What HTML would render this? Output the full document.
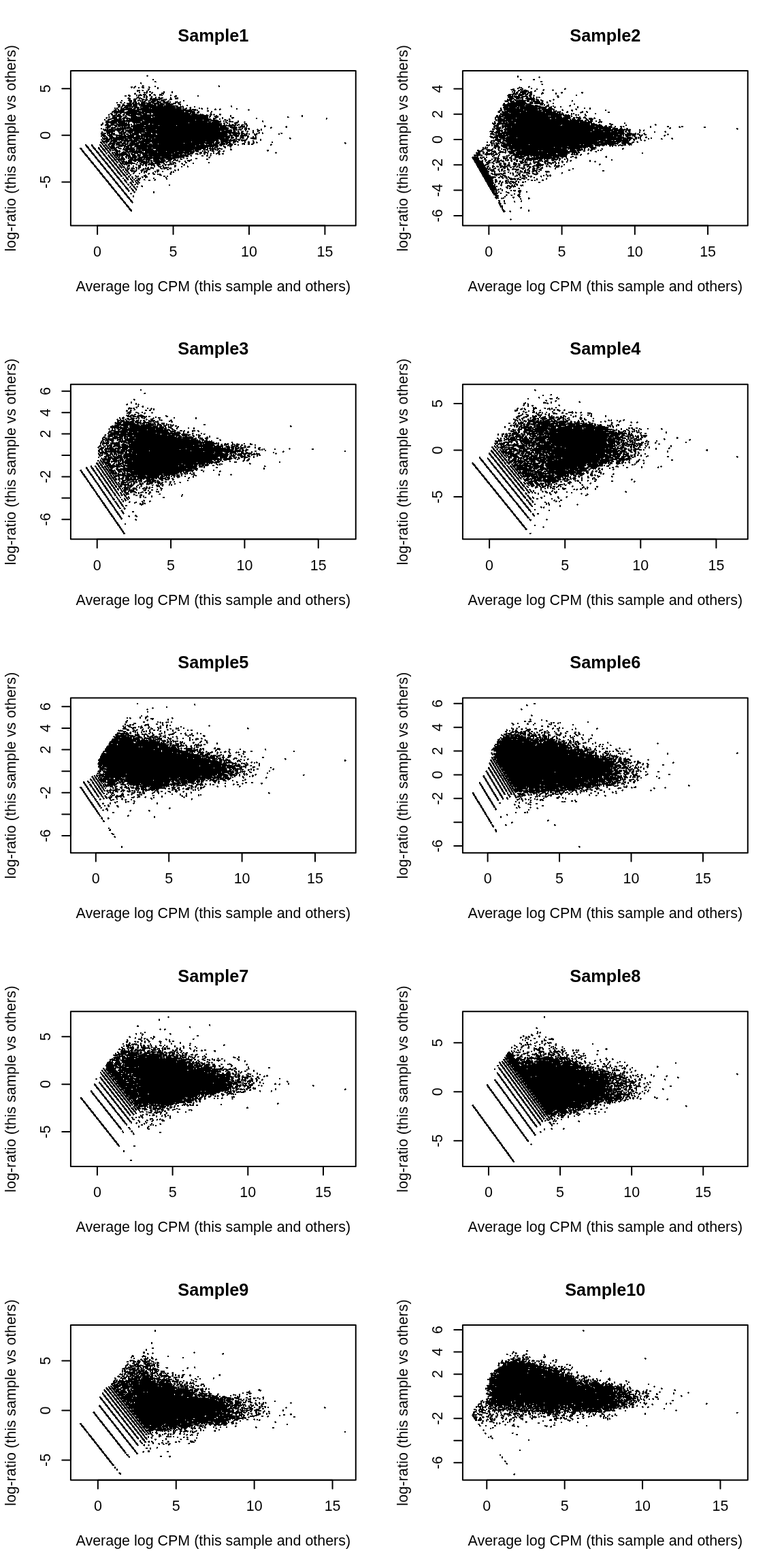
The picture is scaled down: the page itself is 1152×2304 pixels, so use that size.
<!DOCTYPE html>
<html lang="en"><head><meta charset="utf-8"><title>MD plots</title>
<style>
html,body{margin:0;padding:0;background:#fff}
svg{display:block}
text{font-family:"Liberation Sans",Arial,Helvetica,sans-serif;font-size:21.45px;fill:#000}
.t{font-weight:bold;font-size:25.34px}
.m{text-anchor:middle}
.y{letter-spacing:.14px}
.l{stroke:#000;stroke-width:2;fill:none;stroke-linecap:round;stroke-linejoin:round}
</style></head>
<body>
<svg width="1152" height="2304" viewBox="0 0 1152 2304">
<rect width="1152" height="2304" fill="#fff"/>
<g>
<path transform="translate(0 .5)" shape-rendering="crispEdges" stroke="#000" stroke-width="1" fill="none" d="M216 110h1M215 111h3M216 112h1M224 116h2M224 117h2M227 119h2M227 120h3M206 121h2M206 122h2M207 123h1M209 125h2m110 0h1M198 126h2m9 0h3m15 0h2m92 0h2M192 127h3m2 0h3m8 0h3m7 0h2m7 0h2m92 0h2M192 128h3m1 0h3m4 0h2m3 0h4m6 0h3m10 0h2M193 129h1m2 0h2m5 0h2m4 0h3m7 0h1m11 0h2M217 130h3m11 0h2M217 131h3M201 132h5m2 0h3m6 0h2M201 133h5m3 0h2m4 0h3M201 134h2m1 0h1m10 0h2m2 0h3m18 0h2m10 0h2M204 135h2m5 0h2m1 0h3m2 0h3m1 0h2m15 0h2m10 0h2M198 136h1m5 0h2m5 0h6m5 0h3m12 0h5m10 0h2M197 137h3m12 0h1m2 0h1m6 0h2m13 0h4M197 138h3m5 0h2m3 0h5m4 0h3m4 0h2m6 0h4m1 0h2M188 139h3m9 0h2m1 0h6m1 0h5m4 0h3m3 0h4m5 0h5m11 0h2M183 140h3m2 0h4m8 0h2m1 0h6m2 0h2m1 0h2m3 0h3m5 0h2m5 0h2m1 0h2m11 0h2m5 0h3m30 0h2M183 141h3m3 0h3m11 0h2m6 0h2m1 0h3m3 0h1m1 0h2m32 0h4m30 0h2M190 142h1m9 0h4m6 0h3m1 0h3m5 0h2m4 0h2m3 0h2m15 0h1m5 0h3M188 143h2m11 0h6m4 0h2m1 0h3m4 0h3m4 0h2m2 0h3m1 0h4m10 0h2m5 0h1m1 0h3M187 144h5m6 0h1m1 0h2m1 0h6m5 0h2m4 0h4m1 0h5m3 0h7m10 0h2m5 0h5M188 145h4m4 0h6m2 0h2m1 0h5m2 0h3m3 0h18m3 0h1m1 0h2m4 0h4m4 0h5M189 146h3m4 0h4m3 0h1m1 0h1m2 0h9m3 0h16m1 0h8m4 0h4M178 147h2m8 0h6m2 0h4m2 0h5m1 0h3m2 0h4m1 0h4m1 0h9m2 0h1m1 0h6m1 0h1m3 0h1m1 0h1m19 0h2M178 148h2m9 0h5m2 0h4m2 0h2m1 0h5m1 0h4m3 0h2m1 0h8m1 0h4m2 0h7m3 0h3m11 0h1m8 0h2M177 149h1m12 0h4m2 0h5m5 0h1m1 0h6m4 0h2m1 0h8m1 0h7m2 0h4m1 0h4m1 0h2m6 0h4m3 0h2M171 150h2m3 0h3m3 0h2m6 0h4m1 0h6m2 0h2m2 0h7m1 0h1m2 0h9m3 0h7m2 0h9m1 0h2m6 0h9M171 151h2m4 0h2m3 0h2m2 0h7m1 0h3m1 0h4m1 0h2m2 0h15m1 0h16m1 0h10m4 0h5m2 0h3M180 152h2m4 0h20m1 0h7m1 0h7m1 0h1m1 0h9m1 0h7m1 0h16m2 0h5M172 153h5m3 0h3m4 0h7m1 0h7m1 0h11m1 0h10m1 0h4m1 0h11m1 0h12m7 0h4M172 154h5m2 0h5m1 0h9m1 0h7m2 0h26m1 0h11m1 0h11m1 0h1m2 0h1m5 0h2m8 0h2M174 155h3m2 0h15m1 0h7m2 0h1m1 0h24m1 0h9m1 0h21m3 0h1m2 0h1m5 0h2m63 0h2M173 156h4m1 0h3m2 0h19m4 0h51m1 0h4m2 0h6m15 0h2m52 0h2M173 157h3m1 0h3m2 0h7m1 0h2m1 0h3m1 0h8m1 0h2m1 0h58m1 0h2m9 0h2m4 0h2m53 0h1M168 158h2m1 0h2m1 0h1m2 0h3m1 0h14m1 0h9m1 0h13m1 0h38m1 0h8m1 0h2m3 0h2m3 0h3m11 0h2m2 0h1m7 0h2M168 159h2m1 0h2m4 0h6m1 0h10m2 0h4m1 0h4m1 0h16m1 0h44m1 0h2m1 0h4m4 0h2m11 0h2m1 0h3m6 0h2m10 0h1m6 0h1m23 0h2M169 160h6m2 0h22m2 0h66m1 0h6m4 0h3m1 0h6m8 0h2m6 0h2m9 0h3m4 0h3m22 0h2m16 0h1M167 161h4m2 0h2m1 0h115m24 0h3m4 0h2m40 0h3M167 162h5m1 0h10m5 0h17m1 0h1m1 0h75m1 0h4m1 0h2m13 0h3m58 0h1M165 163h18m3 0h21m1 0h63m1 0h14m5 0h2m11 0h3m3 0h2M164 164h19m1 0h87m1 0h15m2 0h4m17 0h2M164 165h2m1 0h35m1 0h9m1 0h64m2 0h8m2 0h4m16 0h2M162 166h3m2 0h6m3 0h3m3 0h35m1 0h4m2 0h57m1 0h5m2 0h3m17 0h2M160 167h1m1 0h4m4 0h2m1 0h5m3 0h2m2 0h23m1 0h7m4 0h3m2 0h65m4 0h2m1 0h1m11 0h2m3 0h1m7 0h3M159 168h2m2 0h3m2 0h4m1 0h4m3 0h4m1 0h6m1 0h17m1 0h12m1 0h57m1 0h19m3 0h2m3 0h4m1 0h3m6 0h3M159 169h2m3 0h14m2 0h3m1 0h2m1 0h13m2 0h105m1 0h3m3 0h1m2 0h2m4 0h1m14 0h2m103 0h2M165 170h5m1 0h8m1 0h3m1 0h2m3 0h12m5 0h100m2 0h2m5 0h6m17 0h2m103 0h2M159 171h3m3 0h15m3 0h4m5 0h30m1 0h3m1 0h79m1 0h3m4 0h7m17 0h2m82 0h2m19 0h2M156 172h2m1 0h3m3 0h7m3 0h4m2 0h5m1 0h1m4 0h30m2 0h82m1 0h2m7 0h5m5 0h2m12 0h4m78 0h3M155 173h3m6 0h8m2 0h4m2 0h11m1 0h114m7 0h6m7 0h2m12 0h4m32 0h2m101 0h2M156 174h1m2 0h14m1 0h10m1 0h125m3 0h4m5 0h2m2 0h2m8 0h2m3 0h1m34 0h2m101 0h2M153 175h2m3 0h6m3 0h12m1 0h3m3 0h2m1 0h122m2 0h3m1 0h1m4 0h2m5 0h3m4 0h3m140 0h1M153 176h2m3 0h4m2 0h15m1 0h4m1 0h25m1 0h76m1 0h10m1 0h21m10 0h5m1 0h2M155 177h5m3 0h48m1 0h96m1 0h13m1 0h2m3 0h2m1 0h1m1 0h2m2 0h2m10 0h2m34 0h2M155 178h52m1 0h103m1 0h13m3 0h2m1 0h2m3 0h7m6 0h2m8 0h1m25 0h2M155 179h17m1 0h11m2 0h1m1 0h3m3 0h13m1 0h97m1 0h4m1 0h14m6 0h3m2 0h3m1 0h3m3 0h5m7 0h3m25 0h1M150 180h2m3 0h17m1 0h14m1 0h2m5 0h82m1 0h45m1 0h1m3 0h3m1 0h3m9 0h6m9 0h1M150 181h2m4 0h3m3 0h11m1 0h13m1 0h2m6 0h3m1 0h2m1 0h1m1 0h14m1 0h106m2 0h3m2 0h2m1 0h2m6 0h5m10 0h4M148 182h4m3 0h5m3 0h5m3 0h20m1 0h2m2 0h3m1 0h18m2 0h4m1 0h101m3 0h2m5 0h2m3 0h2m2 0h2m3 0h2m4 0h1m1 0h5M148 183h3m3 0h6m1 0h30m1 0h2m2 0h130m2 0h3m1 0h2m2 0h16m2 0h4m3 0h3M148 184h2m4 0h12m1 0h5m1 0h18m2 0h19m2 0h19m1 0h25m1 0h87m1 0h2m1 0h1m2 0h3m1 0h2m2 0h2m24 0h2M157 185h6m6 0h18m1 0h3m1 0h141m1 0h8m1 0h3m7 0h7m1 0h3m24 0h3m29 0h2M155 186h8m1 0h2m2 0h4m2 0h2m1 0h1m1 0h2m1 0h3m1 0h5m1 0h130m1 0h10m4 0h11m2 0h10m2 0h1m25 0h2m8 0h1m20 0h3M155 187h7m1 0h7m2 0h2m2 0h17m2 0h16m1 0h124m2 0h11m1 0h5m1 0h2m1 0h4m34 0h3m20 0h2M148 188h2m6 0h4m3 0h7m1 0h23m1 0h141m3 0h9m4 0h1m2 0h2m2 0h4m1 0h3m30 0h2M148 189h2m1 0h2m1 0h2m1 0h2m1 0h7m1 0h18m1 0h2m1 0h146m6 0h7m1 0h7m2 0h4m1 0h3m11 0h1m4 0h2M151 190h32m1 0h2m1 0h1m1 0h24m1 0h15m1 0h106m1 0h4m1 0h7m1 0h5m4 0h4m2 0h2m10 0h3m3 0h2M152 191h26m1 0h4m1 0h146m1 0h10m1 0h4m1 0h2m1 0h1m2 0h2m5 0h2m9 0h2m5 0h4m1 0h2M153 192h16m3 0h5m1 0h4m2 0h29m1 0h110m1 0h16m2 0h4m2 0h3m3 0h3m2 0h2m1 0h2m6 0h2m5 0h4M149 193h2m5 0h13m4 0h3m1 0h6m1 0h2m1 0h9m1 0h17m1 0h109m1 0h16m1 0h4m3 0h2m3 0h4m4 0h3m6 0h2m5 0h2M149 194h3m4 0h10m8 0h12m1 0h8m2 0h151m1 0h3m2 0h3m6 0h1m7 0h2m7 0h2m3 0h1M148 195h3m1 0h4m1 0h5m1 0h6m5 0h6m1 0h4m4 0h19m2 0h1m1 0h10m1 0h130m1 0h5m2 0h3m7 0h2m4 0h1m1 0h3m3 0h2m25 0h3M148 196h8m1 0h5m1 0h6m6 0h9m1 0h4m1 0h3m1 0h10m2 0h16m2 0h5m1 0h104m2 0h4m1 0h12m1 0h6m1 0h3m1 0h2m6 0h2m1 0h3m1 0h1m4 0h2m22 0h2m2 0h2M148 197h6m3 0h2m1 0h10m1 0h1m3 0h1m1 0h7m1 0h4m2 0h13m3 0h22m2 0h104m2 0h3m2 0h7m1 0h2m2 0h3m1 0h6m1 0h2m6 0h5m31 0h2M149 198h6m3 0h7m1 0h14m2 0h3m2 0h18m2 0h127m3 0h15m1 0h10m11 0h4M148 199h8m2 0h8m4 0h16m1 0h10m3 0h142m1 0h8m2 0h13m8 0h2M148 200h2m1 0h6m3 0h6m4 0h3m1 0h23m2 0h139m1 0h3m3 0h6m2 0h6m1 0h1m2 0h3m5 0h2m2 0h2M150 201h1m1 0h2m1 0h3m2 0h8m2 0h36m1 0h3m1 0h127m1 0h5m2 0h3m3 0h6m5 0h3m5 0h2m2 0h2M150 202h2m1 0h6m2 0h25m1 0h26m1 0h4m1 0h8m1 0h102m1 0h7m1 0h5m2 0h2m5 0h6m4 0h2m3 0h9m48 0h2M150 203h9m1 0h34m1 0h18m1 0h123m2 0h4m3 0h2m4 0h2m1 0h4m3 0h2m4 0h9m48 0h3M149 204h1m1 0h14m1 0h16m1 0h5m1 0h6m1 0h26m1 0h113m2 0h2m3 0h11m1 0h1m5 0h3m7 0h6m5 0h2m42 0h1M148 205h3m1 0h2m1 0h7m1 0h26m1 0h5m1 0h8m1 0h2m2 0h112m2 0h23m1 0h1m1 0h4m1 0h9m19 0h2M149 206h3m2 0h7m1 0h11m1 0h2m2 0h28m1 0h115m2 0h24m2 0h3m1 0h8m9 0h2m9 0h2M150 207h11m1 0h10m4 0h5m1 0h20m1 0h113m1 0h4m3 0h11m1 0h5m1 0h8m5 0h2m1 0h3m4 0h1m5 0h2M147 208h13m1 0h4m1 0h13m2 0h4m1 0h4m2 0h10m1 0h78m1 0h20m1 0h12m2 0h6m1 0h15m3 0h5m1 0h3m8 0h2m3 0h3m5 0h2m2 0h2m21 0h2M147 209h3m1 0h3m1 0h3m3 0h3m1 0h5m1 0h9m1 0h4m1 0h3m1 0h9m1 0h12m1 0h8m2 0h92m1 0h7m1 0h5m1 0h9m3 0h4m3 0h1m9 0h2m3 0h3m4 0h3m2 0h3m20 0h2m105 0h2M148 210h3m1 0h3m1 0h2m2 0h25m1 0h3m1 0h30m1 0h1m1 0h47m1 0h44m1 0h7m1 0h7m1 0h3m1 0h4m2 0h2m12 0h4m4 0h3m4 0h3m3 0h1m128 0h3M149 211h3m1 0h1m1 0h1m3 0h10m1 0h6m3 0h10m1 0h14m2 0h17m1 0h8m1 0h67m2 0h10m1 0h9m1 0h12m1 0h6m2 0h3m8 0h5m4 0h3m2 0h4m25 0h1m108 0h1M125 212h2m7 0h2m10 0h2m2 0h2m2 0h3m1 0h5m1 0h5m1 0h12m1 0h5m1 0h15m1 0h12m1 0h75m1 0h7m2 0h2m1 0h14m2 0h9m1 0h2m1 0h7m2 0h3m2 0h2m5 0h1m1 0h2m4 0h3m2 0h3m25 0h3M125 213h3m6 0h3m9 0h3m2 0h6m1 0h3m2 0h6m1 0h15m2 0h134m1 0h5m1 0h1m5 0h8m7 0h2m46 0h2M126 214h3m5 0h3m10 0h3m1 0h3m1 0h3m1 0h3m1 0h5m6 0h21m3 0h89m1 0h33m2 0h3m2 0h2m4 0h2m1 0h4M126 215h4m5 0h3m9 0h3m2 0h3m1 0h3m1 0h9m2 0h9m2 0h8m1 0h3m3 0h118m1 0h5m7 0h4m5 0h3M127 216h4m5 0h3m5 0h2m2 0h3m2 0h3m1 0h3m1 0h8m1 0h5m7 0h2m1 0h5m1 0h4m1 0h3m1 0h106m2 0h2m1 0h2m1 0h6m9 0h3m6 0h2M117 217h3m8 0h3m5 0h4m4 0h3m2 0h3m2 0h3m1 0h14m1 0h5m3 0h16m3 0h16m1 0h6m1 0h79m1 0h2m1 0h3m1 0h3m1 0h2m1 0h2m1 0h3m6 0h2M117 218h4m8 0h3m5 0h4m3 0h3m3 0h3m1 0h7m1 0h9m3 0h5m2 0h2m1 0h15m1 0h102m2 0h2m1 0h10m1 0h9m11 0h2M118 219h3m9 0h3m5 0h3m4 0h3m2 0h4m1 0h3m2 0h4m1 0h1m1 0h5m5 0h1m2 0h19m1 0h25m4 0h67m2 0h8m2 0h10m1 0h3m2 0h3m11 0h3M119 220h3m8 0h4m5 0h3m4 0h3m2 0h4m1 0h3m1 0h3m1 0h9m2 0h1m4 0h18m2 0h2m1 0h4m1 0h19m1 0h57m1 0h9m4 0h2m1 0h4m2 0h2m1 0h3m2 0h5m1 0h1m15 0h3m51 0h3M120 221h3m8 0h4m5 0h3m4 0h3m2 0h3m2 0h3m1 0h3m1 0h2m1 0h9m6 0h5m2 0h92m1 0h9m5 0h2m1 0h2m3 0h2m1 0h7m4 0h1m1 0h3m4 0h2m62 0h3M120 222h4m8 0h3m6 0h3m3 0h4m2 0h3m2 0h3m1 0h1m6 0h8m4 0h2m1 0h25m1 0h1m2 0h31m1 0h16m1 0h8m1 0h15m1 0h5m5 0h2m1 0h2m3 0h2m4 0h4m5 0h4m3 0h3m63 0h1M121 223h3m9 0h3m5 0h4m3 0h3m3 0h2m2 0h4m2 0h2m1 0h2m1 0h4m1 0h2m2 0h32m2 0h18m1 0h54m2 0h1m1 0h2m1 0h4m2 0h5m1 0h2m6 0h1m6 0h3m5 0h1m76 0h1M122 224h3m9 0h3m5 0h4m3 0h3m3 0h3m1 0h3m2 0h10m1 0h1m2 0h8m1 0h3m1 0h1m1 0h63m1 0h21m1 0h6m8 0h4m2 0h7m7 0h2m4 0h4m81 0h3M123 225h3m8 0h4m5 0h3m4 0h3m2 0h3m2 0h3m1 0h3m1 0h6m1 0h12m1 0h3m1 0h3m2 0h6m2 0h64m1 0h14m3 0h4m2 0h4m2 0h3m2 0h2m3 0h2m2 0h2m2 0h6m3 0h3m76 0h1M124 226h3m8 0h4m5 0h3m4 0h3m2 0h1m4 0h3m1 0h3m1 0h19m1 0h2m1 0h7m2 0h4m1 0h1m2 0h8m1 0h34m1 0h15m1 0h1m1 0h3m1 0h8m4 0h5m1 0h2m4 0h3m2 0h2m3 0h2m6 0h2m2 0h3m2 0h3M124 227h4m8 0h3m6 0h3m3 0h4m3 0h2m2 0h3m1 0h25m2 0h6m3 0h5m2 0h54m1 0h15m1 0h1m9 0h1m9 0h1m3 0h1m4 0h1m11 0h2M125 228h4m8 0h3m5 0h4m3 0h3m3 0h3m1 0h4m1 0h16m2 0h7m2 0h6m1 0h6m3 0h67m2 0h3m14 0h3m4 0h3m2 0h3M126 229h3m9 0h3m5 0h3m4 0h3m3 0h3m1 0h3m1 0h3m1 0h3m1 0h2m1 0h3m3 0h8m2 0h7m1 0h4m3 0h9m1 0h58m3 0h2m14 0h3m4 0h3m3 0h1M127 230h3m9 0h3m5 0h3m4 0h3m2 0h3m2 0h3m1 0h9m1 0h3m3 0h3m1 0h5m1 0h8m1 0h21m1 0h11m1 0h15m1 0h18m2 0h4m30 0h2M128 231h3m8 0h4m5 0h3m4 0h3m2 0h3m2 0h3m1 0h3m1 0h3m2 0h4m2 0h3m1 0h14m1 0h68m35 0h3M129 232h3m8 0h3m6 0h3m3 0h4m2 0h3m2 0h3m1 0h3m1 0h2m1 0h6m2 0h2m1 0h2m1 0h9m2 0h8m1 0h52m2 0h1m3 0h2m3 0h2m11 0h3m17 0h1M129 233h4m8 0h3m5 0h4m3 0h3m3 0h3m2 0h3m1 0h13m4 0h8m1 0h12m1 0h3m1 0h9m2 0h16m1 0h1m1 0h14m6 0h4m6 0h2m11 0h3m13 0h3M130 234h3m9 0h3m5 0h4m3 0h3m3 0h3m1 0h17m6 0h31m4 0h9m1 0h8m1 0h9m2 0h4m1 0h2m3 0h3m12 0h2m21 0h3M131 235h3m9 0h3m5 0h3m4 0h3m2 0h4m1 0h3m2 0h6m1 0h3m5 0h23m3 0h10m1 0h10m1 0h7m4 0h5m2 0h8m13 0h7M132 236h3m8 0h4m5 0h3m4 0h3m2 0h4m1 0h3m1 0h3m1 0h6m2 0h1m2 0h6m1 0h6m1 0h11m1 0h2m1 0h3m1 0h3m1 0h19m2 0h5m3 0h2m2 0h4m1 0h2m6 0h2m2 0h5M133 237h3m8 0h4m5 0h3m4 0h3m2 0h3m2 0h3m1 0h3m1 0h9m1 0h6m3 0h3m3 0h17m1 0h3m1 0h18m1 0h4m1 0h2m1 0h2m8 0h3m6 0h2m4 0h2M133 238h4m8 0h3m6 0h3m3 0h4m2 0h3m2 0h3m1 0h3m1 0h16m6 0h2m2 0h1m1 0h13m1 0h4m2 0h14m2 0h3m3 0h2m1 0h6m5 0h1m8 0h3m31 0h2M134 239h4m8 0h3m5 0h4m3 0h3m3 0h3m1 0h3m2 0h6m1 0h15m3 0h2m2 0h12m1 0h2m1 0h5m1 0h15m2 0h1m4 0h3m2 0h5m8 0h1m4 0h3m8 0h2m21 0h2M135 240h3m9 0h3m5 0h4m3 0h3m2 0h4m5 0h23m1 0h1m4 0h3m2 0h7m1 0h17m5 0h2m7 0h7m1 0h2m7 0h3m14 0h2M136 241h3m8 0h4m5 0h3m4 0h3m2 0h4m2 0h2m1 0h3m1 0h7m1 0h1m2 0h2m5 0h3m4 0h6m1 0h3m1 0h10m3 0h6m4 0h5m1 0h10m11 0h2m1 0h2M137 242h3m8 0h4m5 0h3m4 0h3m2 0h3m2 0h3m1 0h3m1 0h2m1 0h2m1 0h3m9 0h2m1 0h5m1 0h2m2 0h3m1 0h3m1 0h7m2 0h6m2 0h2m2 0h3m1 0h4m1 0h1m4 0h3m10 0h3M138 243h3m8 0h3m6 0h3m3 0h4m2 0h3m2 0h3m1 0h2m6 0h4m4 0h2m6 0h4m2 0h2m2 0h3m6 0h2m1 0h3m3 0h3m4 0h3m1 0h2m3 0h1m8 0h3m11 0h1m4 0h1M138 244h4m8 0h3m5 0h4m3 0h3m3 0h3m1 0h4m1 0h3m4 0h4m4 0h2m6 0h4m7 0h2m10 0h2m4 0h6m1 0h2m15 0h3m7 0h2m7 0h2M139 245h3m9 0h3m5 0h4m3 0h3m3 0h3m1 0h8m3 0h2m6 0h1m3 0h2m2 0h4m10 0h2m2 0h3m2 0h2m5 0h4m2 0h3m1 0h2m1 0h2m8 0h2m8 0h2m7 0h2M140 246h3m9 0h3m5 0h3m4 0h3m2 0h4m1 0h3m1 0h3m2 0h2m1 0h2m2 0h4m2 0h3m1 0h4m6 0h2m1 0h3m2 0h5m9 0h2m2 0h9m1 0h3M141 247h3m8 0h4m5 0h3m4 0h3m2 0h3m2 0h1m4 0h2m1 0h5m1 0h6m2 0h2m1 0h2m5 0h2m1 0h6m1 0h6m9 0h4m1 0h6m2 0h4M142 248h3m8 0h3m6 0h3m3 0h4m2 0h3m3 0h2m1 0h3m1 0h3m3 0h5m2 0h1m2 0h2m4 0h6m1 0h5m4 0h1m11 0h2m1 0h3m2 0h3m1 0h3m9 0h2M142 249h4m8 0h3m6 0h3m4 0h3m2 0h3m2 0h2m2 0h6m1 0h4m4 0h3m5 0h5m2 0h7m9 0h4m11 0h3m8 0h2m3 0h2M143 250h4m8 0h3m5 0h4m3 0h3m3 0h3m1 0h2m2 0h4m3 0h7m1 0h2m5 0h5m1 0h1m1 0h3m13 0h4m22 0h3m2 0h2M144 251h3m9 0h3m5 0h3m4 0h3m2 0h4m2 0h2m1 0h4m3 0h9m6 0h3m1 0h6m10 0h2m1 0h4m4 0h2m11 0h1m2 0h1m2 0h1M145 252h3m8 0h4m5 0h3m4 0h3m2 0h3m2 0h2m2 0h3m4 0h2m1 0h4m7 0h2m2 0h5m11 0h2m1 0h3m5 0h2m11 0h2m1 0h2M146 253h3m8 0h4m5 0h3m3 0h4m2 0h3m2 0h3m1 0h3m6 0h2m9 0h2m2 0h2m1 0h2m8 0h2m2 0h1m2 0h1m18 0h3m1 0h2M146 254h4m8 0h3m6 0h3m3 0h4m2 0h3m2 0h2m2 0h3m4 0h3m6 0h2m5 0h2m5 0h2m4 0h2m24 0h2M147 255h4m8 0h3m5 0h4m3 0h3m3 0h3m3 0h2m1 0h2m4 0h2m7 0h2m11 0h3m4 0h4m3 0h2m1 0h2m13 0h3M148 256h3m9 0h3m5 0h3m4 0h3m2 0h4m1 0h3m3 0h2m20 0h1m4 0h1m6 0h3m3 0h6m13 0h2M149 257h3m9 0h3m5 0h3m4 0h3m2 0h4m1 0h1m3 0h3m6 0h1m11 0h4m19 0h4M150 258h3m8 0h4m5 0h3m4 0h3m2 0h3m3 0h2m1 0h1m6 0h3m1 0h2m7 0h5m20 0h1m3 0h3m2 0h2M150 259h4m8 0h3m6 0h3m3 0h3m4 0h2m2 0h3m2 0h2m4 0h5m4 0h2m1 0h6m23 0h3m2 0h2M151 260h4m8 0h3m5 0h4m9 0h3m1 0h3m2 0h3m4 0h2m6 0h3m2 0h4m26 0h2M152 261h3m9 0h3m5 0h4m4 0h2m3 0h3m3 0h1m2 0h2m2 0h2m2 0h2m1 0h2m2 0h1m3 0h2m10 0h2m16 0h2M153 262h3m9 0h3m5 0h3m4 0h2m3 0h4m2 0h2m1 0h2m2 0h3m1 0h5m18 0h2m17 0h2M154 263h3m8 0h4m5 0h3m5 0h2m2 0h3m2 0h3m2 0h2m4 0h4m5 0h2m14 0h2m15 0h2M155 264h3m8 0h3m6 0h3m4 0h3m2 0h2m3 0h3m1 0h2m2 0h6m5 0h3m4 0h3m5 0h3M155 265h4m8 0h3m6 0h3m3 0h4m7 0h3m2 0h5m1 0h1m13 0h3m6 0h1M156 266h4m8 0h3m5 0h4m3 0h3m7 0h3m2 0h2m2 0h2M157 267h3m9 0h3m5 0h3m4 0h3m4 0h2m1 0h3m2 0h6M158 268h3m8 0h4m5 0h3m4 0h2m3 0h4m1 0h2m2 0h3m1 0h3M159 269h3m8 0h4m5 0h3m4 0h1m4 0h3m6 0h3m1 0h1M159 270h4m8 0h3m6 0h3m4 0h3m2 0h3m3 0h2m1 0h3M160 271h4m8 0h3m5 0h3m4 0h3m3 0h3m1 0h3m2 0h1m45 0h2M161 272h3m9 0h3m6 0h2m4 0h2m3 0h3m12 0h1m39 0h2M162 273h3m8 0h4m5 0h3m6 0h1m3 0h3m3 0h1m5 0h3M163 274h3m8 0h4m5 0h3m4 0h3m2 0h3m2 0h3m5 0h2M163 275h4m8 0h3m6 0h3m3 0h2m4 0h3m2 0h1M164 276h4m8 0h3m5 0h4m4 0h2m3 0h3M165 277h3m9 0h3m5 0h4m3 0h3m3 0h3M166 278h3m9 0h3m5 0h3m4 0h3m3 0h2M167 279h3m8 0h4m5 0h3m4 0h3m2 0h2M168 280h3m8 0h3m6 0h3m3 0h3M168 281h4m8 0h3m5 0h2m6 0h3m26 0h2M169 282h3m9 0h3m12 0h3m26 0h2M170 283h3m9 0h3m7 0h1m4 0h1m27 0h2M171 284h3m8 0h4m5 0h3M172 285h3m8 0h4m5 0h1M172 286h4m8 0h3M173 287h4m8 0h3m7 0h2M174 288h3m9 0h3m6 0h2M175 289h3m8 0h4m5 0h2M176 290h3m8 0h4M176 291h4m8 0h3M177 292h4m8 0h3M178 293h3m9 0h3M179 294h3m9 0h3M180 295h3m8 0h4M181 296h3m8 0h3M181 297h4m8 0h3M182 298h3m9 0h1M183 299h3M184 300h3M185 301h3M185 302h4M186 303h4M187 304h3M188 305h3M189 306h3M189 307h4M190 308h4M191 309h3M192 310h2"/>
<path class="l" d="M103.91 103.91H522.78V331.55H103.91Z"/>
<path class="l" d="M143.09 331.55H477.44M143.09 331.55V344.22M254.54 331.55V344.22M365.99 331.55V344.22M477.44 331.55V344.22M103.91 130.25V267.45M103.91 130.25H91.24M103.91 198.85H91.24M103.91 267.45H91.24"/>
<text class="m" x="143.09" y="376.86">0</text>
<text class="m" x="254.54" y="376.86">5</text>
<text class="m" x="365.99" y="376.86">10</text>
<text class="m" x="477.44" y="376.86">15</text>
<text class="m" transform="translate(73.5 130.25) rotate(-90)">5</text>
<text class="m" transform="translate(73.5 198.85) rotate(-90)">0</text>
<text class="m" transform="translate(73.5 267.45) rotate(-90)">-5</text>
<text class="m t" x="313.34" y="60.51">Sample1</text>
<text class="m" x="313.34" y="427.85">Average log CPM (this sample and others)</text>
<text class="m y" transform="translate(22.81 217.73) rotate(-90)">log-ratio (this sample vs others)</text>
</g>
<g>
<path transform="translate(0 .5)" shape-rendering="crispEdges" stroke="#000" stroke-width="1" fill="none" d="M760 111h2M760 112h2m30 0h1M760 113h2m29 0h3M792 114h1M764 116h2m17 0h3M764 117h3m16 0h3M794 119h3M794 120h3M795 123h3M796 124h2M777 126h1M763 127h1m12 0h3M762 128h5m9 0h2M760 129h4m1 0h3m12 0h2m48 0h1M753 130h3m4 0h2m3 0h1m1 0h2m11 0h2m6 0h2m39 0h3M750 131h6m8 0h5m2 0h1m16 0h2m8 0h2m12 0h1m16 0h2M751 132h6m4 0h7m1 0h6m11 0h1m10 0h3m11 0h3M754 133h4m3 0h3m2 0h11m8 0h3m10 0h1m13 0h1M752 134h2m1 0h2m3 0h2m2 0h13m2 0h3m3 0h2M752 135h2m1 0h2m1 0h4m2 0h10m2 0h6m14 0h2m26 0h3m27 0h3M754 136h3m1 0h3m3 0h9m1 0h8m14 0h3m17 0h2m6 0h3m27 0h3M753 137h8m1 0h3m2 0h6m1 0h3m1 0h4m13 0h4m17 0h2m7 0h1m29 0h1M747 138h14m1 0h14m2 0h4m13 0h2m19 0h2M746 139h5m1 0h3m1 0h3m2 0h9m2 0h4m1 0h5m2 0h1m61 0h2M745 140h6m1 0h2m1 0h2m1 0h1m2 0h7m3 0h3m3 0h4m2 0h3m32 0h3m25 0h2M746 141h19m1 0h10m1 0h4m3 0h1m33 0h3M746 142h8m1 0h9m2 0h5m1 0h4m2 0h3m2 0h2m3 0h2m1 0h2m26 0h3M746 143h9m1 0h13m4 0h4m1 0h4m1 0h2m3 0h2m1 0h3m25 0h2M748 144h7m3 0h11m3 0h14m2 0h1M745 145h2m1 0h9m1 0h5m4 0h2m3 0h14m1 0h3m23 0h1M745 146h8m2 0h4m1 0h1m1 0h7m5 0h12m1 0h5m2 0h2m16 0h3M742 147h1m1 0h8m2 0h1m1 0h22m2 0h6m2 0h4m2 0h4m9 0h2m4 0h1m26 0h2M741 148h7m1 0h7m1 0h16m1 0h4m3 0h1m1 0h10m2 0h4m8 0h3m30 0h2M742 149h5m2 0h7m2 0h14m2 0h4m1 0h15m2 0h2m5 0h2m3 0h1m31 0h1M746 150h2m2 0h23m5 0h5m2 0h9m1 0h3m5 0h2M740 151h2m4 0h28m4 0h6m1 0h14m4 0h3m6 0h2M739 152h3m3 0h38m2 0h14m13 0h2m29 0h2M739 153h33m1 0h8m12 0h5m1 0h2m4 0h2m36 0h2M738 154h46m2 0h4m4 0h4m1 0h2m2 0h4m30 0h2M739 155h32m1 0h22m5 0h1m3 0h4m5 0h2m22 0h3M740 156h20m1 0h35m1 0h1m3 0h6m2 0h2m1 0h2m1 0h1m7 0h2m12 0h1m10 0h2M739 157h8m1 0h15m1 0h40m2 0h5m3 0h3m6 0h2m23 0h2M735 158h2m2 0h19m1 0h31m1 0h12m3 0h5m3 0h2m32 0h2m8 0h2m6 0h2M735 159h2m3 0h23m1 0h39m2 0h8m33 0h1m11 0h2m6 0h2M735 160h3m2 0h54m2 0h19m11 0h1m18 0h3m18 0h2M735 161h3m2 0h29m1 0h20m2 0h19m1 0h3m10 0h3m11 0h3m4 0h2m41 0h2M733 162h5m3 0h2m1 0h52m1 0h14m2 0h2m1 0h2m8 0h2m11 0h3m47 0h2M732 163h4m1 0h3m1 0h32m1 0h22m1 0h14m2 0h6m1 0h1m1 0h2m9 0h2m5 0h2m13 0h2m4 0h2M731 164h4m2 0h80m1 0h6m8 0h3m18 0h4m4 0h3m29 0h3M732 165h3m2 0h10m1 0h16m1 0h36m1 0h15m1 0h6m1 0h2m5 0h3m17 0h5m5 0h2m29 0h3M735 166h2m1 0h11m1 0h70m1 0h3m1 0h3m11 0h2m1 0h2m9 0h1m20 0h2M735 167h94m10 0h2m1 0h2m15 0h2m13 0h2M734 168h95m1 0h3m1 0h2m3 0h2m4 0h3m1 0h2m8 0h2M729 169h3m1 0h3m1 0h89m1 0h11m1 0h1m5 0h3m1 0h2m8 0h3M729 170h3m1 0h73m1 0h1m1 0h16m2 0h11m1 0h2m19 0h2M728 171h12m1 0h85m3 0h9m1 0h2m5 0h2m3 0h2m5 0h2M727 172h10m1 0h88m1 0h12m3 0h3m1 0h7m4 0h4m12 0h1M727 173h2m2 0h6m3 0h18m1 0h57m1 0h21m4 0h3m1 0h8m3 0h5m3 0h5m2 0h3M727 174h2m2 0h77m2 0h29m1 0h5m4 0h5m6 0h3m2 0h7m1 0h2M727 175h3m1 0h11m1 0h92m2 0h2m1 0h6m2 0h5m8 0h3m1 0h7m8 0h2M728 176h24m1 0h83m1 0h20m2 0h6m2 0h4m9 0h3M728 177h2m1 0h126m2 0h3m1 0h3m1 0h4m4 0h2m4 0h1M726 178h2m3 0h14m1 0h116m2 0h7m4 0h2m3 0h5M726 179h2m4 0h5m2 0h3m1 0h108m1 0h18m9 0h6M723 180h2m1 0h3m2 0h15m1 0h9m2 0h112m2 0h1m6 0h2m2 0h1m33 0h2M723 181h6m1 0h137m1 0h6m21 0h3m19 0h2M724 182h4m2 0h137m1 0h9m3 0h2m13 0h6m61 0h2M725 183h2m1 0h6m4 0h2m1 0h84m1 0h41m1 0h16m13 0h4m18 0h2m41 0h3M726 184h7m4 0h87m1 0h60m4 0h3m5 0h2m20 0h2m42 0h1M725 185h8m4 0h137m1 0h11m2 0h4m2 0h5m4 0h2m6 0h3m1 0h2m38 0h2m23 0h3m15 0h1m2 0h3M725 186h3m1 0h4m1 0h2m1 0h14m1 0h141m1 0h6m3 0h2m6 0h3m1 0h3m37 0h2m23 0h3m14 0h3m1 0h3m30 0h3M725 187h3m1 0h7m1 0h4m1 0h2m1 0h155m1 0h3m8 0h2m41 0h2m27 0h2m12 0h2m34 0h3M724 188h1m1 0h10m1 0h2m3 0h137m1 0h18m2 0h8m3 0h3m6 0h3m60 0h3m96 0h2M723 189h4m1 0h8m1 0h1m2 0h158m1 0h9m2 0h6m1 0h2m1 0h3m2 0h1m58 0h1m97 0h3M723 190h4m2 0h6m2 0h1m2 0h132m1 0h11m1 0h42m12 0h2m5 0h1m136 0h1M724 191h1m5 0h9m2 0h131m1 0h28m1 0h16m1 0h8m12 0h3m3 0h2M720 192h6m3 0h10m2 0h3m1 0h172m1 0h3m2 0h3m14 0h1m4 0h2m30 0h1M719 193h7m2 0h7m1 0h3m1 0h128m1 0h18m1 0h9m1 0h9m1 0h9m1 0h3m2 0h4m12 0h2m20 0h2m13 0h3M722 194h3m1 0h9m2 0h180m2 0h2m1 0h1m1 0h2m13 0h2m20 0h2m14 0h2M721 195h4m1 0h192m3 0h7m5 0h2m4 0h1m6 0h2M720 196h6m2 0h2m1 0h187m1 0h1m1 0h14m1 0h3m6 0h3m33 0h1M720 197h7m1 0h2m1 0h7m1 0h3m1 0h166m1 0h7m1 0h17m1 0h5m2 0h1m2 0h4m30 0h3M724 198h190m1 0h2m1 0h10m1 0h5m5 0h2m1 0h3m2 0h3m26 0h2m3 0h1M720 199h2m6 0h19m1 0h153m1 0h12m1 0h2m2 0h8m1 0h6m5 0h5m31 0h3M719 200h5m2 0h18m1 0h169m1 0h1m3 0h5m1 0h1m3 0h1m1 0h3m6 0h3m6 0h1m26 0h1M720 201h12m1 0h9m2 0h162m1 0h10m3 0h8m4 0h4m1 0h2m1 0h2m6 0h3M721 202h11m1 0h26m1 0h160m1 0h9m3 0h3m1 0h5m6 0h3m5 0h2m29 0h1M724 203h2m2 0h4m3 0h195m1 0h1m1 0h3m1 0h2m1 0h2m10 0h2m2 0h2m13 0h2m13 0h3M727 204h10m1 0h4m1 0h147m2 0h22m1 0h13m2 0h6m4 0h2m10 0h2m17 0h3m13 0h2M725 205h1m1 0h10m1 0h185m1 0h3m3 0h3m8 0h2m4 0h1M721 206h15m3 0h141m2 0h17m1 0h3m2 0h21m5 0h2m8 0h2m3 0h3M721 207h3m1 0h2m3 0h6m2 0h140m1 0h46m6 0h1m4 0h1m10 0h1M715 208h2m3 0h3m1 0h3m4 0h6m1 0h2m3 0h144m1 0h25m1 0h10m5 0h3m3 0h3M715 209h2m3 0h4m1 0h1m2 0h2m1 0h2m1 0h9m1 0h161m1 0h5m2 0h12m3 0h4m4 0h2M721 210h6m1 0h6m1 0h8m1 0h137m1 0h27m4 0h17M721 211h3m1 0h2m1 0h7m2 0h172m5 0h6m2 0h6M715 212h2m1 0h2m2 0h2m1 0h2m1 0h4m4 0h2m1 0h12m1 0h25m1 0h74m1 0h4m1 0h13m1 0h20m1 0h10m1 0h1m2 0h1m2 0h3m1 0h1m1 0h4m3 0h6M714 213h6m2 0h2m2 0h7m3 0h136m2 0h15m1 0h2m3 0h11m2 0h12m4 0h2m1 0h1M715 214h4m3 0h2m1 0h8m3 0h136m2 0h8m3 0h3m7 0h3m1 0h2m3 0h2m2 0h2m3 0h2M713 215h1m12 0h9m2 0h9m1 0h87m1 0h37m3 0h1m4 0h1m15 0h1m2 0h2M709 216h2m1 0h5m8 0h5m1 0h4m4 0h7m1 0h67m1 0h49m2 0h10M709 217h2m1 0h2m1 0h2m8 0h4m2 0h4m5 0h6m1 0h78m1 0h30m1 0h4m6 0h10m38 0h1M709 218h7m7 0h2m2 0h2m3 0h2m2 0h2m5 0h90m1 0h19m1 0h2m2 0h2m4 0h2m2 0h7m8 0h3m28 0h3M708 219h3m1 0h1m1 0h6m1 0h4m6 0h3m2 0h2m1 0h5m1 0h2m1 0h6m2 0h77m1 0h2m1 0h8m1 0h11m1 0h2m4 0h2m2 0h7m9 0h2m28 0h2M701 220h3m3 0h4m4 0h9m8 0h2m5 0h5m1 0h2m3 0h15m1 0h68m3 0h9m2 0h9m1 0h2m3 0h3m1 0h4m7 0h2m2 0h2M701 221h8m6 0h9m1 0h3m4 0h4m6 0h2m1 0h1m2 0h1m1 0h41m1 0h4m1 0h38m2 0h17m3 0h3m4 0h1m2 0h3m8 0h2m2 0h2M702 222h9m5 0h4m2 0h7m5 0h6m2 0h2m2 0h12m1 0h88m1 0h3m6 0h3m8 0h1m5 0h3M700 223h1m1 0h4m3 0h3m2 0h3m5 0h7m4 0h11m2 0h10m2 0h90m1 0h3m23 0h2M699 224h7m3 0h3m2 0h3m4 0h2m2 0h5m2 0h5m1 0h2m1 0h3m4 0h8m1 0h80m3 0h12m12 0h1m78 0h2M699 225h7m3 0h3m1 0h13m2 0h3m1 0h2m8 0h1m5 0h9m1 0h46m1 0h12m2 0h18m3 0h2m1 0h2m1 0h4m13 0h3m77 0h2M700 226h6m4 0h1m1 0h14m1 0h5m1 0h2m14 0h3m1 0h65m1 0h15m5 0h6m1 0h3m4 0h2m8 0h2M696 227h13m3 0h8m1 0h3m1 0h6m2 0h2m12 0h2m4 0h81m5 0h3m1 0h7m2 0h3M696 228h13m5 0h2m6 0h1m1 0h3m5 0h2m10 0h5m2 0h12m1 0h4m1 0h9m1 0h54m13 0h1m5 0h2M697 229h2m1 0h3m4 0h2m14 0h4m5 0h2m5 0h1m1 0h1m1 0h3m1 0h1m3 0h2m3 0h17m1 0h4m1 0h3m1 0h9m1 0h40m7 0h3m47 0h2M694 230h9m2 0h2m2 0h3m2 0h2m7 0h2m6 0h2m5 0h5m1 0h3m3 0h2m4 0h15m4 0h3m2 0h1m3 0h2m1 0h24m1 0h10m1 0h10m5 0h5m2 0h3m41 0h3M693 231h10m2 0h7m2 0h2m9 0h5m1 0h2m6 0h3m1 0h3m2 0h4m4 0h14m3 0h5m3 0h41m3 0h3m3 0h2m5 0h2m4 0h4m42 0h2M694 232h10m1 0h4m2 0h3m11 0h9m5 0h7m2 0h5m3 0h3m3 0h6m1 0h2m2 0h43m2 0h6m1 0h2m5 0h2m11 0h3M694 233h10m3 0h2m2 0h3m8 0h2m3 0h2m1 0h4m5 0h7m4 0h2m2 0h4m4 0h9m1 0h26m1 0h10m1 0h10m1 0h3m5 0h2m1 0h3M695 234h9m7 0h4m7 0h2m2 0h3m1 0h3m3 0h1m5 0h2m1 0h3m2 0h3m1 0h7m6 0h3m1 0h20m1 0h5m2 0h2m2 0h3m4 0h10m1 0h3m5 0h2m2 0h2m63 0h2M696 235h9m3 0h2m3 0h2m3 0h4m4 0h7m1 0h4m1 0h1m2 0h6m2 0h3m2 0h2m1 0h3m6 0h3m1 0h11m1 0h4m3 0h7m3 0h6m4 0h5m1 0h2m3 0h2m10 0h2m3 0h2m26 0h2m30 0h2M696 236h14m2 0h3m2 0h5m2 0h4m2 0h11m2 0h1m1 0h2m3 0h3m5 0h3m2 0h6m1 0h3m2 0h1m2 0h3m2 0h2m5 0h8m2 0h6m5 0h3m1 0h1m5 0h2m2 0h2m6 0h2m2 0h3m26 0h2m6 0h1M697 237h13m3 0h1m2 0h4m4 0h3m1 0h7m2 0h4m10 0h2m5 0h3m2 0h6m1 0h5m8 0h10m1 0h1m1 0h2m1 0h7m8 0h3m8 0h3m4 0h2m4 0h1m27 0h2m5 0h3M697 238h13m4 0h7m1 0h3m3 0h7m4 0h2m6 0h2m6 0h2m7 0h6m1 0h4m4 0h1m3 0h10m6 0h4m1 0h5m2 0h6m3 0h2m3 0h3m4 0h2m40 0h1M698 239h12m4 0h7m1 0h4m3 0h2m1 0h1m1 0h3m3 0h3m4 0h2m5 0h5m5 0h11m3 0h2m4 0h4m1 0h4m7 0h2m2 0h10m2 0h2m2 0h2m4 0h1M699 240h12m4 0h4m5 0h3m6 0h4m2 0h5m3 0h2m5 0h6m1 0h3m1 0h3m4 0h1m1 0h1m3 0h3m3 0h2m3 0h6m5 0h6m1 0h4m1 0h1m3 0h2m2 0h2m59 0h1M699 241h12m2 0h6m6 0h1m7 0h4m3 0h4m2 0h3m5 0h6m1 0h4m4 0h12m6 0h12m2 0h1m1 0h3m3 0h2m4 0h2m11 0h2m50 0h3M700 242h17m7 0h1m8 0h4m3 0h4m1 0h5m4 0h5m3 0h2m5 0h10m6 0h1m1 0h12m4 0h3m9 0h2m3 0h2m6 0h2m50 0h2M700 243h14m3 0h2m4 0h3m4 0h1m3 0h5m2 0h2m1 0h6m6 0h3m1 0h5m4 0h3m1 0h1m1 0h2m6 0h15m4 0h2m2 0h2m6 0h9m2 0h1M701 244h12m2 0h4m4 0h4m2 0h4m2 0h11m1 0h3m3 0h5m1 0h3m1 0h1m5 0h2m3 0h6m2 0h4m1 0h5m1 0h2m7 0h3m1 0h3m5 0h2m1 0h5m2 0h3M701 245h13m1 0h3m5 0h4m3 0h3m1 0h13m2 0h3m1 0h4m1 0h3m1 0h2m4 0h3m3 0h2m1 0h4m1 0h3m4 0h4m3 0h2m5 0h1m3 0h3m6 0h6m2 0h2M702 246h12m1 0h2m1 0h3m2 0h2m2 0h2m6 0h2m2 0h4m2 0h1m3 0h3m2 0h1m4 0h1m2 0h6m1 0h3m5 0h3m3 0h3m2 0h5m1 0h4m18 0h2m1 0h1M703 247h14m1 0h3m4 0h4m4 0h1m4 0h1m1 0h3m2 0h2m6 0h2m1 0h1m8 0h7m4 0h3m3 0h5m1 0h3m3 0h4m17 0h2m24 0h2M703 248h16m1 0h1m1 0h1m1 0h4m4 0h2m2 0h4m1 0h1m3 0h3m4 0h11m4 0h3m2 0h1m2 0h3m4 0h4m2 0h2m1 0h5m19 0h2m24 0h2M704 249h12m1 0h9m5 0h3m2 0h3m6 0h4m3 0h3m1 0h7m5 0h1m2 0h2m1 0h4m4 0h5m1 0h2m1 0h5m39 0h3M704 250h13m3 0h7m5 0h2m2 0h3m1 0h3m3 0h3m9 0h4m2 0h2m4 0h3m1 0h5m3 0h8m3 0h3m39 0h3m47 0h3M705 251h14m3 0h6m5 0h2m1 0h2m1 0h4m14 0h2m4 0h5m2 0h3m4 0h2m3 0h7m2 0h2m8 0h6m78 0h3M705 252h14m3 0h2m1 0h3m5 0h2m5 0h1m5 0h3m8 0h2m1 0h2m2 0h4m2 0h3m1 0h5m2 0h4m2 0h3m1 0h2m8 0h7M706 253h12m8 0h2m12 0h3m3 0h2m2 0h1m2 0h1m3 0h1m1 0h3m1 0h2m1 0h2m1 0h9m4 0h1m4 0h3m12 0h3m1 0h1m18 0h2M707 254h12m2 0h3m2 0h2m5 0h1m1 0h2m2 0h4m6 0h2m1 0h3m4 0h3m1 0h2m4 0h2m1 0h7m3 0h3m3 0h3m34 0h2M707 255h11m3 0h4m1 0h17m6 0h2m2 0h2m6 0h4m9 0h1m1 0h3m3 0h9m11 0h2m21 0h1M708 256h11m4 0h12m1 0h4m13 0h2m4 0h1m1 0h3m3 0h2m4 0h3m8 0h6m12 0h2m4 0h1M708 257h13m5 0h5m1 0h2m1 0h1m2 0h5m10 0h2m3 0h3m1 0h3m2 0h5m2 0h1m1 0h1m10 0h1m10 0h2m2 0h1m1 0h2m1 0h3M709 258h12m7 0h3m4 0h2m1 0h6m12 0h5m2 0h1m3 0h6m2 0h3m1 0h3m12 0h2m2 0h2m3 0h3m1 0h3M709 259h19m6 0h5m2 0h4m1 0h2m8 0h2m1 0h1m4 0h2m2 0h4m4 0h2m1 0h3m12 0h2m8 0h2m2 0h1M710 260h19m3 0h3m1 0h4m1 0h4m1 0h3m14 0h3m2 0h1m1 0h4m5 0h2m3 0h2m9 0h1M711 261h15m1 0h1m4 0h3m2 0h3m3 0h3m1 0h5m4 0h1m4 0h1m2 0h1m1 0h5m1 0h3m9 0h2m17 0h1M711 262h14m13 0h2m3 0h3m2 0h10m1 0h4m3 0h6m1 0h1m14 0h2m12 0h2M712 263h12m3 0h3m16 0h1m2 0h9m1 0h7m3 0h3m3 0h3m10 0h2m7 0h1m4 0h2M712 264h13m2 0h3m13 0h5m2 0h3m3 0h2m2 0h1m2 0h3m9 0h2m3 0h3m2 0h2m1 0h2m6 0h3M713 265h12m2 0h4m3 0h2m6 0h3m1 0h1m11 0h2m20 0h3m2 0h2m9 0h3M713 266h12m2 0h4m2 0h3m2 0h1m3 0h6m1 0h6m2 0h3m1 0h2m5 0h1m2 0h2M714 267h11m2 0h4m2 0h3m1 0h3m2 0h3m1 0h13m2 0h2m4 0h3m1 0h2m18 0h3M715 268h11m1 0h2m4 0h1m2 0h3m4 0h4m1 0h2m2 0h6m3 0h2m4 0h3m21 0h3M715 269h11m6 0h3m1 0h2m4 0h5m1 0h4m2 0h2m1 0h2M716 270h9m1 0h2m4 0h2m2 0h2m11 0h3m4 0h5M716 271h9m1 0h2m7 0h3m14 0h2m1 0h2m1 0h3m4 0h1m1 0h2M717 272h11m7 0h3m7 0h4m2 0h3m1 0h2m2 0h2m3 0h5M717 273h11m1 0h2m5 0h1m8 0h13m7 0h2m1 0h1M718 274h13m12 0h3m2 0h4m1 0h5M719 275h10m14 0h4m2 0h3m2 0h1M719 276h10m6 0h1m8 0h3m1 0h3m10 0h3M720 277h10m2 0h1m1 0h3m8 0h1m2 0h2m12 0h2M720 278h10m1 0h3m1 0h1m1 0h2M721 279h12m4 0h2m11 0h2m2 0h4m4 0h4M722 280h5m1 0h2m7 0h2m11 0h2m2 0h4m3 0h5M722 281h9m1 0h2m9 0h2m11 0h1m4 0h5m7 0h2M723 282h4m1 0h2m2 0h2m9 0h5m14 0h3m8 0h2M723 283h9m3 0h2m8 0h4m13 0h3M724 284h8m3 0h2m10 0h1m7 0h2m6 0h1M725 285h5m14 0h1m10 0h2m4 0h4M725 286h7m11 0h3m4 0h3m7 0h4M727 287h6m10 0h2m6 0h2m7 0h4M728 288h5m8 0h2m18 0h4M727 289h5m9 0h2m10 0h3m6 0h3M727 290h6m4 0h1m1 0h2m12 0h3m7 0h1m12 0h2M728 291h5m3 0h5m13 0h1m9 0h2m10 0h3M729 292h1m7 0h1m26 0h2m10 0h2M765 293h1M732 294h3m5 0h2m24 0h1M732 295h3m5 0h2m13 0h2m8 0h2M733 296h2m5 0h2m13 0h2m8 0h2M732 297h3m6 0h1m14 0h1M732 298h4m4 0h3M733 299h4m4 0h2M733 300h3M734 301h2m1 0h1M734 302h5M735 303h4M735 304h4m26 0h2M737 305h2m25 0h3M737 306h2m26 0h1M737 307h3M738 308h3m35 0h2M738 309h4m7 0h1m26 0h2M739 310h4m5 0h3m25 0h2M739 311h3m7 0h2M750 321h1M749 322h3M750 323h1"/>
<path class="l" d="M679.91 103.91H1098.78V331.55H679.91Z"/>
<path class="l" d="M718.33 331.55H1040.08M718.33 331.55V344.22M825.58 331.55V344.22M932.83 331.55V344.22M1040.08 331.55V344.22M679.91 130.5V316.9M679.91 130.5H667.24M679.91 167.78H667.24M679.91 205.06H667.24M679.91 242.34H667.24M679.91 279.62H667.24M679.91 316.9H667.24"/>
<text class="m" x="718.33" y="376.86">0</text>
<text class="m" x="825.58" y="376.86">5</text>
<text class="m" x="932.83" y="376.86">10</text>
<text class="m" x="1040.08" y="376.86">15</text>
<text class="m" transform="translate(649.5 130.5) rotate(-90)">4</text>
<text class="m" transform="translate(649.5 167.78) rotate(-90)">2</text>
<text class="m" transform="translate(649.5 205.06) rotate(-90)">0</text>
<text class="m" transform="translate(649.5 242.34) rotate(-90)">-2</text>
<text class="m" transform="translate(649.5 279.62) rotate(-90)">-4</text>
<text class="m" transform="translate(649.5 316.9) rotate(-90)">-6</text>
<text class="m t" x="889.34" y="60.51">Sample2</text>
<text class="m" x="889.34" y="427.85">Average log CPM (this sample and others)</text>
<text class="m y" transform="translate(598.81 217.73) rotate(-90)">log-ratio (this sample vs others)</text>
</g>
<g>
<path transform="translate(0 .5)" shape-rendering="crispEdges" stroke="#000" stroke-width="1" fill="none" d="M206 572h2M206 573h2M212 577h2M211 578h3M196 586h2M196 587h3M197 588h1M192 590h2M192 591h2M192 592h2m5 0h2M186 593h2m11 0h2m2 0h1M185 594h3m11 0h2m1 0h3M186 595h1m16 0h1M202 596h2m5 0h2M200 597h1m1 0h2m4 0h3M190 598h1m8 0h3m7 0h2M188 599h6m1 0h3m2 0h2m14 0h2m4 0h1M188 600h6m1 0h3m18 0h2m3 0h3m1 0h2M188 601h2m2 0h1m4 0h2m22 0h2m2 0h2M186 602h1m4 0h2m3 0h3m14 0h3m3 0h3m3 0h2M185 603h3m3 0h3m19 0h3m3 0h3M185 604h3m2 0h3M188 605h5m6 0h3m6 0h2m13 0h1M186 606h7m6 0h5m4 0h2m2 0h2m8 0h3M186 607h6m10 0h3m6 0h3m9 0h1M189 608h2m6 0h3m3 0h1m8 0h1M186 609h1m1 0h2m2 0h4m1 0h3m3 0h1m1 0h4M185 610h5m1 0h7m4 0h9m32 0h2M186 611h14m1 0h12m1 0h2m2 0h3m22 0h4M181 612h1m5 0h6m2 0h10m1 0h10m2 0h3m7 0h2m14 0h3M175 613h2m2 0h4m8 0h4m1 0h1m4 0h4m2 0h3m1 0h4m10 0h1m2 0h2m2 0h4m19 0h2m30 0h2M175 614h2m2 0h4m3 0h4m2 0h6m1 0h3m1 0h2m3 0h5m11 0h3m5 0h4m19 0h2m30 0h2M172 615h1m3 0h2m1 0h3m2 0h1m1 0h4m1 0h7m1 0h3m1 0h2m6 0h2m1 0h2m5 0h5m8 0h1m52 0h2M171 616h3m2 0h2m3 0h1m1 0h3m1 0h10m6 0h1m10 0h3m4 0h4m8 0h3m1 0h1m13 0h1M172 617h11m1 0h3m2 0h2m3 0h4m2 0h5m1 0h2m2 0h3m2 0h1m2 0h2m1 0h7m6 0h5m11 0h3M172 618h4m1 0h6m2 0h4m3 0h6m1 0h5m2 0h2m2 0h4m4 0h10m3 0h2m4 0h1m10 0h5M172 619h3m1 0h21m1 0h6m1 0h2m4 0h3m4 0h5m1 0h2m1 0h6m15 0h2m1 0h3M169 620h2m1 0h7m1 0h17m1 0h10m2 0h10m1 0h2m1 0h9m18 0h3M168 621h11m2 0h17m1 0h9m1 0h13m4 0h2m3 0h3m3 0h5M169 622h9m2 0h19m2 0h3m1 0h8m2 0h1m1 0h12m2 0h3m3 0h5m2 0h2M169 623h1m1 0h33m1 0h3m1 0h4m1 0h15m2 0h6m1 0h4m2 0h2m1 0h2m1 0h2m2 0h1m44 0h3M168 624h37m2 0h19m1 0h2m1 0h8m2 0h2m1 0h6m1 0h2m1 0h3m43 0h3M164 625h3m1 0h8m1 0h12m1 0h39m1 0h3m1 0h4m2 0h5m2 0h1m2 0h5m2 0h3m166 0h2M162 626h13m1 0h2m3 0h7m2 0h33m1 0h8m2 0h5m1 0h4m3 0h2m1 0h4m3 0h3m1 0h2m163 0h3M162 627h18m1 0h8m1 0h42m2 0h7m1 0h2m3 0h5m8 0h3m164 0h1M162 628h27m1 0h51m1 0h3m2 0h6m6 0h3m14 0h2m6 0h2M160 629h1m3 0h2m1 0h3m1 0h4m1 0h11m1 0h57m5 0h4m5 0h2m15 0h2m6 0h2M159 630h3m2 0h2m2 0h2m1 0h57m1 0h11m1 0h4m1 0h3m3 0h3m4 0h2m23 0h2M160 631h1m3 0h2m2 0h2m3 0h4m2 0h37m1 0h33m2 0h5M161 632h1m1 0h7m3 0h3m1 0h74m2 0h1m1 0h4m5 0h4m2 0h2m10 0h5m3 0h2M160 633h28m1 0h58m2 0h10m5 0h4m1 0h3m4 0h1m5 0h5m3 0h3M159 634h5m3 0h21m1 0h13m1 0h45m2 0h8m2 0h4m5 0h2m4 0h3m4 0h2m7 0h2M159 635h35m1 0h54m1 0h4m1 0h10m4 0h2m4 0h3M158 636h3m1 0h13m2 0h9m1 0h42m1 0h36m3 0h2m4 0h2m5 0h3m10 0h2M158 637h2m1 0h75m1 0h28m2 0h8m7 0h2m11 0h2m2 0h3M154 638h2m3 0h77m1 0h14m1 0h12m2 0h14m3 0h1m4 0h2m1 0h2m6 0h2M153 639h3m3 0h11m1 0h24m1 0h50m1 0h18m2 0h13m2 0h3m3 0h2m1 0h4M154 640h1m3 0h8m1 0h6m1 0h12m1 0h8m1 0h61m1 0h8m1 0h8m1 0h2m5 0h3m5 0h4m12 0h2M152 641h3m3 0h8m1 0h6m2 0h6m1 0h75m1 0h3m1 0h5m2 0h1m1 0h5m1 0h5m1 0h3m5 0h3m10 0h1m2 0h2M151 642h4m4 0h3m3 0h16m1 0h6m2 0h70m1 0h24m6 0h2m1 0h1m8 0h3m1 0h2M150 643h11m4 0h15m2 0h3m1 0h2m2 0h8m1 0h68m1 0h16m2 0h3m2 0h7m3 0h5m12 0h3M150 644h2m2 0h3m1 0h16m1 0h6m1 0h107m4 0h5m3 0h5m12 0h3M150 645h18m1 0h1m2 0h9m2 0h96m1 0h9m1 0h1m2 0h7m2 0h3m18 0h1M150 646h4m1 0h12m4 0h7m1 0h2m2 0h108m2 0h1m2 0h4m2 0h3m17 0h3M149 647h3m2 0h6m1 0h7m4 0h2m1 0h21m1 0h98m1 0h9m2 0h1m2 0h2m11 0h2M148 648h5m1 0h2m1 0h4m2 0h4m7 0h12m1 0h108m2 0h1m2 0h12M148 649h2m1 0h2m3 0h4m4 0h3m4 0h1m1 0h14m1 0h127m25 0h2M147 650h14m1 0h14m2 0h2m1 0h134m2 0h2m1 0h2m18 0h2M147 651h2m1 0h10m2 0h14m4 0h3m2 0h6m1 0h108m1 0h21m8 0h2m2 0h2m5 0h2m5 0h1m9 0h2m7 0h2M147 652h2m1 0h4m1 0h5m2 0h15m2 0h6m3 0h104m1 0h4m1 0h21m1 0h2m3 0h2m2 0h7m5 0h2m1 0h1m2 0h5m6 0h2m7 0h4M147 653h1m2 0h2m4 0h2m2 0h5m2 0h9m2 0h10m1 0h126m4 0h3m2 0h3m2 0h7m4 0h6m1 0h5m2 0h3m10 0h4m3 0h2M146 654h3m2 0h2m1 0h1m1 0h9m2 0h10m1 0h10m1 0h95m1 0h31m2 0h4m2 0h4m1 0h4m2 0h1m3 0h3m2 0h7m3 0h3m2 0h2m13 0h2M145 655h4m3 0h4m1 0h8m1 0h11m2 0h149m4 0h5m3 0h5m1 0h4m3 0h2m3 0h3m4 0h2M144 656h4m1 0h1m2 0h3m2 0h3m1 0h4m1 0h3m1 0h1m1 0h141m1 0h14m3 0h7m1 0h12m2 0h2m4 0h3m1 0h5m6 0h2M143 657h3m2 0h5m1 0h1m2 0h2m1 0h6m1 0h1m2 0h1m2 0h120m2 0h2m1 0h27m1 0h2m2 0h1m1 0h6m1 0h5m1 0h3m1 0h3m1 0h9m1 0h4m7 0h2m4 0h3M144 658h2m1 0h6m1 0h13m2 0h9m1 0h9m2 0h142m1 0h5m1 0h5m1 0h13m1 0h1m14 0h2m3 0h4m42 0h1M146 659h6m2 0h23m2 0h9m2 0h83m1 0h64m2 0h4m1 0h6m2 0h5m3 0h2m16 0h3m3 0h1m1 0h2m14 0h2m19 0h3m31 0h3M145 660h6m2 0h18m1 0h4m1 0h10m1 0h76m1 0h79m1 0h4m2 0h3m1 0h3m3 0h4m14 0h4m1 0h2m1 0h2m14 0h2m20 0h1m32 0h3M144 661h3m1 0h3m2 0h4m2 0h1m1 0h10m1 0h4m1 0h166m2 0h9m1 0h4m1 0h5m16 0h2m1 0h2m3 0h2M144 662h3m2 0h3m2 0h22m1 0h7m1 0h9m1 0h24m1 0h60m1 0h73m1 0h4m1 0h3m11 0h3m12 0h2m25 0h1m89 0h2M144 663h3m2 0h4m1 0h33m1 0h111m1 0h58m2 0h2m7 0h2m3 0h3m38 0h3m88 0h2M145 664h13m1 0h23m1 0h4m2 0h126m1 0h11m2 0h18m1 0h2m1 0h1m2 0h4m3 0h3m5 0h2m30 0h2m12 0h2M144 665h1m1 0h13m3 0h3m2 0h4m1 0h10m1 0h4m2 0h4m1 0h134m3 0h5m2 0h9m7 0h5m1 0h11m2 0h1m2 0h2m23 0h2m2 0h1M144 666h2m1 0h5m1 0h6m2 0h5m1 0h5m1 0h9m1 0h131m1 0h20m2 0h4m1 0h1m1 0h4m1 0h21m2 0h3m1 0h6m22 0h3M144 667h5m1 0h2m1 0h7m1 0h5m1 0h6m1 0h1m2 0h2m1 0h1m1 0h18m1 0h135m1 0h4m1 0h2m1 0h3m1 0h7m1 0h5m3 0h3m1 0h13m23 0h1M145 668h2m1 0h3m5 0h7m1 0h2m1 0h2m1 0h2m1 0h7m1 0h155m3 0h2m1 0h3m1 0h1m1 0h8m2 0h3m2 0h4m1 0h7m2 0h2m1 0h3M145 669h6m4 0h8m2 0h3m2 0h2m1 0h6m2 0h154m2 0h9m3 0h8m1 0h3m2 0h4m2 0h1m7 0h2m1 0h3M146 670h3m4 0h8m1 0h2m1 0h5m1 0h9m1 0h154m2 0h9m7 0h8m3 0h4m4 0h2m3 0h2M144 671h2m7 0h4m1 0h7m1 0h155m2 0h11m2 0h4m2 0h3m1 0h2m2 0h2m1 0h15m4 0h2M144 672h2m3 0h1m2 0h1m1 0h3m1 0h8m1 0h13m1 0h7m2 0h130m3 0h11m2 0h5m2 0h5m1 0h3m2 0h3m1 0h6m8 0h2M148 673h3m1 0h5m1 0h23m1 0h140m1 0h4m1 0h14m1 0h4m3 0h3m5 0h3m4 0h2M149 674h14m1 0h10m2 0h5m1 0h2m1 0h141m1 0h14m4 0h2m1 0h4m6 0h2m4 0h3M147 675h2m1 0h13m2 0h7m2 0h8m2 0h142m2 0h11m9 0h2m8 0h2m3 0h4M143 676h3m1 0h2m1 0h12m4 0h16m1 0h129m2 0h3m2 0h3m1 0h3m3 0h4m4 0h1m19 0h3m2 0h4M143 677h2m2 0h3m1 0h3m3 0h5m1 0h12m1 0h2m1 0h3m1 0h11m1 0h118m1 0h3m1 0h7m1 0h2m9 0h2m17 0h3m3 0h3M145 678h2m1 0h14m1 0h9m1 0h5m1 0h135m2 0h7m3 0h2m9 0h2m5 0h4m9 0h1m52 0h2M142 679h1m2 0h3m1 0h12m2 0h2m3 0h4m1 0h3m3 0h110m1 0h33m21 0h4m62 0h2M141 680h3m1 0h3m1 0h3m1 0h9m5 0h2m4 0h9m1 0h119m1 0h10m1 0h5m1 0h1m45 0h2M141 681h4m1 0h3m1 0h3m1 0h9m3 0h3m1 0h2m1 0h9m1 0h84m1 0h34m1 0h3m1 0h2m1 0h2m5 0h2m3 0h5m39 0h3M142 682h3m2 0h3m1 0h2m1 0h3m1 0h5m2 0h3m2 0h8m1 0h4m1 0h1m2 0h104m1 0h15m10 0h4m1 0h2m1 0h2m40 0h1M143 683h3m1 0h4m4 0h14m1 0h9m2 0h90m1 0h12m1 0h5m1 0h4m1 0h4m1 0h6m5 0h3m4 0h2m1 0h2M133 684h2m4 0h2m3 0h3m1 0h3m2 0h2m1 0h20m1 0h85m1 0h27m2 0h14m6 0h3m73 0h2M133 685h2m4 0h3m2 0h3m2 0h3m1 0h6m1 0h24m1 0h105m2 0h6m1 0h2m87 0h3M126 686h2m5 0h3m4 0h2m3 0h3m1 0h7m1 0h12m1 0h7m3 0h4m3 0h102m3 0h6m1 0h2m16 0h3M126 687h3m5 0h3m4 0h2m3 0h3m1 0h3m1 0h3m1 0h2m1 0h6m4 0h3m7 0h109m9 0h2m16 0h3m67 0h2M126 688h3m5 0h4m3 0h3m2 0h3m2 0h3m1 0h3m1 0h2m1 0h4m4 0h4m2 0h98m1 0h16m96 0h2M127 689h3m5 0h3m4 0h3m2 0h3m2 0h13m5 0h113m1 0h7m96 0h2M118 690h2m8 0h3m5 0h3m3 0h3m3 0h3m1 0h3m1 0h3m1 0h6m1 0h2m2 0h114m1 0h4m5 0h3m15 0h2M117 691h3m8 0h3m5 0h4m3 0h3m3 0h2m2 0h3m1 0h13m2 0h7m1 0h15m1 0h89m3 0h2m5 0h3m1 0h1m13 0h2m8 0h1M118 692h3m8 0h3m5 0h3m4 0h3m2 0h3m2 0h3m1 0h12m3 0h7m1 0h90m1 0h12m14 0h2m22 0h3M119 693h3m8 0h3m5 0h3m4 0h2m3 0h3m1 0h3m1 0h3m1 0h6m1 0h2m2 0h7m1 0h3m2 0h82m1 0h2m1 0h5m5 0h2m14 0h2m22 0h2M119 694h3m8 0h3m6 0h3m3 0h3m2 0h3m2 0h3m1 0h13m2 0h3m2 0h2m1 0h3m1 0h2m3 0h72m1 0h3m2 0h7m3 0h2m2 0h3M120 695h3m8 0h3m5 0h3m4 0h3m2 0h3m2 0h3m1 0h12m1 0h2m4 0h6m1 0h5m1 0h71m1 0h4m2 0h3m1 0h2m2 0h3m3 0h2M121 696h3m8 0h3m5 0h3m4 0h3m2 0h3m1 0h3m1 0h3m1 0h14m1 0h5m1 0h54m1 0h21m5 0h3m1 0h6m3 0h1m1 0h5m35 0h2m16 0h1M121 697h4m7 0h4m5 0h3m3 0h3m2 0h4m1 0h3m1 0h3m1 0h2m1 0h2m1 0h1m1 0h12m1 0h72m1 0h5m1 0h3m4 0h1m8 0h2m1 0h3m34 0h2m15 0h3M122 698h3m8 0h3m5 0h3m4 0h3m2 0h3m2 0h3m1 0h3m1 0h2m1 0h29m1 0h2m1 0h12m1 0h20m1 0h4m1 0h9m2 0h6m1 0h5m2 0h2m16 0h5m32 0h2m16 0h1M123 699h3m8 0h3m5 0h3m3 0h4m2 0h3m1 0h7m1 0h10m1 0h1m1 0h36m1 0h18m2 0h10m1 0h3m1 0h2m1 0h4m1 0h5m2 0h2m3 0h2m10 0h2m2 0h2M123 700h4m8 0h3m5 0h3m3 0h3m3 0h3m1 0h3m1 0h3m1 0h5m1 0h3m4 0h3m1 0h8m1 0h41m1 0h7m2 0h2m1 0h2m2 0h2m2 0h2m2 0h6m6 0h2m10 0h2M124 701h3m8 0h3m6 0h3m3 0h3m2 0h3m2 0h3m1 0h6m4 0h2m3 0h4m1 0h6m1 0h9m1 0h33m1 0h5m2 0h8m5 0h2m3 0h4m13 0h2m4 0h2M125 702h3m8 0h3m5 0h3m4 0h3m2 0h3m1 0h11m3 0h3m1 0h4m2 0h6m1 0h3m2 0h4m2 0h29m1 0h12m1 0h5m2 0h3m6 0h1m14 0h3M126 703h3m8 0h3m5 0h3m3 0h3m3 0h3m1 0h3m1 0h3m1 0h3m1 0h9m2 0h16m1 0h12m1 0h7m1 0h5m1 0h3m2 0h12m1 0h4m2 0h3m21 0h2M126 704h3m8 0h3m5 0h4m3 0h3m2 0h3m2 0h3m1 0h6m1 0h4m1 0h3m3 0h20m1 0h4m1 0h2m3 0h12m7 0h6m2 0h7m4 0h3M127 705h3m8 0h3m5 0h3m4 0h3m2 0h3m2 0h3m1 0h5m1 0h3m3 0h23m1 0h6m6 0h15m1 0h2m3 0h4m2 0h4m1 0h1m5 0h3m19 0h2M128 706h3m8 0h3m5 0h3m3 0h3m3 0h3m1 0h3m1 0h3m5 0h2m2 0h6m1 0h5m1 0h1m1 0h3m2 0h2m2 0h6m4 0h9m1 0h7m1 0h2m4 0h3m35 0h2M128 707h3m8 0h3m6 0h3m3 0h3m2 0h4m1 0h3m1 0h3m4 0h2m1 0h5m2 0h3m1 0h1m1 0h11m1 0h6m2 0h18m1 0h5m7 0h3m4 0h3m3 0h2M129 708h3m8 0h3m5 0h3m4 0h3m2 0h3m2 0h3m1 0h3m1 0h2m3 0h10m1 0h5m1 0h7m3 0h1m1 0h2m2 0h3m2 0h10m1 0h9m1 0h3m2 0h3m4 0h3m3 0h2m6 0h3M130 709h3m8 0h3m5 0h3m3 0h4m2 0h3m1 0h3m1 0h3m1 0h3m1 0h9m1 0h4m1 0h1m3 0h3m1 0h2m2 0h3m2 0h2m1 0h1m2 0h3m1 0h6m2 0h2m2 0h5m1 0h3m9 0h2m13 0h2M131 710h2m9 0h3m5 0h3m3 0h3m2 0h3m2 0h3m1 0h3m1 0h2m1 0h6m1 0h1m2 0h3m2 0h2m1 0h4m6 0h6m4 0h10m6 0h8m10 0h2m5 0h2M131 711h3m8 0h3m5 0h3m4 0h3m2 0h3m2 0h2m2 0h5m1 0h13m2 0h2m1 0h3m6 0h7m4 0h6m1 0h1m9 0h2m1 0h5m8 0h2m1 0h2m3 0h2M132 712h3m8 0h3m5 0h3m4 0h2m3 0h3m2 0h2m1 0h3m1 0h15m1 0h6m5 0h2m1 0h4m6 0h2m1 0h1m4 0h3m3 0h4m2 0h2m1 0h3m7 0h2m1 0h2M132 713h4m8 0h3m5 0h3m3 0h3m2 0h4m1 0h3m2 0h2m1 0h4m2 0h4m1 0h9m5 0h3m3 0h2m14 0h2m4 0h6m2 0h3m8 0h1m2 0h2M133 714h3m8 0h3m5 0h4m3 0h3m2 0h3m2 0h3m1 0h6m4 0h2m2 0h8m5 0h2m4 0h3m6 0h1m14 0h5m3 0h2M134 715h3m8 0h3m5 0h3m4 0h3m2 0h3m1 0h3m2 0h6m2 0h4m1 0h2m1 0h4m6 0h2m2 0h2m1 0h1m6 0h3m2 0h2m2 0h2m5 0h2m1 0h2M134 716h4m8 0h3m5 0h3m3 0h3m3 0h3m1 0h2m2 0h3m4 0h11m4 0h2m1 0h1m1 0h1m2 0h2m5 0h2m1 0h3m1 0h3m1 0h3m10 0h2M135 717h3m8 0h3m5 0h4m3 0h3m2 0h3m3 0h2m1 0h3m1 0h2m1 0h10m2 0h7m3 0h2m3 0h8m1 0h3m14 0h4M136 718h3m8 0h3m5 0h3m4 0h3m2 0h3m2 0h3m1 0h2m1 0h2m1 0h6m1 0h2m4 0h6m8 0h3m1 0h3m2 0h2m10 0h2m4 0h3M137 719h3m8 0h3m5 0h3m3 0h3m3 0h3m1 0h3m2 0h2m2 0h17m1 0h3m9 0h4m7 0h3m5 0h2m4 0h2M137 720h3m8 0h3m5 0h4m3 0h3m2 0h3m2 0h2m2 0h3m1 0h5m1 0h1m1 0h8m3 0h2m8 0h5m2 0h2m3 0h3m11 0h2M138 721h3m8 0h3m5 0h3m4 0h2m3 0h3m6 0h8m2 0h10m14 0h2m3 0h2m10 0h2m1 0h1M139 722h3m8 0h3m5 0h3m4 0h2m3 0h3m5 0h3m1 0h3m3 0h2m1 0h9m8 0h3m8 0h3m7 0h5M140 723h2m8 0h4m5 0h3m3 0h3m2 0h3m3 0h2m1 0h2m1 0h7m2 0h4m1 0h5m2 0h2m1 0h5m2 0h3m3 0h3m8 0h1m1 0h2M140 724h3m8 0h3m5 0h3m4 0h3m2 0h3m2 0h3m4 0h6m3 0h1m6 0h2m2 0h2m1 0h2m5 0h3m2 0h4M141 725h3m8 0h3m5 0h3m4 0h3m2 0h3m2 0h2m2 0h2m1 0h6m6 0h2m5 0h2m13 0h2m14 0h2M141 726h3m8 0h4m5 0h3m3 0h3m3 0h2m2 0h3m1 0h3m1 0h5m6 0h3m7 0h3m9 0h2m13 0h3m31 0h2M142 727h3m8 0h3m5 0h3m4 0h3m2 0h3m2 0h3m1 0h5m9 0h2m1 0h3m3 0h4m58 0h2M143 728h3m8 0h3m5 0h3m3 0h3m3 0h3m1 0h2m2 0h3m14 0h3m3 0h4m1 0h2m10 0h2m42 0h2M143 729h4m8 0h3m5 0h2m6 0h1m3 0h1m7 0h3m2 0h2m15 0h2m3 0h2m10 0h2m42 0h2M144 730h3m8 0h3m6 0h2m4 0h3m3 0h2m6 0h3m1 0h2m15 0h3m2 0h2m1 0h2m7 0h2m15 0h3M145 731h3m8 0h3m5 0h3m4 0h2m3 0h2m4 0h1m2 0h6m14 0h2m5 0h3m24 0h3M146 732h3m8 0h3m5 0h3m4 0h2m8 0h2m1 0h3m1 0h2M146 733h3m8 0h3m5 0h4m3 0h3m3 0h2m2 0h3m2 0h2M147 734h3m8 0h3m5 0h3m5 0h2m2 0h2m3 0h3m1 0h2m22 0h1M148 735h3m8 0h3m5 0h1m6 0h2m4 0h2m1 0h3m24 0h3m7 0h1M148 736h3m8 0h4m5 0h3m3 0h3m3 0h2m2 0h1m5 0h1m17 0h2m1 0h2m6 0h3M149 737h3m8 0h3m5 0h3m4 0h3m2 0h2m7 0h3m7 0h2m7 0h3m8 0h2M150 738h3m8 0h3m5 0h3m4 0h3m10 0h2m6 0h4m8 0h2m1 0h1M150 739h4m7 0h4m5 0h3m3 0h3m18 0h2m6 0h2m2 0h5M151 740h3m8 0h3m5 0h3m4 0h3m25 0h6m1 0h2M152 741h3m8 0h3m5 0h3m4 0h3m24 0h6M152 742h4m8 0h3m5 0h3m3 0h3m3 0h3m20 0h2M153 743h3m8 0h3m5 0h3m4 0h3m2 0h3M154 744h3m8 0h3m5 0h3m4 0h2M154 745h4m8 0h3m5 0h2m6 0h1M155 746h3m9 0h2m6 0h3m3 0h3M156 747h3m8 0h3m5 0h3m4 0h3M157 748h3m8 0h3m11 0h2M157 749h3m8 0h3m7 0h2M158 750h3m8 0h3m5 0h3M159 751h3m8 0h3m5 0h3m13 0h3M159 752h3m8 0h4m5 0h3m12 0h3M160 753h3m8 0h3m5 0h3M161 754h3m8 0h3m5 0h3M161 755h4m7 0h4m5 0h1M162 756h3m8 0h3m23 0h1M163 757h3m8 0h3m12 0h1m8 0h3M163 758h4m8 0h3m10 0h3m7 0h4M164 759h3m8 0h3m11 0h2m9 0h2M165 760h3m8 0h3M166 761h3m8 0h3M166 762h3m8 0h3m19 0h1M167 763h3m8 0h1m19 0h3M168 764h3m28 0h2M168 765h3M169 766h3M170 767h3M170 768h4M171 769h3m9 0h2M172 770h3m8 0h2M172 771h4M173 772h3M174 773h3M175 774h3M175 775h3M176 776h3M177 777h3M177 778h3M178 779h3M179 780h3M179 781h3M180 782h3M181 783h3M181 784h3"/>
<path class="l" d="M103.91 564.71H522.78V792.35H103.91Z"/>
<path class="l" d="M142.71 792.35H467.76M142.71 792.35V805.02M251.06 792.35V805.02M359.41 792.35V805.02M467.76 792.35V805.02M103.91 574.78V763.18M103.91 574.78H91.24M103.91 606.18H91.24M103.91 637.58H91.24M103.91 668.98H91.24M103.91 700.38H91.24M103.91 731.78H91.24M103.91 763.18H91.24"/>
<text class="m" x="142.71" y="837.66">0</text>
<text class="m" x="251.06" y="837.66">5</text>
<text class="m" x="359.41" y="837.66">10</text>
<text class="m" x="467.76" y="837.66">15</text>
<text class="m" transform="translate(73.5 574.78) rotate(-90)">6</text>
<text class="m" transform="translate(73.5 606.18) rotate(-90)">4</text>
<text class="m" transform="translate(73.5 637.58) rotate(-90)">2</text>
<text class="m" transform="translate(73.5 700.38) rotate(-90)">-2</text>
<text class="m" transform="translate(73.5 763.18) rotate(-90)">-6</text>
<text class="m t" x="313.34" y="521.31">Sample3</text>
<text class="m" x="313.34" y="888.65">Average log CPM (this sample and others)</text>
<text class="m y" transform="translate(22.81 678.53) rotate(-90)">log-ratio (this sample vs others)</text>
</g>
<g>
<path transform="translate(0 .5)" shape-rendering="crispEdges" stroke="#000" stroke-width="1" fill="none" d="M785 572h2M785 573h3M786 574h1M809 579h2M797 580h2m9 0h3M797 581h2M791 583h2m25 0h2M791 584h2m24 0h3M775 585h2m15 0h1m14 0h5m5 0h2m1 0h2M775 586h2m31 0h4m7 0h3M802 587h1M801 588h3m12 0h2M802 589h2m11 0h3m33 0h1M799 590h1m9 0h2m5 0h1m33 0h3M771 591h2m25 0h5m1 0h1m4 0h2m40 0h2M769 592h4m2 0h1m22 0h8m3 0h2M769 593h3m3 0h2m27 0h2M769 594h2m4 0h2m44 0h1M768 595h3m4 0h2m4 0h3m36 0h3M769 596h1m5 0h2m4 0h3m37 0h2M775 597h2m5 0h1M783 598h2m1 0h2m28 0h2M760 599h2m5 0h1m2 0h1m12 0h6m10 0h3m4 0h2m2 0h2m4 0h2M759 600h3m3 0h3m1 0h3m11 0h6m11 0h2m2 0h5m1 0h2M759 601h2m3 0h4m2 0h3m10 0h3m18 0h2m1 0h2m1 0h2m1 0h3m2 0h3m8 0h1M756 602h5m4 0h1m5 0h2m10 0h2m8 0h2m12 0h2m4 0h3m2 0h5m5 0h3M756 603h5m8 0h1m6 0h2m4 0h3m7 0h3m18 0h2m4 0h5m4 0h2M756 604h3m9 0h3m5 0h2m5 0h3m25 0h2m8 0h2m17 0h2M768 605h2m1 0h4m7 0h4m2 0h1m3 0h3m1 0h1m5 0h2m7 0h2m13 0h2m7 0h7m3 0h2m6 0h2M762 606h2m7 0h3m8 0h4m1 0h2m2 0h4m1 0h2m4 0h2m8 0h4m9 0h3m7 0h8m2 0h3m4 0h3m8 0h5M761 607h3m3 0h2m18 0h3m1 0h2m3 0h2m3 0h1m4 0h2m4 0h7m6 0h3m3 0h3m6 0h2m4 0h1m6 0h1m9 0h7M762 608h1m4 0h2m3 0h3m13 0h4m3 0h1m4 0h3m3 0h2m5 0h2m1 0h3m12 0h3m31 0h2m1 0h2M765 609h4m4 0h4m12 0h8m4 0h2m2 0h3m30 0h2m13 0h3m7 0h2m3 0h2M761 610h6m7 0h3m5 0h2m2 0h3m1 0h6m9 0h3m2 0h2m15 0h3m8 0h2m5 0h2m6 0h2m8 0h2m3 0h2m19 0h2M760 611h5m7 0h5m5 0h7m2 0h1m1 0h2m5 0h2m4 0h2m1 0h3m1 0h1m9 0h3m1 0h5m10 0h2m1 0h2m20 0h3m19 0h2M758 612h6m5 0h7m6 0h7m3 0h3m2 0h5m4 0h9m2 0h4m2 0h3m1 0h2m1 0h2m9 0h3m1 0h2m5 0h2m14 0h2m19 0h2M758 613h3m1 0h1m5 0h3m1 0h2m5 0h2m1 0h5m5 0h2m1 0h7m4 0h9m1 0h5m1 0h7m1 0h1m4 0h2m5 0h1m9 0h3M759 614h3m4 0h5m7 0h3m2 0h5m1 0h3m2 0h10m3 0h8m1 0h2m1 0h10m4 0h4m14 0h5m2 0h2m11 0h2M754 615h2m3 0h2m1 0h2m2 0h3m6 0h2m2 0h1m2 0h10m2 0h10m2 0h9m4 0h5m3 0h5m1 0h2m1 0h1m15 0h3m3 0h2m11 0h2M754 616h5m3 0h3m2 0h2m6 0h3m1 0h1m1 0h7m2 0h2m4 0h6m1 0h8m1 0h4m2 0h5m3 0h3m1 0h2m3 0h3m14 0h3m3 0h4m32 0h1m3 0h1m17 0h2M756 617h5m2 0h3m1 0h2m1 0h2m3 0h13m1 0h3m1 0h7m1 0h7m1 0h3m2 0h3m1 0h4m5 0h2m2 0h6m12 0h2m4 0h2m2 0h3m9 0h1m21 0h3m1 0h2m7 0h2m3 0h1m3 0h3M756 618h2m1 0h3m2 0h1m4 0h5m2 0h10m1 0h5m1 0h3m1 0h11m1 0h10m3 0h13m3 0h2m9 0h2m3 0h4m12 0h3m15 0h2m4 0h2m1 0h2m7 0h2m2 0h3m3 0h1M756 619h2m2 0h1m4 0h2m1 0h1m1 0h4m2 0h59m3 0h3m2 0h3m2 0h4m2 0h4m6 0h2m5 0h1m10 0h2m4 0h3m18 0h3m15 0h1m8 0h1M755 620h2m4 0h2m1 0h6m2 0h1m2 0h6m1 0h27m3 0h4m1 0h18m2 0h4m2 0h3m1 0h5m4 0h3m5 0h4m14 0h2m5 0h1m8 0h2m9 0h2m15 0h3m6 0h3M747 621h3m4 0h5m2 0h8m5 0h5m4 0h26m1 0h22m2 0h7m3 0h8m1 0h2m1 0h3m1 0h3m2 0h3m1 0h3m26 0h3m26 0h2m6 0h2M747 622h3m4 0h2m1 0h2m2 0h11m2 0h14m2 0h30m1 0h10m1 0h31m2 0h7m1 0h2m23 0h2M756 623h3m1 0h1m1 0h5m1 0h4m1 0h42m1 0h4m1 0h31m3 0h16m2 0h3m2 0h1m2 0h3m13 0h3m7 0h3M750 624h2m1 0h9m3 0h2m2 0h3m1 0h5m3 0h6m1 0h6m1 0h19m2 0h16m3 0h10m1 0h26m1 0h3m1 0h7m8 0h2m1 0h1m1 0h3m5 0h5m16 0h2M749 625h3m1 0h4m1 0h4m2 0h8m1 0h5m1 0h1m4 0h10m1 0h37m1 0h43m2 0h7m7 0h6m1 0h2m4 0h2m1 0h2m15 0h3M741 626h2m7 0h2m3 0h2m1 0h4m1 0h4m2 0h8m1 0h4m2 0h41m2 0h1m1 0h46m1 0h13m4 0h1m1 0h3m1 0h3m3 0h2M741 627h2m12 0h2m1 0h3m1 0h20m2 0h3m1 0h18m1 0h10m2 0h76m1 0h2m2 0h2M741 628h2m16 0h1m2 0h2m1 0h43m1 0h8m3 0h21m1 0h14m1 0h2m1 0h34m6 0h2m21 0h3m1 0h3m4 0h3M747 629h3m11 0h3m1 0h9m1 0h9m2 0h31m1 0h23m1 0h14m1 0h37m18 0h2m9 0h3m1 0h3m4 0h3m2 0h2m10 0h2m18 0h2M747 630h2m4 0h2m6 0h6m3 0h11m1 0h74m1 0h43m1 0h1m3 0h2m5 0h2m6 0h2m2 0h1m4 0h4m6 0h4m8 0h2m18 0h3M747 631h2m3 0h7m1 0h7m3 0h34m1 0h68m1 0h28m1 0h1m1 0h2m5 0h2m6 0h4m5 0h4m5 0h1m2 0h2m29 0h1M747 632h2m1 0h2m1 0h5m2 0h4m6 0h14m1 0h20m2 0h80m1 0h6m2 0h1m3 0h7m1 0h2m6 0h4m2 0h3m6 0h2m1 0h2m1 0h3M750 633h6m1 0h1m3 0h3m5 0h135m4 0h3m4 0h5m3 0h3m2 0h2m1 0h2m1 0h2m2 0h1M750 634h10m1 0h3m5 0h5m3 0h23m1 0h5m1 0h96m1 0h2m2 0h9m1 0h2m4 0h2m2 0h5m2 0h5m38 0h2M754 635h6m1 0h3m5 0h10m2 0h5m1 0h31m1 0h72m1 0h1m1 0h13m1 0h8m1 0h2m4 0h3m3 0h1m5 0h5m1 0h2m35 0h2M739 636h1m4 0h1m2 0h4m1 0h11m3 0h2m1 0h3m1 0h17m1 0h7m1 0h122m2 0h3m1 0h2m7 0h1m3 0h3m4 0h3m28 0h2M731 637h2m4 0h4m1 0h4m1 0h4m1 0h10m3 0h3m1 0h3m2 0h147m2 0h3m1 0h2m11 0h2m5 0h3M731 638h2m4 0h4m1 0h4m2 0h1m1 0h1m1 0h13m1 0h6m2 0h13m2 0h11m1 0h95m1 0h15m1 0h5m2 0h1m1 0h8m11 0h2M731 639h2m4 0h2m4 0h3m2 0h7m3 0h7m1 0h6m2 0h2m2 0h2m2 0h6m1 0h2m1 0h7m1 0h3m1 0h91m1 0h15m2 0h5m4 0h9m2 0h1m3 0h1m3 0h3m1 0h6M737 640h2m2 0h10m1 0h3m2 0h9m1 0h3m2 0h2m4 0h12m1 0h5m1 0h10m1 0h101m3 0h12m1 0h6m2 0h2m1 0h3m2 0h10M737 641h2m2 0h5m1 0h3m1 0h1m1 0h2m1 0h14m1 0h3m5 0h11m1 0h111m1 0h7m1 0h5m3 0h8m2 0h3m1 0h6m3 0h2m1 0h5M742 642h3m2 0h2m1 0h19m1 0h5m2 0h2m3 0h4m1 0h106m1 0h8m1 0h13m1 0h1m4 0h3m1 0h2m1 0h3m3 0h4m3 0h3m1 0h3m45 0h2M730 643h2m3 0h2m3 0h2m1 0h5m1 0h8m1 0h2m3 0h6m1 0h5m2 0h8m1 0h113m1 0h20m2 0h3m1 0h6m2 0h5m2 0h4m49 0h3M730 644h3m2 0h2m3 0h2m2 0h4m1 0h11m3 0h13m1 0h26m2 0h87m1 0h19m2 0h6m2 0h3m1 0h4m1 0h5m2 0h1m1 0h3m32 0h2m17 0h2M732 645h2m1 0h2m4 0h25m1 0h11m1 0h5m1 0h17m1 0h112m5 0h2m1 0h2m1 0h2m2 0h13m32 0h3m35 0h2M732 646h5m3 0h5m1 0h12m1 0h19m1 0h5m2 0h15m2 0h101m2 0h12m2 0h3m1 0h3m1 0h2m1 0h3m1 0h5m1 0h2m7 0h1m25 0h1m35 0h3M727 647h3m1 0h7m2 0h2m4 0h3m1 0h10m3 0h20m1 0h18m2 0h1m1 0h101m1 0h3m1 0h6m3 0h1m2 0h6m1 0h9m9 0h3m12 0h2m47 0h1M727 648h11m5 0h1m3 0h7m3 0h4m3 0h18m1 0h8m1 0h10m1 0h107m2 0h6m3 0h3m1 0h6m1 0h2m14 0h3m1 0h2m10 0h2M728 649h4m2 0h1m5 0h13m5 0h3m3 0h24m3 0h100m2 0h21m1 0h2m2 0h1m1 0h3m1 0h6m1 0h2m8 0h4m2 0h6m9 0h1m43 0h2M727 650h1m1 0h3m2 0h1m1 0h2m1 0h10m1 0h3m5 0h3m4 0h2m1 0h124m1 0h11m1 0h6m1 0h10m3 0h2m1 0h6m4 0h1m3 0h4m6 0h1m9 0h3m42 0h2M726 651h6m1 0h9m3 0h3m3 0h1m3 0h2m2 0h3m3 0h4m1 0h24m1 0h15m1 0h81m2 0h10m2 0h6m2 0h9m5 0h2m1 0h14m2 0h3m1 0h2m9 0h2m4 0h1M727 652h3m1 0h11m2 0h4m6 0h8m4 0h13m2 0h5m1 0h7m2 0h1m2 0h105m2 0h5m2 0h6m1 0h13m1 0h3m1 0h6m3 0h2m2 0h2m14 0h3M727 653h2m2 0h2m1 0h7m2 0h19m3 0h1m1 0h4m1 0h3m1 0h32m1 0h92m1 0h3m1 0h4m1 0h1m1 0h21m1 0h9m7 0h2m15 0h1M726 654h1m2 0h3m3 0h3m1 0h36m1 0h11m1 0h119m1 0h1m1 0h2m1 0h8m1 0h4m1 0h2m1 0h5m1 0h2m1 0h5m4 0h2m1 0h1m33 0h2M726 655h2m1 0h3m4 0h8m2 0h3m4 0h22m1 0h9m3 0h27m1 0h88m1 0h2m1 0h1m1 0h2m1 0h4m2 0h5m1 0h4m1 0h8m1 0h3m6 0h3m34 0h2M722 656h3m1 0h3m1 0h3m1 0h8m1 0h3m1 0h1m1 0h1m1 0h5m4 0h11m1 0h3m2 0h2m2 0h5m1 0h29m1 0h7m1 0h80m2 0h3m2 0h6m4 0h2m1 0h4m1 0h3m1 0h2m3 0h2m8 0h1m3 0h2m30 0h2M722 657h3m2 0h3m1 0h24m6 0h11m1 0h5m2 0h2m1 0h2m2 0h2m2 0h110m2 0h2m1 0h3m2 0h6m1 0h1m7 0h3m1 0h3m4 0h5m5 0h2m4 0h2m28 0h1M723 658h3m2 0h2m1 0h2m2 0h5m1 0h3m2 0h4m1 0h7m5 0h9m2 0h8m2 0h46m1 0h63m1 0h10m1 0h15m5 0h2m2 0h5m2 0h2m8 0h2m4 0h2m8 0h2m17 0h3M724 659h3m3 0h2m2 0h1m1 0h3m1 0h2m1 0h16m3 0h50m1 0h76m1 0h25m2 0h4m1 0h3m2 0h2m3 0h8m23 0h2m17 0h2M724 660h3m2 0h3m2 0h2m1 0h24m1 0h3m1 0h1m1 0h9m1 0h2m1 0h118m1 0h8m3 0h4m1 0h5m1 0h3m1 0h3m1 0h13m2 0h2m16 0h2m73 0h2M721 661h2m2 0h4m1 0h2m2 0h3m1 0h3m1 0h4m2 0h4m2 0h13m1 0h7m4 0h128m1 0h3m2 0h7m3 0h6m1 0h5m4 0h4m2 0h2m90 0h3M721 662h3m2 0h3m3 0h2m1 0h10m3 0h5m1 0h7m1 0h13m4 0h17m1 0h5m1 0h116m4 0h5m3 0h4m45 0h2m56 0h2M721 663h4m2 0h3m2 0h3m1 0h9m1 0h10m3 0h20m2 0h3m2 0h124m1 0h10m4 0h4m2 0h4m2 0h1m42 0h2M722 664h4m2 0h3m1 0h3m1 0h17m1 0h2m4 0h5m1 0h5m1 0h7m1 0h5m1 0h9m1 0h12m2 0h98m2 0h11m5 0h4m2 0h3m2 0h2m41 0h2M718 665h2m3 0h3m3 0h3m2 0h2m1 0h18m3 0h6m1 0h6m1 0h13m1 0h10m1 0h92m1 0h9m1 0h9m1 0h4m2 0h2m1 0h5m4 0h1m4 0h2m2 0h3M718 666h3m3 0h3m2 0h4m1 0h3m1 0h3m1 0h14m1 0h7m1 0h5m1 0h11m2 0h16m1 0h3m1 0h84m2 0h7m2 0h14m1 0h4m1 0h4m8 0h3m2 0h3m7 0h2M718 667h4m3 0h3m2 0h3m2 0h3m1 0h2m1 0h3m1 0h17m1 0h1m1 0h4m1 0h2m3 0h6m2 0h3m1 0h3m1 0h8m2 0h3m1 0h70m1 0h16m1 0h5m1 0h13m2 0h9m7 0h3m3 0h1m9 0h2M719 668h3m4 0h3m2 0h3m2 0h3m1 0h3m1 0h4m1 0h11m3 0h6m1 0h14m1 0h6m1 0h13m1 0h8m1 0h79m1 0h17m3 0h9m2 0h4m1 0h3m2 0h3m2 0h2M720 669h3m3 0h4m2 0h3m1 0h3m1 0h7m2 0h12m3 0h14m2 0h10m2 0h14m1 0h98m1 0h6m3 0h2m2 0h6m1 0h4m1 0h3m2 0h2m3 0h2m8 0h2M721 670h3m3 0h3m3 0h3m1 0h3m1 0h3m1 0h17m5 0h11m1 0h11m2 0h3m1 0h1m1 0h100m2 0h11m2 0h13m1 0h2m3 0h2m7 0h2m6 0h4m27 0h3m99 0h2M704 671h2m15 0h4m3 0h3m2 0h4m1 0h3m2 0h2m1 0h6m2 0h9m2 0h25m1 0h10m1 0h109m2 0h7m2 0h12m15 0h2m29 0h3m99 0h3M704 672h2m10 0h1m5 0h4m3 0h3m2 0h3m2 0h3m1 0h2m1 0h6m3 0h12m1 0h4m1 0h3m1 0h5m1 0h42m1 0h62m1 0h12m2 0h7m2 0h6m4 0h4m3 0h2m152 0h1M704 673h3m9 0h2m5 0h3m4 0h3m2 0h3m2 0h3m4 0h3m1 0h1m2 0h5m2 0h9m3 0h23m1 0h28m1 0h60m3 0h13m1 0h15m1 0h9M705 674h3m8 0h3m5 0h3m4 0h3m2 0h3m1 0h4m2 0h4m3 0h7m1 0h2m1 0h3m1 0h35m1 0h11m1 0h66m1 0h12m1 0h1m1 0h30m11 0h1M706 675h3m8 0h3m5 0h3m3 0h4m2 0h3m1 0h4m1 0h3m3 0h7m1 0h3m1 0h2m1 0h1m1 0h7m1 0h15m1 0h26m1 0h87m2 0h17m12 0h3m4 0h1m40 0h3M706 676h4m8 0h3m5 0h3m3 0h3m2 0h4m1 0h3m1 0h3m1 0h9m1 0h8m1 0h6m2 0h10m1 0h13m1 0h10m1 0h88m4 0h14m1 0h2m2 0h2m11 0h3m4 0h3m39 0h3M707 677h4m7 0h3m5 0h4m3 0h3m2 0h3m2 0h3m1 0h31m1 0h8m2 0h91m1 0h15m1 0h5m4 0h7m1 0h3m6 0h3m9 0h4m6 0h2M708 678h3m8 0h3m5 0h3m4 0h3m3 0h2m2 0h3m1 0h6m1 0h17m1 0h14m4 0h12m1 0h93m1 0h4m3 0h7m1 0h4m7 0h1m10 0h4M694 679h1m14 0h3m8 0h3m5 0h3m3 0h4m2 0h3m1 0h8m2 0h6m1 0h8m1 0h3m1 0h3m3 0h7m4 0h12m1 0h88m1 0h7m5 0h6m2 0h4m1 0h2m3 0h3m8 0h3m9 0h1M693 680h3m14 0h3m8 0h3m5 0h3m3 0h4m2 0h3m1 0h7m1 0h6m1 0h22m1 0h11m2 0h73m1 0h8m1 0h13m1 0h2m1 0h4m5 0h7m1 0h3m2 0h2m4 0h2m8 0h2m9 0h2M694 681h3m14 0h3m7 0h4m5 0h3m3 0h3m2 0h3m2 0h3m3 0h1m1 0h1m1 0h6m1 0h4m2 0h25m1 0h5m1 0h61m1 0h24m1 0h3m2 0h7m5 0h7m1 0h2m17 0h2m11 0h2M694 682h4m13 0h4m7 0h3m5 0h4m3 0h3m2 0h2m3 0h2m2 0h3m1 0h6m1 0h4m1 0h9m2 0h13m4 0h4m2 0h60m1 0h17m1 0h6m9 0h2m9 0h3m19 0h3m1 0h2M695 683h4m13 0h3m8 0h3m5 0h4m3 0h3m3 0h2m4 0h1m1 0h29m1 0h10m1 0h7m1 0h60m1 0h24m1 0h2m4 0h4m18 0h2m11 0h3m1 0h1M696 684h3m14 0h3m8 0h3m5 0h3m3 0h4m2 0h3m2 0h3m1 0h28m1 0h17m2 0h60m3 0h22m1 0h2m2 0h4m10 0h3m7 0h2m54 0h1M697 685h3m14 0h3m8 0h3m5 0h3m3 0h4m2 0h3m1 0h9m1 0h10m1 0h29m3 0h57m4 0h18m1 0h1m1 0h1m6 0h4m9 0h5m33 0h2m23 0h1m2 0h3M698 686h3m13 0h4m7 0h4m5 0h3m3 0h3m3 0h3m1 0h3m1 0h3m1 0h17m1 0h7m1 0h16m2 0h46m1 0h10m3 0h16m21 0h3m3 0h1m1 0h2m11 0h3m19 0h2m22 0h2m3 0h1M698 687h4m13 0h4m7 0h4m4 0h4m3 0h3m2 0h3m2 0h3m1 0h3m1 0h16m2 0h15m1 0h9m1 0h62m3 0h9m2 0h3m13 0h2m2 0h3m18 0h3m19 0h2m22 0h2M699 688h4m13 0h3m8 0h3m5 0h4m3 0h3m2 0h3m2 0h3m1 0h26m1 0h8m2 0h72m1 0h10m3 0h3m2 0h2m9 0h2m4 0h1M700 689h3m14 0h3m8 0h3m5 0h3m4 0h3m2 0h3m2 0h3m1 0h24m3 0h5m2 0h45m1 0h13m1 0h12m2 0h3m3 0h2m1 0h2m2 0h3m2 0h3m14 0h3M701 690h3m14 0h3m8 0h3m5 0h3m3 0h4m2 0h3m1 0h33m3 0h10m1 0h5m1 0h25m1 0h30m2 0h3m12 0h2m3 0h2m14 0h2M702 691h3m14 0h3m8 0h3m5 0h3m3 0h3m3 0h3m2 0h2m1 0h3m1 0h3m3 0h19m2 0h4m1 0h4m2 0h1m1 0h13m1 0h17m1 0h10m1 0h19m1 0h1m4 0h2m3 0h3m2 0h3M703 692h3m13 0h4m7 0h4m4 0h4m3 0h3m2 0h4m1 0h3m1 0h3m1 0h3m1 0h29m3 0h66m4 0h3m2 0h4m2 0h2M703 693h4m13 0h3m8 0h3m5 0h4m3 0h3m2 0h3m2 0h3m1 0h6m1 0h8m1 0h2m1 0h5m1 0h12m1 0h5m1 0h42m1 0h8m6 0h4m4 0h3m3 0h2m2 0h5M704 694h3m14 0h3m8 0h3m5 0h3m4 0h3m2 0h3m2 0h3m1 0h20m1 0h18m1 0h1m2 0h51m1 0h2m3 0h4m3 0h3m8 0h5M705 695h3m14 0h3m8 0h3m5 0h3m3 0h4m2 0h3m1 0h3m1 0h23m1 0h74m3 0h3m3 0h3m11 0h2m2 0h2m13 0h1M706 696h3m14 0h3m8 0h3m5 0h3m3 0h4m2 0h3m2 0h6m1 0h23m1 0h19m2 0h3m1 0h21m1 0h7m2 0h13m4 0h1m3 0h4m11 0h2m1 0h3m12 0h3M707 697h3m13 0h4m7 0h4m5 0h3m3 0h3m2 0h4m1 0h3m2 0h2m1 0h3m1 0h28m1 0h3m3 0h9m1 0h16m1 0h3m2 0h11m1 0h8m9 0h4m2 0h2m11 0h1m13 0h2M707 698h4m14 0h3m7 0h3m5 0h4m3 0h3m2 0h3m2 0h3m1 0h3m1 0h18m1 0h3m1 0h24m3 0h18m3 0h1m2 0h5m3 0h1m1 0h4m11 0h5m1 0h3m1 0h2M708 699h4m13 0h3m8 0h3m5 0h3m4 0h3m2 0h3m2 0h3m1 0h50m1 0h20m2 0h1m3 0h5m2 0h7m7 0h2m3 0h3m3 0h1m2 0h5m16 0h2M709 700h3m14 0h3m8 0h3m5 0h3m3 0h4m2 0h3m2 0h2m2 0h13m1 0h11m1 0h22m1 0h13m1 0h7m1 0h2m5 0h3m2 0h3m11 0h2m13 0h4m16 0h3M710 701h3m14 0h3m8 0h3m5 0h3m4 0h3m2 0h3m1 0h7m1 0h2m2 0h4m3 0h44m1 0h2m2 0h2m2 0h1m1 0h3m3 0h4m4 0h2m2 0h2m7 0h3m6 0h2m4 0h2m19 0h1M711 702h3m13 0h4m7 0h4m5 0h3m3 0h3m2 0h4m1 0h3m3 0h1m3 0h4m2 0h1m1 0h21m2 0h20m2 0h6m1 0h2m2 0h3m1 0h5m8 0h2m7 0h3m4 0h4M711 703h4m13 0h4m7 0h4m4 0h4m3 0h3m3 0h3m1 0h3m1 0h3m1 0h16m1 0h7m2 0h4m2 0h13m1 0h6m3 0h8m2 0h3m1 0h6m7 0h2m14 0h2m1 0h3m52 0h1M712 704h4m13 0h3m8 0h3m5 0h4m3 0h3m2 0h3m2 0h1m3 0h14m1 0h12m1 0h21m1 0h6m1 0h5m1 0h5m1 0h2m2 0h4m8 0h2m14 0h2m1 0h4m50 0h3M713 705h3m14 0h3m8 0h3m5 0h3m3 0h4m2 0h3m6 0h8m2 0h2m2 0h12m1 0h28m1 0h5m1 0h5m6 0h1m1 0h1m2 0h2m4 0h2m7 0h2m10 0h2m50 0h2M714 706h3m14 0h3m8 0h3m5 0h3m3 0h4m2 0h3m5 0h7m1 0h43m8 0h6m9 0h7m3 0h2m7 0h2m8 0h3m22 0h3m31 0h1M715 707h3m13 0h4m7 0h4m5 0h3m3 0h3m3 0h2m6 0h2m2 0h14m2 0h6m1 0h23m2 0h3m3 0h5m2 0h3m6 0h1m2 0h3m12 0h1m9 0h3m22 0h3m30 0h3M715 708h4m13 0h4m7 0h4m5 0h3m3 0h3m3 0h3m2 0h2m3 0h1m1 0h7m2 0h5m10 0h10m1 0h7m1 0h1m3 0h3m8 0h6m11 0h2m78 0h2M716 709h4m13 0h3m8 0h3m5 0h4m3 0h3m2 0h3m2 0h3m1 0h10m2 0h6m2 0h4m1 0h1m1 0h3m1 0h5m2 0h5m1 0h1m16 0h6m11 0h3m13 0h2M717 710h3m14 0h3m8 0h3m5 0h3m4 0h3m2 0h3m2 0h3m1 0h10m2 0h6m1 0h7m1 0h2m1 0h7m1 0h1m3 0h3m9 0h2m4 0h4m14 0h2m12 0h3M718 711h3m14 0h3m8 0h3m5 0h3m3 0h4m2 0h3m1 0h3m1 0h3m1 0h7m2 0h12m2 0h3m1 0h3m1 0h2m3 0h2m1 0h2m3 0h5m1 0h2m6 0h2m17 0h1m11 0h1M719 712h3m14 0h3m8 0h3m5 0h3m3 0h3m3 0h3m6 0h2m1 0h6m3 0h6m1 0h3m3 0h10m3 0h2m4 0h7m1 0h5m21 0h3M720 713h3m13 0h4m7 0h4m5 0h3m3 0h3m2 0h4m3 0h1m1 0h3m1 0h6m2 0h6m1 0h4m1 0h7m2 0h2m9 0h4m6 0h2m9 0h1m13 0h2M720 714h4m13 0h3m8 0h3m5 0h4m3 0h3m2 0h3m2 0h3m4 0h5m2 0h3m2 0h3m1 0h6m2 0h6m2 0h4m3 0h3m1 0h2m15 0h3m14 0h1m18 0h3M721 715h3m14 0h3m8 0h3m5 0h3m4 0h3m2 0h3m2 0h3m4 0h2m3 0h5m2 0h2m1 0h6m2 0h2m2 0h3m1 0h4m1 0h4m2 0h2m15 0h2m14 0h3m3 0h2m12 0h3M722 716h3m14 0h3m8 0h3m5 0h3m3 0h4m3 0h2m2 0h2m9 0h4m4 0h6m4 0h2m2 0h3m1 0h1m1 0h1m2 0h2m7 0h2m27 0h4m3 0h3m12 0h1M723 717h3m14 0h3m8 0h3m5 0h3m3 0h4m2 0h3m12 0h2m6 0h2m4 0h2m2 0h2m2 0h2m1 0h4m11 0h6m21 0h1m1 0h2m2 0h2m1 0h2m10 0h2M724 718h3m13 0h4m7 0h4m5 0h3m3 0h3m3 0h2m4 0h1m15 0h2m4 0h2m9 0h5m4 0h2m4 0h6m11 0h2m2 0h2m3 0h3m4 0h2m1 0h2m10 0h2M724 719h4m13 0h4m7 0h4m4 0h4m3 0h3m3 0h3m1 0h3m14 0h2m18 0h1m5 0h2m5 0h3m12 0h3m1 0h3m3 0h3m5 0h1m13 0h2M725 720h4m13 0h3m8 0h3m5 0h3m4 0h3m2 0h3m2 0h2m3 0h2m9 0h2m15 0h2m34 0h1M726 721h3m14 0h3m8 0h3m5 0h3m4 0h2m3 0h3m2 0h3m1 0h2m11 0h2m2 0h3m7 0h3m4 0h1m101 0h1M727 722h3m14 0h3m8 0h3m5 0h3m9 0h3m1 0h3m1 0h2m11 0h3m2 0h3m6 0h2m2 0h2m1 0h2m13 0h2m84 0h3M728 723h3m13 0h4m8 0h3m5 0h3m5 0h1m2 0h4m2 0h2m2 0h2m10 0h1m3 0h4m2 0h2m5 0h5m13 0h2m5 0h2m78 0h2M728 724h4m13 0h4m7 0h4m4 0h4m3 0h3m2 0h3m2 0h2m2 0h3m2 0h2m10 0h3m2 0h2m6 0h3m21 0h2m13 0h1M729 725h4m13 0h3m8 0h3m5 0h3m4 0h3m11 0h1m3 0h2m15 0h3m6 0h1m36 0h3m6 0h2M730 726h3m14 0h3m8 0h3m5 0h3m3 0h2m16 0h2m16 0h3m43 0h1m7 0h3M731 727h3m14 0h3m8 0h3m5 0h3m4 0h3m32 0h1m50 0h4M732 728h3m13 0h4m7 0h4m5 0h3m3 0h3m22 0h2m59 0h2M732 729h4m13 0h4m7 0h4m4 0h4m3 0h3m4 0h1m16 0h2m18 0h2m11 0h2M733 730h4m13 0h3m8 0h3m5 0h4m3 0h3m3 0h2m10 0h3m22 0h2m10 0h3M734 731h3m14 0h3m8 0h3m5 0h3m4 0h3m2 0h3m9 0h3m22 0h3m10 0h1M735 732h3m14 0h3m8 0h3m5 0h2m4 0h4m2 0h2m3 0h3m4 0h2m13 0h2m8 0h2M736 733h3m14 0h2m9 0h3m6 0h2m3 0h3m7 0h3m19 0h2M737 734h3m13 0h4m7 0h4m5 0h3m3 0h2m33 0h2m7 0h3M737 735h4m13 0h3m8 0h3m5 0h4m4 0h2m30 0h3m1 0h1m5 0h3M738 736h3m14 0h3m8 0h3m5 0h3m4 0h3m30 0h1m1 0h3m2 0h2M739 737h3m14 0h3m8 0h3m6 0h2m4 0h2m16 0h2m14 0h2m3 0h2M740 738h3m14 0h3m8 0h3m5 0h3m3 0h2m16 0h3m2 0h2M741 739h3m14 0h3m7 0h4m5 0h3m22 0h2m1 0h2M741 740h4m13 0h4m7 0h4m4 0h4m4 0h2m15 0h2m1 0h3m40 0h1M742 741h4m13 0h3m8 0h3m5 0h3m4 0h2m15 0h2m2 0h2m39 0h3M743 742h3m14 0h3m8 0h3m5 0h3m24 0h2m14 0h2m24 0h1M744 743h3m14 0h3m8 0h3m5 0h3m39 0h2M745 744h3m13 0h4m7 0h4m5 0h2m11 0h2m3 0h1m22 0h2M745 745h4m13 0h4m7 0h4m17 0h3m1 0h2M746 746h4m13 0h3m8 0h3m18 0h1m2 0h2M747 747h3m14 0h3m8 0h3M748 748h3m14 0h3m8 0h3m6 0h2M749 749h3m14 0h3m7 0h4m5 0h2m19 0h2M750 750h3m13 0h4m7 0h3m26 0h2M750 751h4m13 0h3m9 0h2M751 752h3m14 0h3m8 0h2M752 753h3m14 0h3M753 754h3m14 0h3m9 0h2m5 0h3M754 755h3m13 0h4m8 0h3m4 0h3M754 756h4m13 0h3m8 0h3M755 757h3m14 0h3m8 0h3M756 758h3m14 0h3m8 0h2M757 759h3m14 0h3M758 760h3m13 0h4M758 761h4m13 0h3M759 762h4m15 0h1m24 0h1M760 763h3m14 0h4m21 0h3M761 764h3m14 0h3m22 0h1M762 765h3m14 0h1M762 766h4M763 767h4M764 768h3M765 769h3M766 770h3M766 771h4m15 0h2M767 772h4m14 0h2M768 773h3m27 0h1M769 774h3m25 0h3M770 775h3m25 0h1M771 776h3M771 777h4M772 778h2M778 783h3M778 784h2"/>
<path class="l" d="M679.91 564.71H1098.78V792.35H679.91Z"/>
<path class="l" d="M719.09 792.35H1052.39M719.09 792.35V805.02M830.19 792.35V805.02M941.29 792.35V805.02M1052.39 792.35V805.02M679.91 592.91V730.11M679.91 592.91H667.24M679.91 661.51H667.24M679.91 730.11H667.24"/>
<text class="m" x="719.09" y="837.66">0</text>
<text class="m" x="830.19" y="837.66">5</text>
<text class="m" x="941.29" y="837.66">10</text>
<text class="m" x="1052.39" y="837.66">15</text>
<text class="m" transform="translate(649.5 592.91) rotate(-90)">5</text>
<text class="m" transform="translate(649.5 661.51) rotate(-90)">0</text>
<text class="m" transform="translate(649.5 730.11) rotate(-90)">-5</text>
<text class="m t" x="889.34" y="521.31">Sample4</text>
<text class="m" x="889.34" y="888.65">Average log CPM (this sample and others)</text>
<text class="m y" transform="translate(598.81 678.53) rotate(-90)">log-ratio (this sample vs others)</text>
</g>
<g>
<path transform="translate(0 .5)" shape-rendering="crispEdges" stroke="#000" stroke-width="1" fill="none" d="M201 1033h2M201 1034h2m82 0h2M285 1035h2M286 1036h1M244 1038h2M224 1039h1m19 0h2M223 1040h3M216 1041h1m7 0h1M215 1042h3M216 1043h1M216 1045h2M216 1046h2M207 1051h2m7 0h1M207 1052h2m6 0h3M205 1053h2m6 0h5M186 1054h2m2 0h2m13 0h2m6 0h3m36 0h2M186 1055h2m2 0h3m12 0h2m6 0h2m6 0h5m26 0h3M191 1056h1m21 0h2m6 0h5m20 0h2m5 0h1M216 1057h2m5 0h2m21 0h2M186 1058h2m27 0h3m28 0h2M185 1059h3m28 0h1M184 1060h3m23 0h3m18 0h2m2 0h1m8 0h1m1 0h2m3 0h2M184 1061h3m23 0h3m18 0h2m1 0h3m1 0h2m3 0h5m3 0h2M185 1062h1m10 0h4m35 0h2m1 0h2m4 0h1M183 1063h2m11 0h4m17 0h1m11 0h3m6 0h2M183 1064h2m5 0h3m1 0h3m16 0h6m10 0h3m6 0h2m5 0h1M183 1065h2m1 0h3m1 0h3m1 0h3m15 0h7m19 0h3m3 0h3m2 0h2m56 0h1M180 1066h2m4 0h6m15 0h2m3 0h3m2 0h2m16 0h2m2 0h1m4 0h3m2 0h2m55 0h3M180 1067h2m1 0h2m3 0h4m11 0h2m1 0h3m9 0h2m14 0h3m7 0h2m19 0h2m40 0h1M181 1068h4m4 0h5m1 0h5m3 0h2m1 0h4m8 0h2m11 0h2m2 0h2m7 0h2m19 0h2M181 1069h4m7 0h8m6 0h4m7 0h3m1 0h2m8 0h6m7 0h2m12 0h2m1 0h2m6 0h2m92 0h2M180 1070h6m8 0h3m1 0h1m7 0h2m2 0h1m6 0h2m2 0h4m7 0h2m1 0h2m12 0h3m6 0h5m6 0h2m92 0h3M180 1071h9m5 0h3m4 0h1m7 0h2m9 0h1m1 0h3m7 0h2m11 0h2m3 0h2m6 0h2m1 0h1m102 0h1M174 1072h1m2 0h1m8 0h4m6 0h2m2 0h3m5 0h3m8 0h3m3 0h3m3 0h2m12 0h3m5 0h2m6 0h3m11 0h2m3 0h3M173 1073h8m5 0h4m5 0h7m6 0h2m4 0h2m3 0h2m4 0h3m3 0h2m2 0h2m9 0h1m6 0h2m6 0h3m11 0h2m3 0h3M174 1074h11m9 0h3m1 0h2m8 0h1m1 0h3m1 0h2m3 0h2m13 0h3m4 0h2m10 0h2M181 1075h5m5 0h2m2 0h5m1 0h2m4 0h2m1 0h3m1 0h2m3 0h3m13 0h1m5 0h2m11 0h1m2 0h2M172 1076h5m2 0h1m1 0h3m1 0h3m2 0h3m5 0h2m1 0h2m4 0h2m11 0h2m1 0h2m12 0h1m3 0h2m12 0h4m13 0h1m16 0h2M172 1077h17m1 0h3m8 0h2m5 0h1m4 0h1m4 0h3m2 0h2m9 0h1m1 0h3m2 0h2m10 0h4m8 0h2m4 0h3m7 0h2m6 0h2m3 0h2M170 1078h20m1 0h2m5 0h2m1 0h3m4 0h3m1 0h4m2 0h3m2 0h3m7 0h5m10 0h1m1 0h6m9 0h2m4 0h2m8 0h2m6 0h2m3 0h2M169 1079h5m3 0h6m1 0h6m8 0h7m3 0h9m7 0h3m6 0h3m6 0h1m4 0h8m17 0h3m3 0h5M169 1080h27m2 0h7m6 0h2m2 0h3m5 0h4m8 0h2m4 0h3m4 0h2m22 0h3m1 0h1m1 0h3m1 0h3m13 0h3M167 1081h1m2 0h16m1 0h19m5 0h2m3 0h3m2 0h6m1 0h3m3 0h4m1 0h2m1 0h1m16 0h1m15 0h3m4 0h3m13 0h4M166 1082h24m1 0h8m3 0h6m3 0h2m3 0h9m1 0h7m1 0h3m2 0h5m9 0h2m3 0h3m15 0h1m22 0h2M167 1083h10m1 0h16m1 0h3m1 0h10m3 0h3m2 0h1m1 0h13m1 0h2m4 0h1m1 0h3m2 0h2m5 0h2m4 0h2m17 0h2M168 1084h26m1 0h15m1 0h11m1 0h4m1 0h1m1 0h8m4 0h1m3 0h3m1 0h2m8 0h1m7 0h2m8 0h2m8 0h1m1 0h1m4 0h2M165 1085h29m1 0h10m3 0h2m1 0h12m2 0h5m1 0h7m9 0h5m7 0h3m6 0h2m8 0h2m7 0h5m3 0h3M164 1086h42m2 0h5m2 0h1m2 0h5m1 0h3m1 0h10m7 0h2m1 0h4m8 0h1m17 0h2m2 0h2m3 0h5m4 0h1m4 0h1M164 1087h10m1 0h31m1 0h26m1 0h5m1 0h3m2 0h2m3 0h1m2 0h2m23 0h2m2 0h2m3 0h2m11 0h3M163 1088h37m1 0h17m1 0h10m2 0h1m1 0h2m2 0h7m2 0h2m1 0h3m1 0h3m1 0h1m1 0h3m16 0h2m15 0h2m4 0h4M161 1089h74m3 0h6m1 0h4m1 0h3m1 0h8m2 0h2m1 0h2m25 0h3m6 0h2M161 1090h35m3 0h36m1 0h2m1 0h3m3 0h4m1 0h3m1 0h2m1 0h2m5 0h5m14 0h3m7 0h3m7 0h2M160 1091h37m2 0h36m1 0h6m2 0h4m1 0h3m6 0h1m5 0h5m1 0h2m11 0h3m7 0h2m8 0h3m12 0h2M160 1092h4m1 0h79m1 0h1m3 0h4m4 0h6m1 0h3m2 0h3m11 0h2m6 0h1m12 0h1m13 0h2M159 1093h13m1 0h72m1 0h2m1 0h4m1 0h1m3 0h5m2 0h3m2 0h1m15 0h3m1 0h3m2 0h1m3 0h3m16 0h2M160 1094h12m1 0h75m1 0h3m1 0h10m2 0h3m1 0h1m2 0h2m12 0h7m1 0h3m2 0h3M158 1095h90m1 0h14m1 0h7m1 0h3m5 0h2m3 0h2m1 0h9M157 1096h75m1 0h14m2 0h2m1 0h6m1 0h12m2 0h2m4 0h3m3 0h2m1 0h2m1 0h1m1 0h3M156 1097h48m1 0h3m1 0h23m1 0h17m1 0h8m1 0h4m1 0h1m7 0h3m4 0h2m6 0h4M156 1098h76m1 0h26m1 0h3m3 0h1m6 0h2m5 0h3m2 0h2m1 0h4m23 0h2M155 1099h105m1 0h3m1 0h3m2 0h13m1 0h3m7 0h2m1 0h3m14 0h3m2 0h4M154 1100h110m1 0h2m3 0h13m1 0h2m3 0h2m2 0h3m1 0h3m14 0h3m2 0h5m12 0h2m14 0h2m35 0h2M154 1101h72m1 0h37m2 0h1m6 0h10m1 0h7m2 0h4m1 0h2m17 0h7m12 0h3m13 0h2m35 0h2M154 1102h83m1 0h30m5 0h18m1 0h4m2 0h2m16 0h3m3 0h1m13 0h2m52 0h1M152 1103h85m1 0h50m1 0h2m1 0h3m8 0h1m12 0h2m13 0h1m4 0h1m20 0h2m9 0h3m60 0h2M151 1104h86m1 0h39m1 0h9m2 0h7m1 0h2m3 0h3m5 0h3m3 0h1m2 0h1m4 0h1m4 0h4m2 0h3m9 0h1m2 0h1m6 0h4m7 0h3m60 0h2M151 1105h2m3 0h97m1 0h23m1 0h6m1 0h2m4 0h9m2 0h2m1 0h2m1 0h5m5 0h3m2 0h3m3 0h3m4 0h2m8 0h6m5 0h4M150 1106h5m1 0h104m1 0h19m1 0h3m6 0h10m4 0h8m7 0h2m3 0h1m12 0h2m7 0h2m2 0h1m6 0h1M149 1107h116m1 0h19m5 0h2m2 0h5m3 0h7m9 0h2m17 0h2m17 0h3M149 1108h143m1 0h6m2 0h8m9 0h2m4 0h2m24 0h3m4 0h2M148 1109h161m1 0h2m1 0h4m4 0h5m1 0h2m6 0h5m10 0h3M148 1110h147m1 0h10m3 0h15m3 0h2m6 0h5m14 0h2M147 1111h160m1 0h8m1 0h7m3 0h2m6 0h4m15 0h2m3 0h2M147 1112h149m1 0h4m1 0h14m1 0h3m6 0h4m4 0h5m15 0h2m2 0h3m24 0h3M147 1113h128m1 0h20m1 0h2m1 0h16m2 0h7m1 0h4m4 0h3m7 0h4m37 0h3M146 1114h138m1 0h19m1 0h14m1 0h5m2 0h2m3 0h1m10 0h6m15 0h1m53 0h2M145 1115h164m2 0h9m1 0h5m1 0h2m2 0h4m7 0h3m2 0h1m5 0h2m8 0h3m52 0h3M144 1116h166m2 0h5m1 0h2m2 0h8m1 0h7m5 0h1m6 0h2m1 0h2m3 0h2m3 0h2m54 0h1m86 0h2M144 1117h175m3 0h5m1 0h11m9 0h5m5 0h2m146 0h3M145 1118h176m1 0h4m2 0h5m2 0h4m9 0h6m152 0h2M145 1119h182m2 0h2m1 0h2m1 0h6m7 0h2m2 0h2m15 0h2m5 0h2M144 1120h182m2 0h15m2 0h2m8 0h1m5 0h2m5 0h3m2 0h2m1 0h3M144 1121h163m2 0h17m1 0h12m1 0h8m6 0h6m1 0h3m5 0h1m3 0h2m2 0h1m2 0h2M143 1122h190m7 0h8m1 0h3m2 0h2m1 0h4m1 0h3m15 0h2M144 1123h190m1 0h3m3 0h2m2 0h3m1 0h4m6 0h6m15 0h2M145 1124h5m1 0h191m1 0h11m6 0h5m3 0h2m10 0h2M144 1125h149m1 0h31m1 0h27m1 0h1m2 0h6m4 0h3m10 0h2M144 1126h5m1 0h182m1 0h13m1 0h15m9 0h4M144 1127h10m1 0h177m1 0h13m5 0h5m1 0h1m1 0h3m9 0h4m22 0h2M146 1128h8m1 0h1m1 0h157m1 0h32m2 0h1m2 0h4m4 0h2m9 0h2m24 0h2M146 1129h187m3 0h3m2 0h15m12 0h2m7 0h3m21 0h2M146 1130h188m3 0h4m1 0h16m6 0h3m1 0h2m2 0h2m3 0h3m20 0h3M146 1131h6m1 0h1m1 0h179m2 0h5m1 0h2m1 0h5m3 0h1m1 0h3m6 0h3m1 0h2m2 0h2m27 0h1M144 1132h5m1 0h5m1 0h184m1 0h2m1 0h6m3 0h2m1 0h1m2 0h1m4 0h2m6 0h2m21 0h2M143 1133h6m2 0h193m1 0h5m3 0h8m5 0h2m27 0h2M144 1134h4m3 0h174m1 0h18m3 0h3m2 0h2m1 0h5m6 0h4M143 1135h1m1 0h2m5 0h185m1 0h6m1 0h9m1 0h1m3 0h1m7 0h3m22 0h2M142 1136h6m3 0h2m1 0h176m4 0h8m3 0h6m6 0h3m1 0h2m29 0h2M143 1137h2m1 0h39m1 0h133m1 0h13m2 0h10m1 0h3m2 0h2m4 0h3m1 0h3m11 0h2M141 1138h2m2 0h174m1 0h15m2 0h12m2 0h2m5 0h3m1 0h2m7 0h1m2 0h3m68 0h3M138 1139h2m1 0h12m1 0h163m1 0h18m1 0h11m3 0h2m6 0h1m2 0h1m7 0h3m2 0h1m69 0h2M135 1140h2m1 0h2m1 0h3m1 0h150m1 0h16m1 0h4m1 0h8m2 0h7m3 0h3m3 0h2m5 0h2m3 0h2m8 0h2m2 0h3M134 1141h3m2 0h2m1 0h2m1 0h3m1 0h164m1 0h12m1 0h9m3 0h1m1 0h2m1 0h2m10 0h2m8 0h2m2 0h2m19 0h1M135 1142h3m1 0h3m2 0h7m1 0h26m1 0h4m1 0h79m1 0h62m1 0h10m1 0h2m1 0h2m13 0h3m31 0h3M136 1143h3m1 0h3m1 0h2m1 0h3m1 0h10m1 0h5m2 0h11m1 0h1m1 0h66m1 0h61m1 0h17m1 0h10m17 0h2m31 0h2M132 1144h2m2 0h3m1 0h3m1 0h23m2 0h14m1 0h77m1 0h30m1 0h9m1 0h8m1 0h4m1 0h1m1 0h3m1 0h16m21 0h1M132 1145h3m2 0h3m1 0h3m1 0h128m1 0h28m3 0h2m1 0h7m2 0h14m3 0h4m21 0h3M133 1146h3m1 0h3m2 0h14m1 0h18m1 0h49m1 0h62m1 0h5m1 0h6m1 0h3m3 0h11m1 0h1m6 0h5m3 0h1m5 0h2m13 0h2m1 0h2M128 1147h2m3 0h3m2 0h3m2 0h2m1 0h10m2 0h18m1 0h4m1 0h69m1 0h4m1 0h7m1 0h10m1 0h11m1 0h6m1 0h5m2 0h3m2 0h3m2 0h7m1 0h3m5 0h5m8 0h2m13 0h2M122 1148h2m4 0h3m4 0h2m2 0h3m1 0h3m1 0h9m1 0h15m2 0h76m1 0h5m2 0h28m2 0h6m1 0h4m14 0h5m2 0h3m8 0h1m15 0h2M122 1149h3m4 0h3m3 0h3m2 0h3m1 0h3m1 0h2m1 0h20m1 0h2m1 0h8m4 0h63m2 0h5m1 0h1m1 0h5m1 0h20m3 0h5m1 0h4m15 0h3m3 0h2m25 0h3m10 0h3m6 0h3M122 1150h3m4 0h3m3 0h3m2 0h3m2 0h3m1 0h2m1 0h1m2 0h1m1 0h12m2 0h7m1 0h4m4 0h53m1 0h8m4 0h22m1 0h9m1 0h2m1 0h3m3 0h2m18 0h2m3 0h3m7 0h2m16 0h1m7 0h1m3 0h3m6 0h3m11 0h3M123 1151h3m6 0h1m3 0h3m2 0h3m1 0h3m1 0h2m2 0h2m3 0h16m2 0h1m1 0h4m4 0h20m1 0h42m1 0h16m1 0h9m5 0h7m2 0h2m1 0h5m3 0h2m5 0h2m11 0h1m8 0h2m11 0h1m11 0h3m25 0h3M124 1152h3m4 0h3m3 0h2m3 0h3m1 0h3m2 0h5m1 0h15m5 0h8m1 0h2m1 0h75m1 0h1m1 0h6m1 0h2m7 0h2m3 0h10m3 0h3m4 0h2m2 0h3m27 0h3m3 0h3m5 0h1m27 0h1M124 1153h3m4 0h4m3 0h2m2 0h3m1 0h4m1 0h2m1 0h17m6 0h8m3 0h2m1 0h17m1 0h40m1 0h8m1 0h15m3 0h2m1 0h3m5 0h4m1 0h6m3 0h1m5 0h2m2 0h3m27 0h2m4 0h3M125 1154h3m4 0h3m3 0h3m2 0h3m1 0h3m1 0h15m1 0h3m1 0h1m11 0h2m3 0h2m2 0h1m2 0h3m1 0h5m2 0h43m2 0h2m1 0h4m1 0h11m1 0h3m3 0h6m4 0h3m4 0h2m1 0h1m2 0h1m18 0h1m10 0h2m20 0h1M126 1155h3m4 0h3m3 0h3m2 0h3m1 0h3m1 0h8m1 0h5m2 0h5m5 0h2m3 0h4m5 0h1m2 0h1m4 0h20m1 0h28m5 0h2m3 0h3m4 0h1m5 0h2m6 0h4m2 0h3m10 0h3m16 0h3m9 0h2m19 0h3M117 1156h3m6 0h3m4 0h3m3 0h3m2 0h3m2 0h5m2 0h1m4 0h5m3 0h3m4 0h4m3 0h4m1 0h2m1 0h6m2 0h5m2 0h10m1 0h22m1 0h2m2 0h1m3 0h1m3 0h6m4 0h2m13 0h2m1 0h5m1 0h3m5 0h3m1 0h3m18 0h2m10 0h1m19 0h2M117 1157h4m6 0h3m5 0h2m3 0h3m2 0h3m1 0h3m2 0h2m9 0h3m1 0h2m5 0h4m2 0h8m2 0h6m1 0h6m2 0h8m5 0h24m8 0h6m2 0h4m5 0h1m5 0h4m1 0h2m1 0h1m2 0h2m2 0h2m2 0h6M118 1158h3m7 0h3m4 0h3m3 0h3m2 0h3m1 0h3m1 0h2m6 0h1m2 0h3m1 0h4m4 0h3m5 0h6m2 0h4m1 0h8m1 0h5m1 0h2m3 0h26m3 0h3m2 0h5m3 0h4m4 0h3m2 0h6m1 0h3m7 0h2m2 0h3M119 1159h3m6 0h3m5 0h3m2 0h3m2 0h3m2 0h2m8 0h3m5 0h4m1 0h2m2 0h1m1 0h1m7 0h3m7 0h7m2 0h9m2 0h16m8 0h2m3 0h3m3 0h6m3 0h2m4 0h2m2 0h6m2 0h3m3 0h2m2 0h1m3 0h2M120 1160h3m6 0h3m4 0h3m3 0h3m2 0h3m1 0h3m3 0h1m3 0h3m1 0h11m3 0h4m6 0h2m8 0h3m1 0h2m2 0h21m1 0h4m19 0h3m1 0h4m2 0h3m8 0h5m5 0h2m1 0h2m3 0h2M120 1161h3m7 0h3m4 0h3m3 0h3m2 0h3m1 0h3m1 0h17m1 0h1m3 0h6m3 0h1m1 0h3m1 0h3m1 0h2m1 0h4m5 0h3m1 0h7m2 0h4m1 0h6m19 0h3m2 0h4m1 0h2m19 0h2m1 0h2m3 0h2M121 1162h3m6 0h3m5 0h3m2 0h3m2 0h3m2 0h2m1 0h3m1 0h3m3 0h2m1 0h4m4 0h6m3 0h6m1 0h6m3 0h2m5 0h3m1 0h3m8 0h1m2 0h2m1 0h3m3 0h3m7 0h4m7 0h4m8 0h2M122 1163h3m6 0h3m4 0h3m3 0h3m2 0h3m5 0h3m1 0h2m2 0h2m2 0h5m3 0h2m2 0h1m5 0h5m5 0h2m2 0h2m1 0h3m2 0h3m14 0h2m2 0h4m2 0h3m8 0h4m6 0h4m7 0h3m9 0h1M122 1164h3m7 0h3m4 0h3m3 0h3m2 0h2m6 0h9m5 0h1m7 0h1m8 0h1m3 0h6m2 0h7m1 0h4m11 0h4m3 0h3m9 0h1m5 0h2m8 0h1m9 0h1m10 0h2m112 0h2M123 1165h3m6 0h3m5 0h3m2 0h4m2 0h3m4 0h2m2 0h1m1 0h4m11 0h2m12 0h5m6 0h3m2 0h4m10 0h3m6 0h2m8 0h2m29 0h2m5 0h2m112 0h3M124 1166h3m6 0h3m5 0h2m3 0h3m2 0h3m2 0h2m5 0h4m11 0h4m11 0h2m1 0h1m8 0h1m1 0h2m1 0h3m10 0h2m7 0h2m8 0h2m8 0h2m10 0h2m7 0h2m120 0h1M124 1167h3m7 0h3m4 0h3m3 0h3m6 0h2m5 0h2m2 0h2m9 0h4m5 0h3m2 0h3m6 0h8m43 0h2m10 0h2m7 0h2m16 0h2m1 0h2M125 1168h3m6 0h3m5 0h3m3 0h2m4 0h1m7 0h1m1 0h5m2 0h2m3 0h6m5 0h3m3 0h1m7 0h3m1 0h1m1 0h2m15 0h3m37 0h2m1 0h1m5 0h2m16 0h2m1 0h2M126 1169h3m6 0h3m4 0h3m3 0h3m2 0h3m5 0h6m3 0h12m20 0h4m18 0h3m10 0h2m27 0h3m3 0h3m16 0h2M126 1170h3m8 0h2m4 0h3m3 0h3m2 0h3m3 0h1m1 0h3m4 0h10m1 0h3m13 0h2m4 0h4m7 0h2m22 0h2m28 0h2m1 0h1m2 0h2M127 1171h3m6 0h3m5 0h2m4 0h2m2 0h4m1 0h6m4 0h5m2 0h3m2 0h2m10 0h5m3 0h5m6 0h3m10 0h2m10 0h2m30 0h3M128 1172h3m7 0h2m11 0h2m2 0h3m1 0h5m6 0h2m7 0h1m13 0h4m5 0h1m10 0h1m7 0h2m2 0h2m43 0h1M128 1173h3m7 0h3m5 0h2m3 0h3m2 0h2m2 0h3m8 0h2m5 0h3m40 0h3m57 0h2M129 1174h3m7 0h3m4 0h3m3 0h1m8 0h2m2 0h3m3 0h2m5 0h3m3 0h2m6 0h2m28 0h2m57 0h2M130 1175h3m6 0h3m4 0h2m14 0h6m11 0h1m3 0h3m6 0h2m87 0h1M130 1176h3m7 0h2m20 0h3m19 0h1m11 0h2M131 1177h3m7 0h3m27 0h2m11 0h2m1 0h3m6 0h3M132 1178h3m6 0h3m24 0h2m1 0h2m11 0h2m1 0h3m7 0h1M132 1179h4m7 0h2m6 0h1m9 0h2m5 0h3m13 0h2m10 0h2m32 0h2M133 1180h3m7 0h3m4 0h3m8 0h2m6 0h1m25 0h3m32 0h2M134 1181h3m6 0h3m4 0h3m8 0h2m33 0h1m33 0h2M134 1182h4m6 0h3m11 0h2M135 1183h3m7 0h3m5 0h2m3 0h3m10 0h3M136 1184h3m6 0h3m5 0h2m3 0h3m10 0h3M136 1185h4m6 0h2m11 0h2m11 0h3M137 1186h3m8 0h2m23 0h1m75 0h1M138 1187h3m6 0h3m6 0h2m90 0h3M139 1188h3m13 0h3m90 0h2M139 1189h3m9 0h1m3 0h4M140 1190h3m7 0h3m4 0h2m32 0h2m25 0h2M141 1191h3m7 0h1m5 0h2m31 0h3m25 0h3M141 1192h3m47 0h1m27 0h1M142 1193h3m20 0h3M143 1194h3m19 0h3M143 1195h3M144 1196h3M145 1197h2m41 0h1M146 1198h2m39 0h3M146 1199h3m38 0h2m37 0h2M149 1200h1m76 0h2M148 1201h3m7 0h2m66 0h2M148 1202h3m7 0h3M149 1203h2m7 0h2M150 1204h1M151 1205h2M151 1206h3M151 1207h3M159 1216h2M159 1217h2M161 1218h2M160 1219h3M160 1220h3M163 1224h3M164 1225h4M165 1226h3M168 1228h1M167 1229h3M168 1230h2M178 1243h2M178 1244h2M178 1245h2"/>
<path class="l" d="M103.91 1025.51H522.78V1253.15H103.91Z"/>
<path class="l" d="M140.8 1253.15H463M140.8 1253.15V1265.82M248.2 1253.15V1265.82M355.6 1253.15V1265.82M463 1253.15V1265.82M103.91 1038.34V1228.06M103.91 1038.34H91.24M103.91 1069.96H91.24M103.91 1101.58H91.24M103.91 1133.2H91.24M103.91 1164.82H91.24M103.91 1196.44H91.24M103.91 1228.06H91.24"/>
<text class="m" x="140.8" y="1298.46">0</text>
<text class="m" x="248.2" y="1298.46">5</text>
<text class="m" x="355.6" y="1298.46">10</text>
<text class="m" x="463" y="1298.46">15</text>
<text class="m" transform="translate(73.5 1038.34) rotate(-90)">6</text>
<text class="m" transform="translate(73.5 1069.96) rotate(-90)">4</text>
<text class="m" transform="translate(73.5 1101.58) rotate(-90)">2</text>
<text class="m" transform="translate(73.5 1164.82) rotate(-90)">-2</text>
<text class="m" transform="translate(73.5 1228.06) rotate(-90)">-6</text>
<text class="m t" x="313.34" y="982.11">Sample5</text>
<text class="m" x="313.34" y="1349.45">Average log CPM (this sample and others)</text>
<text class="m y" transform="translate(22.81 1139.33) rotate(-90)">log-ratio (this sample vs others)</text>
</g>
<g>
<path transform="translate(0 .5)" shape-rendering="crispEdges" stroke="#000" stroke-width="1" fill="none" d="M784 1033h3M784 1034h3M773 1035h2M773 1036h3M774 1037h1M765 1041h2M765 1042h3M766 1043h1M780 1050h2M780 1051h3M781 1052h1M778 1056h2M778 1057h3m14 0h2M779 1058h1m15 0h2m5 0h2M770 1059h3m4 0h4m21 0h3M770 1060h3m3 0h5m22 0h1m59 0h2M777 1061h1m31 0h2m1 0h3m5 0h1m1 0h2m39 0h2M751 1062h3m6 0h2m13 0h1m9 0h2m22 0h2m1 0h3m4 0h2m1 0h2M752 1063h3m5 0h2m12 0h3m8 0h2m19 0h2m1 0h2m8 0h2M753 1064h3m18 0h3m6 0h2m21 0h5m30 0h2M753 1065h2m28 0h2m24 0h1m5 0h1m25 0h2M795 1066h3m6 0h2m8 0h3M762 1067h2m31 0h3m6 0h3m8 0h2M761 1068h3m40 0h3m14 0h2M751 1069h2m6 0h1m12 0h2m38 0h2m7 0h2m3 0h2m17 0h1m31 0h1M751 1070h4m3 0h3m5 0h2m4 0h2m4 0h1m6 0h4m22 0h3m4 0h5m3 0h2m17 0h2m29 0h3M744 1071h1m8 0h2m4 0h1m5 0h3m6 0h6m5 0h4m7 0h2m13 0h2m5 0h3m19 0h2m3 0h2m29 0h2M744 1072h2m6 0h3m2 0h3m6 0h2m5 0h7m13 0h5m22 0h2m18 0h2M744 1073h2m2 0h2m3 0h1m3 0h3m12 0h7m13 0h4m7 0h2m14 0h3M742 1074h3m3 0h2m2 0h3m1 0h5m4 0h2m2 0h5m1 0h3m2 0h3m9 0h2m5 0h3m1 0h3m8 0h2m4 0h2m10 0h3M742 1075h3m6 0h11m2 0h9m2 0h4m1 0h3m5 0h2m6 0h1m2 0h4m2 0h2m7 0h2m16 0h3m9 0h3m3 0h1M744 1076h1m4 0h6m2 0h11m1 0h4m4 0h3m4 0h2m2 0h3m4 0h3m1 0h3m1 0h5m8 0h2m5 0h2m5 0h2m12 0h3m2 0h3M743 1077h9m4 0h3m2 0h12m4 0h5m2 0h2m3 0h1m5 0h2m2 0h3m1 0h2m1 0h1m8 0h3m5 0h3m4 0h3m10 0h3m4 0h2M740 1078h5m1 0h6m3 0h3m1 0h3m2 0h9m2 0h7m1 0h1m1 0h3m3 0h2m6 0h2m4 0h2m10 0h3m2 0h3m6 0h1m12 0h3m2 0h4M736 1079h2m2 0h6m1 0h19m2 0h5m2 0h4m2 0h7m2 0h4m3 0h4m4 0h4m7 0h9m20 0h3m2 0h3m3 0h2m11 0h2M736 1080h4m1 0h8m1 0h14m1 0h3m1 0h4m2 0h4m1 0h9m1 0h4m2 0h6m3 0h4m9 0h6m6 0h2m5 0h2m7 0h4m6 0h2m11 0h2M738 1081h3m2 0h12m1 0h13m2 0h1m3 0h14m3 0h2m3 0h7m1 0h2m1 0h1m5 0h2m1 0h1m3 0h2m7 0h2m5 0h2m4 0h2m2 0h3m20 0h1M739 1082h10m1 0h23m3 0h1m1 0h7m1 0h3m3 0h3m2 0h7m1 0h2m5 0h4m1 0h2m8 0h2m1 0h2m5 0h2m2 0h1m1 0h2M735 1083h2m2 0h21m1 0h12m1 0h6m3 0h2m3 0h8m1 0h7m1 0h2m4 0h3m3 0h2m8 0h3m8 0h5m11 0h2M735 1084h2m1 0h35m1 0h6m3 0h2m3 0h3m1 0h3m1 0h2m1 0h5m1 0h2m2 0h4m4 0h3m8 0h1m9 0h2m1 0h2m11 0h2m11 0h3M733 1085h2m1 0h49m1 0h6m1 0h14m1 0h5m4 0h3m1 0h2m18 0h3m11 0h2m8 0h1m1 0h3M731 1086h4m1 0h16m1 0h6m1 0h24m1 0h7m1 0h23m2 0h1m1 0h4m10 0h2m5 0h2m12 0h3m6 0h3M731 1087h3m1 0h1m1 0h41m1 0h23m1 0h13m1 0h2m2 0h3m3 0h2m5 0h2m1 0h2m3 0h2m12 0h1m8 0h1M731 1088h60m1 0h10m1 0h12m1 0h3m1 0h2m3 0h6m5 0h3m3 0h2m4 0h1m15 0h2M730 1089h51m1 0h16m1 0h20m1 0h4m1 0h5m6 0h4m2 0h2m1 0h5m14 0h2M730 1090h38m1 0h23m1 0h3m2 0h20m2 0h10m1 0h2m3 0h4m1 0h3m1 0h6m8 0h2m3 0h1m9 0h2m16 0h2M730 1091h62m1 0h3m2 0h27m2 0h6m2 0h5m2 0h1m1 0h2m2 0h3m5 0h6m12 0h2m16 0h2m72 0h1M730 1092h103m1 0h3m1 0h2m4 0h4m1 0h4m3 0h3m1 0h1m9 0h2m2 0h2m17 0h1m71 0h3M727 1093h6m1 0h54m1 0h42m3 0h2m2 0h1m1 0h3m1 0h4m1 0h4m17 0h2m9 0h2m2 0h2m79 0h1M727 1094h60m1 0h44m1 0h5m2 0h4m1 0h3m1 0h2m29 0h3m2 0h2m9 0h2M726 1095h2m2 0h57m1 0h32m1 0h18m1 0h4m2 0h3m7 0h2m22 0h1m15 0h3M726 1096h94m1 0h14m2 0h2m3 0h3m2 0h4m5 0h3m16 0h2m2 0h3m2 0h2M727 1097h109m1 0h4m1 0h9m5 0h3m2 0h2m12 0h2m3 0h2m2 0h2M725 1098h116m2 0h1m1 0h6m5 0h4m1 0h2m2 0h3m23 0h2m17 0h1M724 1099h117m3 0h2m1 0h4m7 0h5m2 0h3m6 0h2m9 0h3m3 0h2m16 0h3M723 1100h110m1 0h3m1 0h3m2 0h9m1 0h2m3 0h7m2 0h2m4 0h3m8 0h4m3 0h2m11 0h3m3 0h1m13 0h3M722 1101h114m1 0h20m2 0h10m4 0h3m9 0h1m18 0h3m17 0h3M722 1102h2m1 0h132m1 0h11m3 0h2m1 0h2m28 0h3m17 0h1M725 1103h122m1 0h16m5 0h5m1 0h2m3 0h2m7 0h4m2 0h2m3 0h2m3 0h5m2 0h2m2 0h3M726 1104h1m1 0h133m1 0h12m6 0h3m6 0h5m1 0h2m3 0h2m5 0h3m2 0h3m1 0h3M722 1105h1m6 0h122m1 0h7m3 0h11m1 0h3m3 0h2m5 0h4m1 0h1m2 0h1m25 0h1m161 0h1M721 1106h3m1 0h2m1 0h132m2 0h11m1 0h3m10 0h5m1 0h2m13 0h3m3 0h2m4 0h3m57 0h2m100 0h3M722 1107h2m1 0h139m1 0h7m2 0h3m8 0h2m2 0h6m1 0h2m10 0h5m1 0h2m5 0h1m58 0h2m100 0h2M722 1108h113m1 0h34m4 0h3m8 0h3m3 0h4m1 0h2m13 0h2m1 0h2m64 0h2M723 1109h2m1 0h152m4 0h1m2 0h2m3 0h4m1 0h2m1 0h2m2 0h1m2 0h2M727 1110h122m2 0h29m2 0h2m1 0h3m1 0h5m1 0h12m19 0h3M725 1111h148m1 0h6m2 0h9m4 0h2m1 0h11m17 0h3M722 1112h2m1 0h134m1 0h13m1 0h6m1 0h10m1 0h4m3 0h4m1 0h5m1 0h3M722 1113h158m2 0h1m1 0h15m1 0h3m1 0h4m2 0h3m5 0h2M722 1114h3m1 0h167m1 0h8m2 0h3m2 0h5m2 0h4m2 0h2M723 1115h6m1 0h176m2 0h5m3 0h10m26 0h1M720 1116h3m1 0h176m1 0h5m3 0h5m2 0h11m24 0h3M720 1117h3m1 0h3m1 0h159m1 0h8m1 0h2m1 0h5m3 0h5m3 0h6m2 0h3m10 0h1m14 0h1M721 1118h3m1 0h162m1 0h17m3 0h6m2 0h8m8 0h2m2 0h3M721 1119h3m1 0h3m1 0h176m2 0h8m1 0h9m2 0h1m3 0h3m2 0h4m49 0h1M719 1120h1m2 0h3m1 0h177m2 0h5m1 0h10m1 0h7m3 0h1m3 0h6m46 0h3M718 1121h3m2 0h3m1 0h176m1 0h4m3 0h6m2 0h2m1 0h2m1 0h3m8 0h6m2 0h2m4 0h2m36 0h2M719 1122h3m1 0h3m1 0h3m1 0h176m5 0h9m1 0h2m1 0h2m8 0h3m6 0h2m4 0h3M719 1123h3m2 0h3m1 0h178m1 0h4m3 0h7m13 0h3m6 0h3m5 0h3m19 0h3M720 1124h3m1 0h3m1 0h3m1 0h181m1 0h5m3 0h2m5 0h2m3 0h3m7 0h1m6 0h2m20 0h3M720 1125h3m2 0h3m1 0h3m1 0h168m2 0h10m3 0h4m2 0h3m1 0h2m1 0h2m2 0h2m15 0h3M721 1126h3m2 0h3m1 0h183m2 0h7m1 0h1m2 0h2m5 0h2m2 0h2m2 0h2m7 0h3M717 1127h2m3 0h3m1 0h3m1 0h3m1 0h173m2 0h4m1 0h9m1 0h3m5 0h4m1 0h2m1 0h3m7 0h3M717 1128h3m2 0h3m2 0h3m1 0h6m1 0h159m1 0h2m1 0h22m1 0h3m5 0h5m1 0h1m2 0h1m3 0h2m4 0h1M717 1129h3m3 0h3m1 0h3m1 0h3m1 0h170m2 0h3m1 0h1m1 0h5m1 0h5m3 0h3m2 0h2m1 0h3m7 0h2M718 1130h3m2 0h3m2 0h3m1 0h3m1 0h164m1 0h7m11 0h2m1 0h10m4 0h3m6 0h2M719 1131h3m2 0h3m2 0h3m1 0h167m2 0h6m1 0h5m1 0h3m1 0h2m2 0h5m2 0h2m5 0h3M714 1132h2m3 0h3m3 0h3m1 0h3m1 0h3m1 0h171m1 0h5m1 0h7m2 0h3m1 0h4m2 0h5m1 0h2M713 1133h3m4 0h3m2 0h3m2 0h3m1 0h6m1 0h161m1 0h11m2 0h6m2 0h3m1 0h4m2 0h5m1 0h3m5 0h2m16 0h3M714 1134h3m3 0h4m2 0h3m1 0h3m1 0h3m1 0h77m1 0h85m2 0h10m4 0h7m1 0h1m2 0h4m2 0h2m5 0h1m6 0h3m15 0h3M715 1135h3m3 0h3m2 0h4m1 0h3m1 0h3m1 0h151m1 0h9m1 0h10m5 0h9m2 0h4m4 0h1M715 1136h3m4 0h3m2 0h3m2 0h3m1 0h177m3 0h2m2 0h5m3 0h3m3 0h3m14 0h1M716 1137h3m3 0h3m3 0h3m1 0h3m1 0h3m1 0h169m1 0h3m3 0h8m5 0h3m1 0h4m13 0h3m29 0h3M716 1138h3m4 0h3m2 0h3m2 0h3m1 0h6m1 0h163m10 0h4m1 0h1m6 0h7m12 0h4m30 0h3M710 1139h2m5 0h3m3 0h4m2 0h3m1 0h164m1 0h12m1 0h3m2 0h1m1 0h2m6 0h2m2 0h8m1 0h1m8 0h2M709 1140h3m6 0h3m3 0h3m3 0h3m1 0h3m1 0h3m1 0h143m1 0h15m2 0h11m2 0h5m5 0h2m2 0h4m1 0h6m23 0h2M710 1141h3m5 0h3m4 0h3m2 0h3m2 0h3m1 0h146m2 0h8m1 0h9m2 0h7m2 0h6m3 0h2m2 0h5m2 0h4m24 0h2M710 1142h3m6 0h3m3 0h3m3 0h3m1 0h3m1 0h3m1 0h111m1 0h30m1 0h29m2 0h6m2 0h2m2 0h5m1 0h3m3 0h2m25 0h2M711 1143h3m5 0h3m4 0h3m2 0h3m2 0h3m1 0h6m1 0h99m1 0h32m1 0h6m1 0h29m1 0h3m1 0h1m14 0h2m3 0h2m24 0h3M712 1144h3m5 0h3m4 0h3m2 0h3m2 0h133m1 0h8m1 0h29m2 0h2m1 0h2m1 0h2m10 0h3m3 0h2m31 0h1M712 1145h3m6 0h3m3 0h3m3 0h3m1 0h3m1 0h3m1 0h164m2 0h9m4 0h8m3 0h3M713 1146h3m5 0h3m4 0h3m2 0h3m2 0h3m1 0h55m1 0h66m1 0h24m2 0h9m1 0h2m1 0h9m2 0h4m5 0h5m3 0h2m2 0h3M713 1147h3m6 0h3m3 0h3m3 0h3m1 0h3m1 0h3m1 0h144m1 0h10m1 0h1m1 0h8m3 0h2m7 0h3m4 0h3m2 0h2M714 1148h3m5 0h3m4 0h3m2 0h3m2 0h3m1 0h6m1 0h115m1 0h25m2 0h8m1 0h7m1 0h1m4 0h5m5 0h3m2 0h4M704 1149h2m9 0h3m5 0h3m4 0h3m2 0h3m2 0h2m2 0h115m1 0h19m1 0h9m1 0h8m1 0h13m3 0h1m1 0h3m2 0h2m6 0h3M704 1150h2m9 0h3m6 0h3m3 0h3m3 0h3m1 0h3m1 0h3m1 0h114m1 0h18m3 0h21m2 0h5m1 0h7m2 0h2m6 0h3M704 1151h3m9 0h3m5 0h3m4 0h3m2 0h3m2 0h3m1 0h73m1 0h57m1 0h2m1 0h3m1 0h10m1 0h2m1 0h7m1 0h3m4 0h4m5 0h2M705 1152h3m8 0h3m6 0h3m3 0h3m3 0h3m1 0h3m1 0h3m1 0h102m1 0h52m3 0h1m5 0h2m1 0h2M705 1153h3m9 0h3m5 0h3m4 0h3m2 0h3m2 0h3m1 0h6m1 0h40m2 0h89m2 0h2m2 0h12m5 0h2m7 0h2m93 0h2M706 1154h3m9 0h3m5 0h3m4 0h3m2 0h3m2 0h3m1 0h52m1 0h69m1 0h12m1 0h1m2 0h2m2 0h9m1 0h9m11 0h2m89 0h3M707 1155h3m8 0h3m6 0h3m3 0h3m3 0h3m1 0h3m1 0h3m1 0h76m1 0h41m1 0h9m1 0h2m4 0h2m3 0h2m9 0h4m1 0h1m8 0h2m1 0h3m11 0h2m77 0h1M707 1156h3m9 0h3m5 0h3m4 0h3m2 0h3m2 0h3m1 0h6m1 0h18m1 0h79m2 0h3m1 0h14m4 0h2m12 0h2m23 0h6m5 0h2m2 0h4m42 0h1M708 1157h3m8 0h3m6 0h3m3 0h3m3 0h3m2 0h2m1 0h3m1 0h3m1 0h2m1 0h17m1 0h44m1 0h28m1 0h7m3 0h7m1 0h2m3 0h6m11 0h2m15 0h5m4 0h1m1 0h2m6 0h3m1 0h4m25 0h2m14 0h3M708 1158h3m9 0h3m5 0h3m4 0h3m2 0h3m2 0h3m1 0h6m1 0h20m1 0h16m1 0h5m1 0h22m1 0h9m1 0h24m5 0h3m1 0h3m5 0h7m14 0h1m11 0h6m15 0h1m31 0h3m14 0h1M709 1159h3m9 0h3m5 0h3m4 0h3m2 0h3m2 0h3m1 0h25m2 0h7m2 0h36m1 0h22m1 0h7m1 0h2m5 0h4m1 0h2m1 0h1m6 0h5m13 0h3m11 0h1m52 0h1M710 1160h3m8 0h3m6 0h3m3 0h3m3 0h3m1 0h3m1 0h3m1 0h14m4 0h21m2 0h21m1 0h11m1 0h18m2 0h1m1 0h1m2 0h4m1 0h6m1 0h5m5 0h2m3 0h4m10 0h1m18 0h2m40 0h1M710 1161h3m9 0h3m5 0h3m4 0h3m2 0h3m2 0h3m1 0h25m1 0h56m2 0h13m4 0h3m1 0h7m5 0h3m10 0h4m28 0h3m39 0h3M711 1162h3m8 0h3m6 0h3m3 0h3m3 0h3m1 0h3m1 0h3m1 0h52m1 0h22m6 0h2m2 0h3m2 0h3m4 0h4m1 0h2m2 0h2m10 0h3m11 0h2m15 0h2m8 0h1m41 0h1M711 1163h3m9 0h3m6 0h2m4 0h3m2 0h2m3 0h3m1 0h3m1 0h5m1 0h5m2 0h17m1 0h15m3 0h2m1 0h3m4 0h8m4 0h3m2 0h3m3 0h4m4 0h2m4 0h1m1 0h2m1 0h2m2 0h2m10 0h3m11 0h2m10 0h2m3 0h2M694 1164h2m16 0h3m9 0h3m5 0h3m4 0h3m3 0h2m2 0h3m1 0h2m1 0h3m6 0h1m3 0h7m1 0h16m3 0h6m2 0h2m2 0h6m1 0h5m1 0h3m1 0h4m1 0h5m3 0h2m6 0h3m3 0h2m14 0h1m9 0h2m7 0h2m10 0h3m3 0h1M694 1165h3m16 0h3m8 0h3m6 0h3m3 0h3m3 0h2m2 0h3m2 0h2m4 0h6m1 0h4m1 0h1m1 0h2m3 0h2m1 0h7m1 0h3m1 0h5m1 0h6m3 0h1m1 0h3m1 0h2m4 0h7m2 0h2m3 0h3m9 0h1m4 0h2m13 0h3m8 0h2m20 0h1m3 0h3M694 1166h3m16 0h3m9 0h3m5 0h3m4 0h3m2 0h2m3 0h3m1 0h3m3 0h11m4 0h3m2 0h1m2 0h3m1 0h3m3 0h4m4 0h5m5 0h10m1 0h5m8 0h3m2 0h2m6 0h2m18 0h1m9 0h2m25 0h1M695 1167h3m16 0h3m8 0h4m5 0h3m3 0h3m3 0h3m1 0h3m1 0h3m4 0h11m3 0h3m1 0h3m2 0h1m3 0h2m2 0h3m6 0h3m2 0h1m1 0h6m2 0h5m2 0h3m9 0h2m3 0h2m5 0h3m15 0h2M695 1168h3m16 0h3m9 0h3m5 0h4m8 0h3m6 0h3m4 0h11m3 0h2m1 0h3m6 0h2m1 0h3m7 0h2m2 0h6m13 0h2m22 0h1m16 0h2m8 0h3m10 0h2M696 1169h3m16 0h3m9 0h3m5 0h3m9 0h3m6 0h3m1 0h5m1 0h6m5 0h1m10 0h2m1 0h3m3 0h2m1 0h2m1 0h4m1 0h3m55 0h1m8 0h2m11 0h3M697 1170h3m16 0h3m8 0h3m6 0h3m9 0h3m5 0h3m1 0h8m18 0h5m1 0h2m3 0h2m1 0h5m4 0h1m10 0h3m66 0h1M697 1171h3m16 0h3m9 0h3m5 0h3m5 0h2m2 0h2m7 0h6m1 0h2m13 0h2m5 0h2m1 0h1m10 0h4m14 0h5m3 0h2M698 1172h3m16 0h3m9 0h3m5 0h3m4 0h2m11 0h3m3 0h1m1 0h2m11 0h3m17 0h2m17 0h4m5 0h2m2 0h2M698 1173h3m16 0h4m8 0h3m6 0h2m4 0h3m15 0h2m1 0h3m3 0h2m6 0h1m5 0h2m2 0h1m8 0h2m18 0h3m6 0h1m2 0h2M699 1174h3m16 0h3m9 0h3m5 0h2m5 0h2m12 0h5m1 0h3m3 0h3m2 0h2m7 0h2m1 0h3m2 0h5m32 0h2M700 1175h2m17 0h3m8 0h3m26 0h3m4 0h3m3 0h1m3 0h2m1 0h2m7 0h2m3 0h6m45 0h2M700 1176h3m16 0h3m9 0h2m27 0h1m6 0h2m10 0h2m12 0h2m1 0h3m40 0h3m2 0h2M701 1177h3m16 0h3m34 0h2m8 0h2m10 0h1m45 0h2m1 0h3m8 0h3m3 0h3M701 1178h4m16 0h3m33 0h2m3 0h2m14 0h3m44 0h6m14 0h3M702 1179h3m16 0h3m9 0h3m26 0h2m8 0h2m4 0h3M703 1180h3m16 0h3m8 0h3m26 0h2m8 0h2m2 0h1m10 0h3M703 1181h3m16 0h3m30 0h2m18 0h5m7 0h3M704 1182h3m16 0h3m29 0h3m18 0h1m1 0h3M705 1183h3m16 0h3m29 0h1m4 0h2m16 0h1m16 0h3M705 1184h3m16 0h3m34 0h2m33 0h3M706 1185h3m16 0h3m33 0h3m15 0h1M706 1186h3m16 0h3m30 0h2m2 0h3m13 0h3m8 0h1M707 1187h3m17 0h2m29 0h3m2 0h1m15 0h1m8 0h3M708 1188h3m16 0h3m59 0h2M708 1189h3m16 0h3m46 0h2M709 1190h3m16 0h1m47 0h2M709 1191h3M710 1192h3m61 0h2M711 1193h3m43 0h2m11 0h3m1 0h2M711 1194h3m43 0h2m11 0h3m1 0h2M712 1195h3M712 1196h3m29 0h2M713 1197h3m28 0h2M714 1198h2m29 0h1M714 1199h3m18 0h2M715 1200h3m17 0h2M716 1201h2m17 0h2M716 1202h3M717 1203h3M717 1204h3m85 0h1M718 1205h3m83 0h3M718 1206h3m83 0h2M719 1207h3m30 0h1M720 1208h3m28 0h3M720 1209h3m28 0h2M721 1210h1M722 1211h2m18 0h2m70 0h2M722 1212h3m17 0h3m69 0h3M723 1213h3m17 0h1m71 0h1M723 1214h3M724 1215h2M727 1218h2M727 1219h3M727 1220h3M728 1221h2M728 1222h2M850 1243h2M850 1244h3M851 1245h1"/>
<path class="l" d="M679.91 1025.51H1098.78V1253.15H679.91Z"/>
<path class="l" d="M716.6 1253.15H1032.95M716.6 1253.15V1265.82M822.05 1253.15V1265.82M927.5 1253.15V1265.82M1032.95 1253.15V1265.82M679.91 1033.87V1243.03M679.91 1033.87H667.24M679.91 1068.73H667.24M679.91 1103.59H667.24M679.91 1138.45H667.24M679.91 1173.31H667.24M679.91 1208.17H667.24M679.91 1243.03H667.24"/>
<text class="m" x="716.6" y="1298.46">0</text>
<text class="m" x="822.05" y="1298.46">5</text>
<text class="m" x="927.5" y="1298.46">10</text>
<text class="m" x="1032.95" y="1298.46">15</text>
<text class="m" transform="translate(649.5 1033.87) rotate(-90)">6</text>
<text class="m" transform="translate(649.5 1068.73) rotate(-90)">4</text>
<text class="m" transform="translate(649.5 1103.59) rotate(-90)">2</text>
<text class="m" transform="translate(649.5 1138.45) rotate(-90)">0</text>
<text class="m" transform="translate(649.5 1173.31) rotate(-90)">-2</text>
<text class="m" transform="translate(649.5 1243.03) rotate(-90)">-6</text>
<text class="m t" x="889.34" y="982.11">Sample6</text>
<text class="m" x="889.34" y="1349.45">Average log CPM (this sample and others)</text>
<text class="m y" transform="translate(598.81 1139.33) rotate(-90)">log-ratio (this sample vs others)</text>
</g>
<g>
<path transform="translate(0 .5)" shape-rendering="crispEdges" stroke="#000" stroke-width="1" fill="none" d="M247 1493h1M246 1494h3M247 1495h1M233 1497h2M233 1498h2M233 1499h2M307 1505h2M202 1506h1m104 0h2M201 1507h3m104 0h1M201 1508h3m74 0h2M278 1509h2M279 1510h1M235 1511h1m6 0h1M234 1512h3m4 0h3M235 1513h1m5 0h2M212 1516h2M206 1517h2m4 0h2M199 1518h2m5 0h2m1 0h1m39 0h2M199 1519h2m7 0h3m38 0h3M200 1520h1m7 0h3m39 0h1M208 1521h2m79 0h3M190 1522h1m34 0h2m62 0h3M189 1523h3m15 0h2m16 0h3M190 1524h2m6 0h2m7 0h2m12 0h2m2 0h3M198 1525h2m7 0h2m3 0h2m7 0h2m1 0h2M198 1526h1m4 0h5m3 0h3m1 0h2m6 0h3m17 0h2m38 0h3M186 1527h2m15 0h5m4 0h1m2 0h3m6 0h1m18 0h3m2 0h2m33 0h2M186 1528h2m18 0h3m7 0h3m25 0h1m3 0h2M186 1529h3m9 0h1m8 0h3m2 0h2m3 0h3m14 0h2m12 0h2m3 0h3M185 1530h3m9 0h3m1 0h3m3 0h2m3 0h2m4 0h3m12 0h5m10 0h3m2 0h3M185 1531h3m2 0h1m7 0h2m1 0h3m8 0h2m4 0h2m14 0h3m12 0h1m14 0h2M186 1532h1m2 0h3m14 0h2m4 0h2m21 0h2m14 0h1m12 0h2m13 0h1M180 1533h2m7 0h3m2 0h1m1 0h5m5 0h2m12 0h2m13 0h2m14 0h2m11 0h2m12 0h3M180 1534h2m3 0h2m1 0h3m2 0h9m4 0h2m12 0h2m29 0h2m26 0h1m49 0h1M185 1535h7m1 0h4m1 0h6m2 0h2m2 0h3m4 0h1m3 0h2m11 0h3m4 0h2m35 0h2m48 0h3M181 1536h2m2 0h8m2 0h1m6 0h2m2 0h3m1 0h3m3 0h4m1 0h2m5 0h2m4 0h4m3 0h2m2 0h1m10 0h2m11 0h1m8 0h2m48 0h2M181 1537h2m2 0h5m1 0h1m2 0h2m6 0h2m3 0h2m1 0h4m3 0h3m1 0h2m5 0h2m6 0h1m2 0h2m3 0h3m9 0h2m10 0h3m15 0h2M178 1538h2m6 0h4m1 0h6m4 0h3m3 0h7m3 0h2m3 0h3m3 0h3m8 0h2m3 0h2m10 0h2m11 0h2m15 0h2M178 1539h3m6 0h10m4 0h3m3 0h14m1 0h2m1 0h6m7 0h2m1 0h3m1 0h2m1 0h1m10 0h2m3 0h2m3 0h2m7 0h2m8 0h2M175 1540h1m3 0h4m3 0h3m1 0h7m4 0h3m4 0h13m4 0h4m2 0h4m2 0h3m1 0h3m1 0h5m9 0h3m2 0h2m3 0h2m7 0h3m7 0h2M174 1541h3m2 0h5m3 0h3m2 0h5m1 0h4m4 0h1m2 0h5m5 0h2m1 0h2m1 0h4m1 0h5m3 0h6m1 0h5m9 0h2m2 0h3m13 0h2M174 1542h7m1 0h2m4 0h2m2 0h4m2 0h15m9 0h8m1 0h1m1 0h2m3 0h2m1 0h3m9 0h2m2 0h4m2 0h3m14 0h1m4 0h2m9 0h1m3 0h3M178 1543h7m1 0h1m1 0h2m1 0h5m1 0h16m4 0h4m2 0h7m2 0h5m1 0h2m13 0h3m1 0h4m3 0h4m16 0h3m1 0h2m5 0h3m2 0h3m11 0h3M177 1544h18m1 0h4m1 0h4m1 0h3m1 0h3m3 0h5m1 0h4m1 0h1m4 0h5m1 0h2m11 0h1m1 0h6m1 0h1m5 0h2m16 0h2m2 0h2m5 0h3m16 0h3M172 1545h2m3 0h14m1 0h4m1 0h1m1 0h5m1 0h3m4 0h2m2 0h4m1 0h18m2 0h3m5 0h5m1 0h3m1 0h3m3 0h3m16 0h2m29 0h2M172 1546h3m2 0h27m1 0h4m3 0h17m1 0h10m1 0h5m1 0h10m2 0h3m2 0h3m2 0h2m2 0h3M169 1547h2m2 0h3m1 0h10m1 0h16m1 0h4m2 0h10m2 0h4m4 0h10m1 0h1m1 0h2m1 0h4m1 0h5m2 0h4m4 0h4m1 0h4M169 1548h2m2 0h12m3 0h20m1 0h24m1 0h7m1 0h4m2 0h3m1 0h5m4 0h2m4 0h2m2 0h4m7 0h1m6 0h1m12 0h2M167 1549h1m1 0h36m1 0h10m3 0h26m3 0h2m2 0h5m1 0h4m1 0h2m2 0h3m1 0h4m5 0h4m3 0h4m11 0h2M166 1550h11m1 0h3m3 0h18m1 0h35m1 0h7m1 0h9m2 0h4m1 0h3m1 0h4m1 0h3m5 0h4m2 0h4m10 0h1M167 1551h6m1 0h10m1 0h61m1 0h10m1 0h5m1 0h10m3 0h2m7 0h2m11 0h3M169 1552h1m1 0h13m2 0h2m2 0h8m1 0h39m1 0h3m2 0h8m1 0h9m2 0h5m1 0h1m1 0h2m3 0h6m3 0h2m2 0h3m4 0h2m1 0h3m40 0h1m6 0h2M167 1553h10m2 0h6m1 0h16m1 0h11m1 0h27m1 0h9m3 0h7m2 0h2m1 0h7m2 0h2m1 0h5m1 0h2m3 0h2m5 0h2m2 0h3m38 0h4m4 0h2M166 1554h11m2 0h55m1 0h4m1 0h2m2 0h30m2 0h2m4 0h5m13 0h3m17 0h1m22 0h4m3 0h2M164 1555h2m1 0h10m2 0h18m2 0h69m1 0h1m3 0h5m3 0h1m1 0h3m11 0h5m9 0h2m6 0h3m3 0h3m20 0h2M161 1556h8m1 0h7m2 0h4m1 0h77m1 0h2m1 0h18m2 0h3m8 0h4m4 0h2m1 0h1m3 0h2m1 0h2m4 0h1m4 0h2m21 0h4M161 1557h14m1 0h85m1 0h21m2 0h3m2 0h3m4 0h5m2 0h5m3 0h4m2 0h6m5 0h2m19 0h2M161 1558h2m1 0h12m1 0h97m4 0h4m8 0h2m7 0h3m5 0h2m5 0h2m2 0h6m5 0h2m19 0h2m7 0h2M160 1559h3m1 0h2m4 0h6m3 0h94m1 0h8m1 0h2m3 0h2m1 0h3m10 0h2m14 0h2m7 0h2m28 0h2M158 1560h8m3 0h8m1 0h81m1 0h20m2 0h3m2 0h3m1 0h3m1 0h1m7 0h5m3 0h1m47 0h1M157 1561h10m2 0h8m2 0h102m1 0h11m1 0h4m2 0h1m3 0h1m1 0h3m1 0h3M157 1562h9m1 0h12m2 0h105m1 0h7m1 0h7m4 0h2m3 0h1m25 0h1M156 1563h10m2 0h11m1 0h2m1 0h92m2 0h9m1 0h8m1 0h5m2 0h5m4 0h4m8 0h3m7 0h6m22 0h2M156 1564h22m2 0h95m1 0h8m1 0h6m1 0h3m1 0h13m3 0h4m9 0h2m7 0h2m1 0h4m20 0h3M155 1565h17m1 0h5m1 0h96m1 0h8m1 0h13m2 0h9m3 0h5m4 0h3m15 0h3m20 0h1M155 1566h18m1 0h8m1 0h115m1 0h8m5 0h5m4 0h3m15 0h3M156 1567h12m1 0h5m1 0h28m1 0h82m1 0h10m2 0h18m5 0h2m3 0h2m10 0h2m23 0h2M156 1568h12m1 0h17m3 0h9m1 0h94m2 0h17m2 0h3m9 0h3m16 0h2m17 0h2m28 0h3M151 1569h2m3 0h15m1 0h116m1 0h23m2 0h2m7 0h5m10 0h1m4 0h4m17 0h2m28 0h3M151 1570h3m1 0h16m4 0h3m1 0h105m1 0h3m1 0h39m1 0h4m3 0h4m1 0h1m1 0h5m16 0h3M152 1571h2m1 0h15m4 0h136m1 0h15m1 0h16m3 0h2m14 0h2m1 0h1M149 1572h2m2 0h18m2 0h102m2 0h44m1 0h7m3 0h3m1 0h1m2 0h4m1 0h2m16 0h2m8 0h2M149 1573h3m1 0h3m1 0h15m1 0h151m3 0h2m2 0h5m8 0h2m4 0h2m7 0h3m10 0h2M150 1574h2m2 0h3m1 0h15m2 0h6m1 0h118m1 0h24m6 0h2m1 0h4m6 0h4m2 0h2m2 0h2m3 0h3m10 0h2M147 1575h2m2 0h3m1 0h3m1 0h150m1 0h15m8 0h6m6 0h3m2 0h2m1 0h3M147 1576h2m2 0h4m1 0h28m1 0h120m1 0h12m1 0h2m5 0h3m3 0h6m3 0h2m3 0h2m4 0h3m9 0h1m12 0h2M148 1577h2m2 0h3m1 0h7m1 0h14m2 0h13m2 0h128m3 0h3m3 0h8m1 0h3m2 0h2m1 0h3m1 0h1m9 0h4m1 0h1m8 0h2M148 1578h3m2 0h3m1 0h3m1 0h27m2 0h127m1 0h21m2 0h7m1 0h3m10 0h1m1 0h5m8 0h2m2 0h2M149 1579h3m2 0h3m1 0h3m1 0h26m1 0h4m1 0h123m1 0h21m4 0h1m1 0h3m1 0h4m8 0h4m2 0h2m12 0h2m9 0h1M150 1580h3m1 0h4m1 0h3m1 0h15m1 0h160m5 0h3m1 0h5m3 0h2m4 0h4m4 0h2m16 0h1m2 0h3M150 1581h4m1 0h4m1 0h171m1 0h9m1 0h1m1 0h4m1 0h4m2 0h3m4 0h7m1 0h3m5 0h2m7 0h3m1 0h3M147 1582h2m2 0h3m2 0h3m1 0h7m1 0h28m1 0h147m1 0h8m2 0h14m8 0h3m7 0h2M146 1583h3m3 0h3m2 0h3m1 0h3m1 0h25m1 0h6m3 0h121m1 0h16m1 0h4m3 0h2m1 0h3m3 0h10m4 0h1m7 0h4M141 1584h1m5 0h3m3 0h3m2 0h3m1 0h3m1 0h15m1 0h156m1 0h5m6 0h3m2 0h2m2 0h6m3 0h3m4 0h3m1 0h3m28 0h2M140 1585h3m5 0h3m2 0h4m1 0h4m1 0h18m1 0h23m1 0h132m2 0h3m6 0h4m2 0h2m2 0h3m1 0h1m4 0h4m3 0h3m2 0h1m4 0h1m24 0h2M141 1586h1m6 0h4m2 0h4m1 0h4m1 0h32m1 0h146m3 0h1m1 0h5m1 0h8m4 0h1m1 0h4m4 0h3m5 0h3M149 1587h3m3 0h3m2 0h3m1 0h4m1 0h2m1 0h13m2 0h10m1 0h139m2 0h5m1 0h7m2 0h8m3 0h7m4 0h3m5 0h2M150 1588h3m3 0h3m2 0h3m1 0h3m1 0h170m1 0h4m2 0h1m1 0h6m1 0h1m2 0h4m1 0h9m4 0h2m43 0h2M146 1589h1m4 0h3m3 0h3m2 0h3m1 0h3m1 0h185m1 0h2m2 0h1m2 0h6m1 0h2m4 0h2m3 0h2m38 0h3M145 1590h2m5 0h3m2 0h4m1 0h4m1 0h3m1 0h15m3 0h143m1 0h9m1 0h12m1 0h2m5 0h2m1 0h3m3 0h2m7 0h2m39 0h1M145 1591h4m3 0h4m2 0h4m1 0h3m1 0h146m1 0h19m1 0h15m1 0h5m1 0h1m1 0h5m2 0h2m4 0h3m7 0h2m3 0h2m16 0h1m18 0h2M138 1592h2m6 0h3m4 0h3m3 0h3m2 0h3m1 0h33m1 0h148m5 0h8m1 0h3m2 0h5m12 0h2m15 0h3m4 0h2m11 0h2M138 1593h3m6 0h3m4 0h3m3 0h3m2 0h3m1 0h3m1 0h23m1 0h144m1 0h8m2 0h3m1 0h2m2 0h2m3 0h7m31 0h3m3 0h3m11 0h2M138 1594h4m6 0h3m4 0h3m3 0h3m2 0h3m1 0h3m1 0h167m1 0h2m3 0h8m1 0h7m3 0h6m7 0h3m2 0h1m25 0h1m48 0h2M139 1595h3m6 0h4m4 0h3m2 0h4m1 0h4m1 0h171m4 0h9m1 0h15m8 0h2m2 0h3m73 0h3M140 1596h3m6 0h3m4 0h4m2 0h4m1 0h3m1 0h14m1 0h19m1 0h128m1 0h8m2 0h5m1 0h3m4 0h3m2 0h3m1 0h2m15 0h1m75 0h1M141 1597h3m6 0h3m4 0h3m3 0h3m2 0h3m1 0h3m1 0h167m2 0h5m1 0h2m5 0h2m3 0h6m3 0h1M141 1598h4m6 0h3m4 0h3m3 0h3m2 0h3m1 0h3m1 0h23m1 0h139m1 0h8m14 0h6m2 0h5M142 1599h4m6 0h3m4 0h3m3 0h3m2 0h3m1 0h3m1 0h162m1 0h4m1 0h6m1 0h2m3 0h1m2 0h6m4 0h5m28 0h2m101 0h1M143 1600h3m6 0h4m4 0h3m2 0h4m1 0h4m1 0h18m2 0h142m1 0h2m3 0h1m2 0h14m1 0h3m3 0h2m3 0h4m28 0h2m100 0h3M144 1601h3m6 0h3m4 0h4m2 0h3m2 0h3m1 0h7m1 0h154m1 0h2m2 0h1m3 0h4m3 0h4m1 0h2m1 0h3m2 0h3m35 0h2m100 0h2M133 1602h2m10 0h3m6 0h3m4 0h3m3 0h3m2 0h3m1 0h3m1 0h156m2 0h2m1 0h4m1 0h2m11 0h2m5 0h3m12 0h2m15 0h2M133 1603h3m10 0h3m6 0h3m4 0h3m3 0h3m2 0h3m1 0h3m1 0h114m1 0h5m1 0h27m1 0h3m1 0h7m1 0h4m1 0h1m1 0h2m1 0h2m3 0h4m20 0h2m15 0h2M133 1604h3m10 0h4m6 0h3m4 0h3m3 0h3m1 0h4m1 0h3m1 0h142m2 0h1m2 0h3m1 0h7m2 0h3m2 0h14m21 0h1m15 0h1M134 1605h3m10 0h3m6 0h4m3 0h4m2 0h4m1 0h4m1 0h23m1 0h120m7 0h5m1 0h5m2 0h2m2 0h4m1 0h1m1 0h5M135 1606h3m10 0h3m6 0h3m4 0h4m2 0h3m2 0h3m1 0h139m2 0h1m4 0h2m5 0h11M135 1607h4m10 0h3m6 0h3m4 0h3m3 0h3m2 0h3m1 0h3m1 0h19m1 0h13m2 0h99m7 0h4m5 0h10m1 0h2M136 1608h3m10 0h4m6 0h3m4 0h3m3 0h3m2 0h3m1 0h3m1 0h109m1 0h5m1 0h6m1 0h7m10 0h5m3 0h3m4 0h1m1 0h2m1 0h2M137 1609h3m10 0h3m7 0h3m4 0h3m2 0h4m1 0h4m1 0h109m1 0h2m2 0h4m1 0h3m5 0h2m1 0h3m1 0h1m2 0h2m5 0h3m4 0h2M138 1610h3m10 0h3m6 0h4m3 0h4m2 0h4m1 0h4m1 0h6m1 0h100m1 0h3m2 0h7m3 0h5m4 0h3m1 0h3m4 0h2m15 0h1M139 1611h3m10 0h3m6 0h3m4 0h4m2 0h3m2 0h3m1 0h107m1 0h2m2 0h4m1 0h3m3 0h4m5 0h2m2 0h2m19 0h5M118 1612h2m20 0h3m10 0h3m6 0h3m4 0h3m3 0h3m2 0h3m1 0h3m1 0h17m1 0h66m1 0h1m1 0h10m1 0h5m2 0h5m2 0h2m4 0h3m17 0h1m13 0h5M118 1613h3m19 0h3m10 0h4m6 0h3m4 0h3m3 0h3m2 0h3m1 0h3m1 0h12m2 0h71m1 0h10m1 0h5m1 0h5m3 0h2m12 0h2m3 0h2m4 0h3m13 0h1M118 1614h4m19 0h3m10 0h3m6 0h4m4 0h3m2 0h4m1 0h4m1 0h15m1 0h72m1 0h6m1 0h14m4 0h3m11 0h2m3 0h2m4 0h2m13 0h3M119 1615h3m20 0h3m10 0h3m6 0h4m3 0h4m2 0h4m1 0h3m1 0h7m1 0h6m2 0h87m2 0h5m4 0h2m39 0h1M120 1616h3m20 0h3m10 0h3m6 0h3m4 0h3m3 0h3m2 0h3m1 0h4m1 0h2m1 0h73m2 0h15m1 0h3m3 0h3M121 1617h3m19 0h4m10 0h3m6 0h3m4 0h3m3 0h3m2 0h3m1 0h3m1 0h93m1 0h4m2 0h3M122 1618h3m19 0h3m10 0h4m6 0h3m4 0h3m3 0h3m2 0h3m1 0h3m1 0h89m1 0h1m3 0h3m2 0h3M122 1619h4m19 0h3m10 0h3m6 0h4m4 0h3m2 0h4m1 0h4m1 0h6m1 0h75m2 0h8m2 0h1m3 0h2m3 0h2M123 1620h3m20 0h3m10 0h3m6 0h3m5 0h2m3 0h3m2 0h3m1 0h67m1 0h15m2 0h7m1 0h3m122 0h1M124 1621h3m20 0h3m10 0h3m6 0h3m4 0h3m3 0h3m2 0h3m1 0h3m1 0h23m1 0h44m6 0h1m1 0h2m10 0h2m122 0h3M125 1622h3m19 0h4m9 0h4m6 0h3m4 0h3m3 0h3m2 0h3m1 0h3m1 0h12m2 0h16m1 0h3m1 0h25m1 0h3m9 0h7m2 0h3m2 0h2m39 0h2m81 0h2M126 1623h3m19 0h3m10 0h4m6 0h3m4 0h3m3 0h3m2 0h3m1 0h3m1 0h6m1 0h14m1 0h1m1 0h9m1 0h4m1 0h18m4 0h1m8 0h6m1 0h3m1 0h3m1 0h3m3 0h3m33 0h2M126 1624h4m19 0h3m10 0h3m6 0h4m4 0h3m2 0h4m1 0h4m1 0h1m2 0h20m2 0h23m1 0h6m1 0h2m4 0h2m2 0h3m4 0h2m1 0h2m2 0h4m1 0h6m3 0h3M127 1625h3m20 0h3m10 0h3m6 0h3m4 0h4m2 0h3m2 0h3m3 0h5m1 0h15m2 0h4m1 0h20m1 0h4m1 0h2m4 0h2m2 0h3m12 0h2M128 1626h3m20 0h3m10 0h3m6 0h3m4 0h3m3 0h3m2 0h1m3 0h3m1 0h11m1 0h4m1 0h2m1 0h4m2 0h2m1 0h3m3 0h10m2 0h1m2 0h5m1 0h2m106 0h1M129 1627h3m19 0h4m9 0h4m6 0h3m4 0h3m3 0h3m2 0h3m1 0h3m1 0h6m6 0h2m2 0h2m1 0h4m1 0h7m2 0h10m2 0h1m3 0h4m2 0h2m105 0h3M129 1628h4m19 0h3m10 0h4m5 0h4m4 0h3m3 0h3m1 0h4m1 0h3m1 0h6m1 0h7m4 0h4m1 0h13m1 0h4m2 0h4m1 0h3m7 0h2m101 0h3M130 1629h4m19 0h3m10 0h3m6 0h4m3 0h4m2 0h3m2 0h4m1 0h9m1 0h8m4 0h3m1 0h16m5 0h4m6 0h3m1 0h2m1 0h3M131 1630h3m20 0h3m10 0h3m6 0h3m4 0h4m2 0h3m2 0h3m1 0h3m1 0h3m4 0h1m1 0h6m4 0h2m1 0h5m2 0h4m1 0h5m5 0h3m4 0h5m4 0h3m12 0h5M132 1631h3m19 0h4m10 0h3m6 0h3m4 0h3m3 0h3m2 0h3m1 0h2m2 0h3m6 0h2m1 0h1m4 0h4m3 0h6m4 0h4m1 0h1m3 0h3m4 0h2m22 0h2m1 0h3M133 1632h3m19 0h4m9 0h3m7 0h3m4 0h3m3 0h3m2 0h3m5 0h2m2 0h2m10 0h4m4 0h1m2 0h1m2 0h2m1 0h3m1 0h3m37 0h1M133 1633h4m19 0h3m10 0h3m6 0h4m4 0h3m2 0h4m1 0h4m5 0h6m3 0h3m1 0h1m2 0h3m3 0h9m1 0h2m2 0h3m16 0h2m10 0h2M134 1634h4m19 0h3m10 0h3m6 0h4m3 0h4m2 0h3m3 0h2m5 0h3m1 0h2m4 0h2m1 0h5m3 0h12m6 0h2m14 0h3m9 0h2M135 1635h3m20 0h3m10 0h3m6 0h3m4 0h3m3 0h3m2 0h3m17 0h5m3 0h6m3 0h3m5 0h3M136 1636h3m19 0h4m10 0h3m6 0h3m4 0h3m3 0h3m2 0h2m13 0h3m7 0h2m3 0h2m4 0h2m7 0h2M137 1637h3m19 0h4m9 0h4m6 0h3m4 0h3m3 0h3m11 0h2m3 0h3m7 0h3m8 0h2m4 0h3M137 1638h4m19 0h3m10 0h3m6 0h4m4 0h2m3 0h2m9 0h2m1 0h2m4 0h2m2 0h2m3 0h4m10 0h1m2 0h3m2 0h2M138 1639h3m20 0h3m10 0h3m6 0h3m4 0h2m14 0h4m9 0h2m2 0h4m2 0h2m6 0h2m3 0h2m2 0h2m1 0h2M139 1640h3m20 0h3m10 0h3m6 0h3m17 0h1m1 0h4m19 0h2m6 0h2m3 0h3m4 0h2M140 1641h3m19 0h4m10 0h3m6 0h3m5 0h2m4 0h2m2 0h3m1 0h3m19 0h2m11 0h2m5 0h2M141 1642h3m19 0h3m10 0h4m6 0h3m4 0h3m3 0h2m3 0h2m2 0h3m38 0h2M141 1643h4m19 0h3m10 0h3m6 0h4m4 0h2m13 0h1m10 0h5m10 0h1m13 0h2M142 1644h3m20 0h3m10 0h3m6 0h3m4 0h4m22 0h5m5 0h2m2 0h3m1 0h1M143 1645h3m20 0h3m10 0h3m6 0h3m4 0h3m5 0h1m11 0h2m3 0h2m2 0h2m4 0h2m2 0h2m1 0h4M144 1646h3m19 0h4m9 0h4m6 0h3m10 0h3m10 0h3m5 0h3m4 0h1m6 0h5M145 1647h3m19 0h3m10 0h4m6 0h3m10 0h3m7 0h2m1 0h1m5 0h3m13 0h4M145 1648h4m19 0h3m10 0h3m6 0h4m10 0h2m7 0h2m8 0h1M146 1649h3m20 0h3m10 0h3m7 0h2m6 0h2m2 0h2m8 0h3M147 1650h3m20 0h3m10 0h3m6 0h2m5 0h3m9 0h2m1 0h2m6 0h2m11 0h1M148 1651h3m19 0h4m9 0h4m13 0h1m10 0h2m9 0h2m10 0h3M148 1652h4m19 0h3m11 0h2m20 0h3m2 0h1m7 0h3m1 0h2m9 0h2M149 1653h4m19 0h3m10 0h2m20 0h3m10 0h3m1 0h2m2 0h2M150 1654h3m20 0h3m27 0h2m13 0h1m9 0h2M151 1655h3m19 0h4m26 0h2m12 0h3M152 1656h3m19 0h4m10 0h3m12 0h2m11 0h3M152 1657h4m19 0h3m10 0h3m25 0h2M153 1658h4m19 0h3m11 0h2m24 0h4M154 1659h3m20 0h2m11 0h2m25 0h3M155 1660h3M156 1661h3m20 0h2m11 0h3M156 1662h4m19 0h2m11 0h3M157 1663h3m20 0h2m11 0h2m39 0h3M158 1664h3m19 0h2m13 0h2m37 0h3M159 1665h3m33 0h2M160 1666h3m32 0h3M160 1667h4m32 0h1M161 1668h3M162 1669h3M163 1670h3M164 1671h3M164 1672h4M165 1673h3M166 1674h3M167 1675h3M167 1676h4M168 1677h4M169 1678h3M170 1679h3M171 1680h3M171 1681h4M172 1682h3M173 1683h3m20 0h3M174 1684h2m20 0h3M181 1690h2M181 1691h2M181 1692h2M191 1704h3M191 1705h3"/>
<path class="l" d="M103.91 1486.31H522.78V1713.95H103.91Z"/>
<path class="l" d="M142.9 1713.95H475M142.9 1713.95V1726.62M253.6 1713.95V1726.62M364.3 1713.95V1726.62M475 1713.95V1726.62M103.91 1523.2V1663.1M103.91 1523.2H91.24M103.91 1593.15H91.24M103.91 1663.1H91.24"/>
<text class="m" x="142.9" y="1759.26">0</text>
<text class="m" x="253.6" y="1759.26">5</text>
<text class="m" x="364.3" y="1759.26">10</text>
<text class="m" x="475" y="1759.26">15</text>
<text class="m" transform="translate(73.5 1523.2) rotate(-90)">5</text>
<text class="m" transform="translate(73.5 1593.15) rotate(-90)">0</text>
<text class="m" transform="translate(73.5 1663.1) rotate(-90)">-5</text>
<text class="m t" x="313.34" y="1442.91">Sample7</text>
<text class="m" x="313.34" y="1810.25">Average log CPM (this sample and others)</text>
<text class="m y" transform="translate(22.81 1600.13) rotate(-90)">log-ratio (this sample vs others)</text>
</g>
<g>
<path transform="translate(0 .5)" shape-rendering="crispEdges" stroke="#000" stroke-width="1" fill="none" d="M799 1493h2M799 1494h2M799 1495h2M788 1509h1M787 1510h3M788 1511h2M789 1515h2M789 1516h2m2 0h2M789 1517h2m1 0h3M788 1518h3m2 0h1M780 1519h2m7 0h1M780 1520h3M768 1521h2m10 0h4m8 0h1M768 1522h3m5 0h2m4 0h1m8 0h3M765 1523h1m2 0h2m2 0h3m1 0h3m12 0h3m7 0h2M764 1524h3m5 0h3m1 0h3m13 0h1m8 0h2M764 1525h2m6 0h2m1 0h1m8 0h3m23 0h2M771 1526h3m1 0h2m7 0h3m12 0h2m5 0h8M767 1527h2m6 0h2m22 0h2m5 0h8M767 1528h2m2 0h2m6 0h2m18 0h4m9 0h1M771 1529h2m6 0h2m14 0h3m1 0h4M788 1530h2m5 0h3M773 1531h3m11 0h3m6 0h1m7 0h2m1 0h3M763 1532h2m8 0h3m9 0h2m1 0h1m6 0h3m3 0h1m2 0h7M763 1533h4m7 0h2m3 0h1m5 0h2m9 0h1m3 0h3m2 0h3m1 0h1m6 0h2m52 0h2M765 1534h2m4 0h2m1 0h7m11 0h2m5 0h3m14 0h2m52 0h2M755 1535h2m8 0h2m2 0h1m1 0h7m1 0h2m11 0h2m5 0h2m6 0h1m7 0h3M755 1536h3m9 0h4m1 0h1m3 0h1m8 0h3m12 0h1m5 0h3m7 0h2M756 1537h1m1 0h2m6 0h4m6 0h2m8 0h2m19 0h1m2 0h1m1 0h2m12 0h1M751 1538h2m5 0h3m4 0h3m8 0h2m14 0h3m1 0h1m12 0h5m1 0h2m8 0h3M751 1539h2m6 0h1m5 0h3m7 0h3m6 0h2m6 0h6m11 0h2m2 0h1m1 0h2m9 0h1M751 1540h1m3 0h3m8 0h1m8 0h3m6 0h5m2 0h4m1 0h3m7 0h2m4 0h3m1 0h3m9 0h2m60 0h2M755 1541h3m6 0h2m18 0h10m3 0h2m7 0h3m3 0h3m1 0h3m6 0h2m1 0h2m59 0h4M760 1542h2m2 0h2m18 0h2m1 0h7m3 0h2m15 0h2m8 0h3m14 0h2m3 0h2m1 0h2m39 0h2M751 1543h1m3 0h1m4 0h3m1 0h1m3 0h2m14 0h2m3 0h5m13 0h3m4 0h3m3 0h1m3 0h4m1 0h2m10 0h2m2 0h6m26 0h3M751 1544h2m1 0h3m4 0h1m6 0h2m10 0h2m3 0h1m5 0h8m8 0h3m3 0h10m2 0h6m10 0h2m6 0h2m26 0h3M747 1545h2m2 0h2m2 0h2m1 0h2m2 0h3m3 0h2m4 0h4m2 0h2m10 0h8m8 0h3m2 0h11m2 0h3m17 0h3M746 1546h4m2 0h3m2 0h8m9 0h4m13 0h6m1 0h2m6 0h6m1 0h7m2 0h2m1 0h3m3 0h2m9 0h3m1 0h3M745 1547h6m1 0h3m5 0h2m1 0h1m5 0h8m9 0h3m2 0h4m3 0h2m1 0h2m2 0h3m2 0h5m2 0h1m1 0h2m4 0h3m2 0h3m9 0h3m12 0h2M745 1548h9m14 0h5m1 0h2m6 0h2m1 0h4m4 0h2m4 0h4m2 0h4m3 0h4m2 0h4m3 0h2m4 0h1m10 0h2m12 0h3m18 0h1M744 1549h11m4 0h4m3 0h2m1 0h2m4 0h1m5 0h10m2 0h3m1 0h6m2 0h11m4 0h3m3 0h2m4 0h4m8 0h2m3 0h3m5 0h1m18 0h3M743 1550h15m1 0h4m2 0h3m6 0h4m4 0h1m1 0h2m1 0h5m1 0h3m1 0h3m5 0h10m4 0h4m3 0h2m4 0h4m8 0h2m4 0h2m1 0h1m3 0h1m1 0h2m16 0h1M743 1551h14m2 0h3m2 0h3m8 0h4m8 0h10m1 0h2m5 0h1m3 0h5m2 0h2m1 0h5m8 0h3m4 0h4m1 0h1m7 0h9M743 1552h13m7 0h5m9 0h1m2 0h2m5 0h10m2 0h1m1 0h6m2 0h2m4 0h3m1 0h2m1 0h3m4 0h1m2 0h2m5 0h4m3 0h2m5 0h3m1 0h1M741 1553h2m1 0h11m5 0h8m3 0h2m1 0h2m2 0h6m3 0h1m1 0h5m2 0h1m1 0h15m3 0h2m1 0h2m1 0h13m11 0h3m1 0h5m5 0h1M741 1554h15m3 0h6m5 0h3m1 0h39m3 0h18m1 0h2m3 0h2m4 0h2m1 0h5m5 0h3m28 0h2M742 1555h15m1 0h9m3 0h3m1 0h40m1 0h5m1 0h16m2 0h3m2 0h3m2 0h3m2 0h2m3 0h2m28 0h3m7 0h2M739 1556h33m2 0h4m1 0h3m3 0h2m1 0h50m2 0h3m1 0h3m6 0h3m25 0h2m8 0h2m6 0h3M739 1557h3m1 0h3m1 0h16m1 0h8m1 0h6m2 0h1m6 0h8m1 0h25m1 0h4m1 0h2m2 0h3m1 0h3m1 0h2m4 0h2m6 0h1m19 0h1m6 0h2m7 0h3m7 0h1M740 1558h3m1 0h19m1 0h4m1 0h2m2 0h10m3 0h1m1 0h2m1 0h11m1 0h2m1 0h17m1 0h3m2 0h3m1 0h9m4 0h2m10 0h2m13 0h3m5 0h1m9 0h1M737 1559h2m2 0h3m1 0h17m1 0h1m2 0h17m2 0h42m1 0h15m2 0h5m8 0h3m12 0h2m7 0h2m11 0h2m13 0h2M733 1560h2m2 0h3m1 0h24m1 0h18m1 0h54m1 0h10m1 0h2m5 0h3m5 0h1m15 0h2m11 0h2m10 0h1m2 0h2m5 0h2M733 1561h3m2 0h3m1 0h3m1 0h38m1 0h2m1 0h23m1 0h11m2 0h14m2 0h7m2 0h5m4 0h3m3 0h3m25 0h3m10 0h3m8 0h2m73 0h2M734 1562h2m2 0h4m1 0h3m1 0h23m1 0h16m1 0h53m1 0h7m2 0h6m2 0h2m5 0h2m5 0h3m10 0h3m4 0h2m12 0h1m84 0h2M734 1563h3m2 0h3m2 0h26m1 0h9m1 0h45m1 0h23m1 0h2m1 0h3m9 0h2m1 0h3m1 0h2m11 0h3m3 0h2M735 1564h3m2 0h3m1 0h7m1 0h11m2 0h9m2 0h48m2 0h24m2 0h2m9 0h3m3 0h3m15 0h3m2 0h2m2 0h2m23 0h2M730 1565h3m2 0h4m2 0h3m1 0h3m1 0h15m2 0h72m3 0h13m3 0h2m3 0h4m11 0h3m8 0h1m1 0h2m4 0h2m12 0h2m1 0h2m5 0h3M730 1566h3m3 0h3m2 0h4m1 0h3m1 0h67m1 0h36m1 0h4m3 0h2m1 0h1m2 0h1m8 0h3m5 0h2m1 0h4m3 0h3m5 0h3m3 0h6m5 0h2m43 0h2M737 1567h3m2 0h3m2 0h113m1 0h5m1 0h3m1 0h1m6 0h2m5 0h7m4 0h2m5 0h4m6 0h1m3 0h1m2 0h1m44 0h3M732 1568h2m4 0h3m2 0h3m1 0h3m1 0h3m1 0h114m1 0h3m12 0h2m3 0h6m2 0h2m5 0h2m9 0h3m9 0h2m35 0h2M732 1569h3m3 0h4m2 0h3m1 0h3m1 0h120m2 0h2m3 0h1m11 0h2m1 0h2m2 0h2m2 0h2m9 0h7m8 0h2M726 1570h2m5 0h3m3 0h3m2 0h3m2 0h3m1 0h21m1 0h75m1 0h1m1 0h7m1 0h4m1 0h3m2 0h1m2 0h2m2 0h4m1 0h3m5 0h2m5 0h1m2 0h3m1 0h2m7 0h2m1 0h3m5 0h2M726 1571h2m5 0h4m3 0h3m2 0h3m1 0h98m1 0h3m2 0h16m2 0h2m6 0h8m4 0h2m7 0h1m1 0h2m1 0h4m8 0h2m6 0h2M734 1572h3m4 0h3m2 0h3m1 0h3m1 0h107m1 0h2m1 0h4m2 0h2m4 0h1m1 0h4m1 0h5m10 0h5m1 0h6m14 0h2m6 0h2M735 1573h3m3 0h3m2 0h4m1 0h3m1 0h106m1 0h11m3 0h18m5 0h12m5 0h2m14 0h3M736 1574h3m3 0h3m2 0h3m2 0h3m1 0h123m2 0h14m5 0h1m15 0h3m2 0h1m5 0h2m4 0h1M730 1575h1m5 0h3m4 0h3m2 0h3m1 0h7m1 0h120m1 0h9m3 0h5m1 0h2m1 0h2m11 0h4m1 0h3m3 0h3M730 1576h2m5 0h3m3 0h4m2 0h3m1 0h3m1 0h113m1 0h9m1 0h6m1 0h10m1 0h2m1 0h3m6 0h2m1 0h4m2 0h3m4 0h1M730 1577h3m5 0h3m3 0h3m2 0h4m1 0h3m1 0h122m1 0h15m1 0h3m1 0h4m6 0h2m1 0h4m3 0h1m160 0h2M731 1578h3m5 0h3m3 0h3m2 0h3m2 0h141m1 0h8m4 0h7m20 0h2m4 0h2m12 0h2m124 0h3M731 1579h4m4 0h4m3 0h3m2 0h3m1 0h7m1 0h136m2 0h11m2 0h4m11 0h2m3 0h1m1 0h2m4 0h3m11 0h2m125 0h1M732 1580h3m5 0h3m3 0h4m2 0h3m1 0h3m1 0h120m1 0h11m3 0h2m1 0h2m1 0h14m1 0h3m6 0h2m2 0h3m1 0h3m5 0h3m12 0h2m2 0h2m17 0h2M733 1581h3m5 0h3m3 0h3m2 0h4m1 0h3m1 0h26m1 0h109m1 0h10m1 0h6m2 0h2m6 0h3m2 0h1m3 0h1m1 0h3m3 0h1m17 0h2m16 0h3M734 1582h3m4 0h4m3 0h3m2 0h3m1 0h23m1 0h125m3 0h9m2 0h3m3 0h2m8 0h3m3 0h2m16 0h1m18 0h1m15 0h2M734 1583h3m5 0h3m4 0h3m2 0h3m1 0h3m1 0h3m1 0h129m1 0h11m3 0h13m3 0h2m14 0h2m3 0h2m46 0h3M735 1584h3m5 0h3m3 0h3m2 0h4m1 0h3m1 0h103m1 0h36m1 0h9m1 0h7m6 0h1m11 0h2m6 0h2m47 0h1M736 1585h3m5 0h3m3 0h3m2 0h3m2 0h3m1 0h124m1 0h5m1 0h18m2 0h6m2 0h2m7 0h3m4 0h3m5 0h2m27 0h2M726 1586h3m7 0h4m5 0h3m3 0h3m2 0h3m1 0h7m1 0h126m1 0h3m2 0h6m3 0h7m3 0h2m1 0h4m6 0h2m4 0h4m34 0h2M726 1587h3m8 0h3m5 0h3m3 0h4m2 0h3m1 0h3m1 0h112m1 0h20m1 0h3m2 0h8m1 0h8m2 0h3m2 0h2m3 0h2m3 0h4m35 0h1M727 1588h3m8 0h3m5 0h3m3 0h3m2 0h4m1 0h3m1 0h136m3 0h5m3 0h1m1 0h6m3 0h7m2 0h3M728 1589h3m8 0h3m5 0h3m3 0h3m2 0h3m2 0h133m1 0h1m1 0h2m4 0h4m3 0h23m19 0h2M728 1590h4m7 0h4m4 0h4m3 0h3m2 0h3m1 0h7m1 0h125m1 0h5m1 0h7m1 0h4m1 0h1m1 0h7m1 0h8m5 0h2m9 0h2m2 0h3M729 1591h3m8 0h3m5 0h3m3 0h4m2 0h3m1 0h3m1 0h153m4 0h8m5 0h3m5 0h1m3 0h2m3 0h1M730 1592h3m8 0h3m5 0h3m3 0h3m2 0h4m1 0h3m1 0h81m1 0h53m2 0h15m4 0h3m1 0h3m6 0h2m5 0h3m4 0h1M715 1593h2m14 0h3m8 0h3m5 0h3m3 0h3m2 0h3m2 0h131m4 0h4m1 0h3m1 0h6m1 0h4m4 0h2m4 0h1m1 0h2m3 0h2m6 0h1m4 0h3M715 1594h3m13 0h4m7 0h3m5 0h3m4 0h3m2 0h3m1 0h3m1 0h3m1 0h117m1 0h4m1 0h3m2 0h14m3 0h3m1 0h5m2 0h5m3 0h2m12 0h1M715 1595h3m14 0h3m8 0h3m5 0h3m3 0h3m3 0h3m1 0h3m1 0h87m1 0h36m2 0h4m1 0h16m1 0h10m2 0h2m1 0h7m8 0h1m34 0h3M716 1596h3m14 0h3m8 0h3m5 0h3m3 0h3m2 0h3m2 0h3m1 0h128m2 0h11m3 0h7m1 0h4m6 0h8m6 0h3m33 0h3M716 1597h4m14 0h3m7 0h4m4 0h4m3 0h3m2 0h3m1 0h122m1 0h9m3 0h1m1 0h2m1 0h2m2 0h2m1 0h4m1 0h2m2 0h5m5 0h2m1 0h1m2 0h1m5 0h2m1 0h1m4 0h2M717 1598h3m14 0h4m7 0h3m5 0h3m3 0h4m2 0h3m1 0h3m1 0h117m1 0h3m1 0h4m3 0h2m3 0h4m1 0h5m2 0h2m3 0h5m3 0h4m10 0h3m5 0h2M718 1599h3m14 0h3m8 0h3m5 0h3m3 0h3m2 0h4m1 0h3m1 0h126m1 0h12m2 0h1m1 0h4m3 0h3m5 0h4m11 0h1m25 0h2M719 1600h3m14 0h3m8 0h3m5 0h3m3 0h3m2 0h3m2 0h3m1 0h138m3 0h5m2 0h7m4 0h2m37 0h3M719 1601h4m14 0h3m7 0h4m4 0h4m3 0h3m2 0h3m1 0h7m1 0h121m1 0h11m2 0h1m2 0h5m1 0h3m1 0h3m4 0h2m11 0h3m2 0h2m20 0h1M720 1602h3m14 0h3m8 0h3m5 0h3m3 0h4m2 0h3m1 0h3m1 0h131m2 0h1m2 0h4m3 0h2m1 0h2m3 0h5m2 0h2m11 0h3m2 0h2M721 1603h3m14 0h3m8 0h3m5 0h3m3 0h3m2 0h4m1 0h3m1 0h115m1 0h10m1 0h12m6 0h2m3 0h5m11 0h2m6 0h2M722 1604h3m14 0h3m8 0h3m5 0h3m3 0h3m2 0h3m2 0h125m1 0h14m2 0h2m1 0h2m1 0h2m1 0h2m2 0h3m1 0h3m7 0h2m6 0h2M722 1605h4m13 0h4m7 0h3m5 0h3m4 0h3m2 0h3m1 0h3m1 0h3m1 0h107m1 0h6m1 0h8m1 0h3m1 0h4m2 0h2m1 0h2m2 0h6m4 0h4m3 0h1m5 0h2M723 1606h3m14 0h3m8 0h3m5 0h3m3 0h3m3 0h3m1 0h3m1 0h110m1 0h6m1 0h8m1 0h9m1 0h4m3 0h6m1 0h3m2 0h2m2 0h3m4 0h2M724 1607h3m14 0h3m8 0h3m5 0h3m3 0h3m2 0h3m2 0h3m1 0h123m3 0h20m1 0h2m2 0h2m5 0h3m5 0h2M725 1608h3m14 0h3m7 0h4m4 0h4m3 0h3m2 0h3m1 0h150m1 0h2m9 0h2M725 1609h3m15 0h3m7 0h3m5 0h3m4 0h3m2 0h3m1 0h3m1 0h3m1 0h115m1 0h12m3 0h9m2 0h3m1 0h2M726 1610h3m14 0h3m8 0h3m5 0h3m3 0h3m3 0h3m1 0h3m1 0h113m1 0h3m3 0h11m2 0h3m3 0h4m3 0h2m1 0h3m3 0h2M727 1611h3m14 0h3m8 0h3m5 0h3m3 0h3m2 0h3m2 0h3m1 0h98m1 0h32m1 0h3m1 0h7m6 0h2m3 0h2m22 0h2M727 1612h4m14 0h3m7 0h3m5 0h4m3 0h3m2 0h3m1 0h7m1 0h116m1 0h10m1 0h2m2 0h4m1 0h3m2 0h3m4 0h2m23 0h3m1 0h1M728 1613h3m14 0h3m8 0h3m5 0h3m3 0h4m2 0h3m1 0h3m1 0h133m2 0h2m3 0h3m2 0h3m3 0h3m3 0h1m20 0h1m1 0h3M729 1614h3m14 0h3m8 0h3m5 0h3m3 0h3m2 0h4m1 0h3m1 0h101m1 0h26m1 0h2m3 0h2m1 0h1m2 0h2m2 0h3m4 0h1m3 0h3m21 0h2m14 0h2M730 1615h3m14 0h3m8 0h3m5 0h3m3 0h3m2 0h3m2 0h118m2 0h13m3 0h6m6 0h1m9 0h2m37 0h3M730 1616h4m13 0h4m7 0h4m4 0h4m3 0h3m2 0h3m1 0h7m1 0h98m1 0h19m3 0h4m1 0h4m2 0h1m57 0h1M731 1617h3m14 0h3m8 0h3m5 0h3m3 0h4m2 0h3m1 0h3m1 0h85m2 0h7m1 0h6m1 0h3m1 0h9m1 0h4m2 0h1m1 0h2m3 0h4M732 1618h3m14 0h3m8 0h3m5 0h3m3 0h3m2 0h4m1 0h3m1 0h55m1 0h28m1 0h14m3 0h11m2 0h3m2 0h5m4 0h1M733 1619h3m14 0h2m9 0h3m4 0h4m3 0h3m2 0h3m1 0h88m1 0h12m3 0h2m1 0h7m1 0h2m1 0h2m5 0h2M733 1620h3m14 0h4m7 0h3m5 0h3m4 0h3m2 0h3m1 0h3m1 0h3m1 0h69m2 0h12m1 0h5m5 0h3m1 0h7m1 0h2m1 0h3M734 1621h3m14 0h3m8 0h3m5 0h3m3 0h3m2 0h4m1 0h3m1 0h90m8 0h2m2 0h5M735 1622h3m14 0h3m8 0h3m5 0h3m3 0h3m2 0h3m2 0h3m1 0h63m1 0h5m1 0h18m2 0h2m12 0h2M694 1623h2m39 0h4m14 0h3m7 0h4m4 0h4m3 0h3m2 0h3m1 0h7m1 0h63m1 0h12m3 0h5m2 0h3m3 0h2M693 1624h3m40 0h3m15 0h2m8 0h3m5 0h3m3 0h4m2 0h3m1 0h3m1 0h69m1 0h8m3 0h5m4 0h1m4 0h2m118 0h2M694 1625h3m40 0h3m14 0h3m8 0h3m5 0h3m3 0h3m2 0h4m1 0h3m1 0h69m1 0h6m5 0h1m12 0h2m118 0h3M695 1626h3m40 0h3m14 0h3m8 0h3m5 0h3m3 0h3m2 0h3m2 0h72m1 0h6m7 0h2m130 0h1M695 1627h4m39 0h4m14 0h3m7 0h4m4 0h4m3 0h3m2 0h3m1 0h3m1 0h3m1 0h37m1 0h20m1 0h5m1 0h4m7 0h4m13 0h2M696 1628h3m40 0h3m14 0h3m8 0h3m5 0h3m3 0h4m2 0h3m1 0h3m1 0h44m1 0h7m1 0h19m1 0h5m1 0h3m13 0h3M697 1629h3m40 0h3m14 0h3m8 0h3m5 0h3m3 0h3m2 0h3m2 0h3m1 0h37m1 0h3m1 0h1m2 0h3m1 0h2m1 0h6m1 0h4m2 0h5m2 0h2m1 0h2m1 0h1m7 0h3M698 1630h3m40 0h3m14 0h3m8 0h3m5 0h3m3 0h3m2 0h3m2 0h39m3 0h9m1 0h12m11 0h2m12 0h3M698 1631h4m39 0h4m13 0h4m7 0h3m5 0h3m4 0h3m2 0h3m1 0h3m1 0h3m1 0h15m2 0h15m2 0h22M699 1632h3m40 0h3m14 0h3m8 0h3m5 0h3m3 0h4m2 0h3m1 0h3m1 0h17m1 0h18m1 0h5m2 0h5m2 0h2m22 0h3M700 1633h3m40 0h3m14 0h3m8 0h3m5 0h3m3 0h3m2 0h3m2 0h3m1 0h14m1 0h21m1 0h5m1 0h7m8 0h2m14 0h3m3 0h2m7 0h2M701 1634h3m39 0h4m14 0h3m8 0h3m4 0h4m3 0h3m2 0h3m1 0h17m1 0h8m1 0h14m1 0h4m1 0h8m7 0h2m20 0h2m7 0h2M701 1635h3m40 0h3m14 0h4m7 0h3m5 0h3m3 0h4m2 0h3m1 0h3m1 0h36m1 0h3m2 0h3m3 0h3m14 0h2m7 0h1M702 1636h3m40 0h3m14 0h3m8 0h3m5 0h3m3 0h3m2 0h4m1 0h3m1 0h17m2 0h2m2 0h8m4 0h4m3 0h1m2 0h7m12 0h3m5 0h3M703 1637h3m40 0h3m14 0h3m8 0h3m5 0h3m3 0h3m2 0h3m2 0h20m2 0h7m2 0h3m4 0h3m7 0h3m1 0h3m13 0h1m7 0h2M703 1638h4m39 0h4m14 0h3m7 0h4m4 0h4m3 0h3m2 0h3m1 0h3m1 0h3m1 0h2m1 0h8m2 0h3m1 0h8m17 0h4M704 1639h3m40 0h3m14 0h3m8 0h3m5 0h3m3 0h4m2 0h3m1 0h3m1 0h3m2 0h7m4 0h11m4 0h2m7 0h2m4 0h2M705 1640h3m40 0h3m14 0h3m8 0h3m5 0h3m3 0h3m2 0h4m1 0h3m1 0h3m1 0h4m1 0h3m4 0h2m2 0h5m5 0h2m7 0h2M706 1641h3m40 0h3m14 0h3m8 0h3m5 0h3m3 0h3m2 0h3m2 0h1m3 0h6m3 0h2m8 0h4m6 0h2M706 1642h4m39 0h4m13 0h4m7 0h3m5 0h3m4 0h3m2 0h3m3 0h1m1 0h3m1 0h3m6 0h2m4 0h4m6 0h2M707 1643h3m40 0h3m14 0h3m8 0h3m5 0h3m3 0h4m2 0h3m1 0h3m1 0h7m5 0h3M708 1644h3m40 0h3m14 0h3m8 0h3m5 0h3m3 0h3m2 0h2m3 0h3m1 0h2m1 0h3m1 0h2m3 0h1m4 0h2M709 1645h3m40 0h3m14 0h3m7 0h4m5 0h3m3 0h3m4 0h1m1 0h6m2 0h1m2 0h2m8 0h2M709 1646h3m40 0h3m14 0h4m7 0h3m5 0h3m4 0h3m2 0h3m1 0h3m6 0h2m1 0h2m32 0h1M710 1647h3m40 0h3m14 0h3m8 0h3m5 0h3m3 0h3m2 0h2m10 0h6m31 0h3M711 1648h3m40 0h3m14 0h3m8 0h3m5 0h3m3 0h2m9 0h2m4 0h1m2 0h1m33 0h2M711 1649h4m39 0h4m14 0h3m7 0h4m4 0h4m12 0h4M712 1650h3m40 0h3m14 0h3m8 0h3m5 0h3m13 0h3m2 0h3m3 0h2M713 1651h3m40 0h3m14 0h3m8 0h3m5 0h3m13 0h3m1 0h3m3 0h2M714 1652h3m40 0h3m14 0h3m8 0h3m5 0h2m14 0h3M714 1653h4m39 0h4m13 0h4m7 0h4m4 0h2m15 0h2M715 1654h3m40 0h3m14 0h3m8 0h3m21 0h2M716 1655h3m40 0h3m14 0h3m8 0h3M717 1656h3m40 0h3m14 0h3m8 0h1M717 1657h4m39 0h3m14 0h4m29 0h1m17 0h1M718 1658h3m40 0h3m14 0h3m18 0h2m8 0h3m15 0h3M719 1659h3m40 0h3m14 0h3m17 0h2m9 0h2m15 0h2M719 1660h4m40 0h3m14 0h3m16 0h2M720 1661h3m40 0h3m14 0h3M721 1662h3m40 0h3m14 0h3m9 0h2M722 1663h3m40 0h3m14 0h3m8 0h3M722 1664h4m39 0h4m14 0h3m8 0h1M723 1665h3m40 0h3m14 0h3M724 1666h3m40 0h3m14 0h3M725 1667h3m40 0h3m14 0h3M725 1668h4m39 0h3m14 0h2M726 1669h3m40 0h3M727 1670h3m40 0h3M728 1671h3m40 0h3M728 1672h3m40 0h3M729 1673h3m40 0h3M730 1674h3m40 0h3M730 1675h4m39 0h4M731 1676h3m40 0h3M732 1677h3m40 0h2M733 1678h3M733 1679h4M734 1680h3m43 0h1M735 1681h3m41 0h3M736 1682h3m41 0h1M736 1683h3M737 1684h3M738 1685h3M738 1686h4M739 1687h3M740 1688h3M741 1689h3M741 1690h4M742 1691h3M743 1692h3M744 1693h3M744 1694h4M745 1695h3M746 1696h3M746 1697h4M747 1698h3M748 1699h3M749 1700h3M749 1701h3M750 1702h3M751 1703h3M752 1704h3M752 1705h3M753 1706h3M754 1707h2"/>
<path class="l" d="M679.91 1486.31H1098.78V1713.95H679.91Z"/>
<path class="l" d="M717.95 1713.95H1033.25M717.95 1713.95V1726.62M823.05 1713.95V1726.62M928.15 1713.95V1726.62M1033.25 1713.95V1726.62M679.91 1532.27V1676.27M679.91 1532.27H667.24M679.91 1604.27H667.24M679.91 1676.27H667.24"/>
<text class="m" x="717.95" y="1759.26">0</text>
<text class="m" x="823.05" y="1759.26">5</text>
<text class="m" x="928.15" y="1759.26">10</text>
<text class="m" x="1033.25" y="1759.26">15</text>
<text class="m" transform="translate(649.5 1532.27) rotate(-90)">5</text>
<text class="m" transform="translate(649.5 1604.27) rotate(-90)">0</text>
<text class="m" transform="translate(649.5 1676.27) rotate(-90)">-5</text>
<text class="m t" x="889.34" y="1442.91">Sample8</text>
<text class="m" x="889.34" y="1810.25">Average log CPM (this sample and others)</text>
<text class="m y" transform="translate(598.81 1600.13) rotate(-90)">log-ratio (this sample vs others)</text>
</g>
<g>
<path transform="translate(0 .5)" shape-rendering="crispEdges" stroke="#000" stroke-width="1" fill="none" d="M227 1954h2M227 1955h2M227 1956h2M222 1972h2M222 1973h2M222 1974h2M223 1980h3M223 1981h3M214 1982h2M214 1983h2M214 1984h2M210 1986h3m72 0h1M210 1987h3m11 0h1m59 0h3M210 1988h3m3 0h2m5 0h3m59 0h1m41 0h2M216 1989h3m5 0h1m101 0h3M217 1990h1m109 0h1M194 1991h2m14 0h2M193 1992h4m12 0h5m32 0h2M193 1993h4m11 0h7m7 0h1m23 0h2M192 1994h2m15 0h1m3 0h1m2 0h2m4 0h3m43 0h2M192 1995h2m2 0h2m15 0h2m1 0h2m4 0h3m43 0h2M196 1996h2m9 0h1m3 0h7m4 0h4m3 0h1M206 1997h3m2 0h6m2 0h2m3 0h1m3 0h3M191 1998h4m1 0h1m5 0h3m1 0h4m2 0h3m4 0h3m6 0h2M190 1999h8m4 0h4m2 0h7m1 0h5m1 0h2M186 2000h3m2 0h2m2 0h5m1 0h6m2 0h11m2 0h4M186 2001h3m6 0h5m1 0h5m4 0h7m1 0h2m4 0h3m3 0h3M195 2002h3m2 0h1m1 0h4m5 0h9m1 0h2m2 0h1m1 0h2m1 0h4M187 2003h2m5 0h4m2 0h5m6 0h4m1 0h7m1 0h2m1 0h2m1 0h4M187 2004h2m6 0h9m7 0h10m1 0h1m1 0h4m2 0h2M185 2005h4m1 0h2m5 0h8m1 0h2m5 0h8m1 0h6m2 0h4M184 2006h4m2 0h10m1 0h10m3 0h14m2 0h4M184 2007h2m5 0h16m1 0h17m1 0h2m2 0h3M184 2008h2m2 0h7m1 0h1m2 0h8m3 0h8m2 0h2m4 0h2m3 0h2m52 0h2M183 2009h3m1 0h8m1 0h3m3 0h2m2 0h3m1 0h2m1 0h5m2 0h2m2 0h2m5 0h3m9 0h4m28 0h2m8 0h2M180 2010h9m1 0h2m1 0h7m1 0h4m1 0h6m1 0h5m1 0h3m2 0h5m15 0h3m27 0h3m9 0h1M179 2011h5m1 0h14m2 0h4m2 0h2m1 0h1m3 0h8m1 0h9m43 0h1M180 2012h1m1 0h3m1 0h1m2 0h15m1 0h8m3 0h18M179 2013h2m1 0h3m5 0h16m1 0h6m1 0h2m2 0h7m1 0h5m1 0h2m34 0h2M179 2014h2m1 0h3m1 0h2m2 0h2m3 0h6m2 0h9m1 0h3m4 0h2m1 0h2m2 0h6m3 0h6m26 0h2M179 2015h2m1 0h10m1 0h6m1 0h17m3 0h2m1 0h2m2 0h6m3 0h6M179 2016h2m2 0h16m1 0h8m1 0h9m2 0h5m1 0h5m5 0h3m1 0h2m11 0h2M183 2017h3m1 0h12m1 0h19m3 0h10m3 0h9m1 0h3m4 0h3M176 2018h2m1 0h2m1 0h3m2 0h16m1 0h14m2 0h8m2 0h2m2 0h4m2 0h1m1 0h2m1 0h3m5 0h2M175 2019h6m1 0h3m1 0h1m1 0h8m1 0h5m1 0h3m1 0h7m1 0h4m1 0h5m5 0h2m1 0h5m6 0h2m7 0h2m2 0h2m9 0h4m7 0h1m42 0h2M176 2020h1m1 0h2m2 0h2m1 0h3m3 0h8m1 0h5m1 0h8m1 0h5m2 0h3m2 0h2m2 0h8m1 0h7m6 0h2m2 0h2m3 0h2m3 0h4m7 0h3m40 0h3M173 2021h2m4 0h4m3 0h3m1 0h8m1 0h5m2 0h20m1 0h3m1 0h3m1 0h13m4 0h3m2 0h2m2 0h3m3 0h3m8 0h3m41 0h2M172 2022h5m2 0h4m2 0h8m1 0h14m1 0h16m2 0h4m2 0h2m1 0h15m1 0h3m7 0h2m3 0h3m9 0h1m10 0h2M173 2023h4m1 0h2m1 0h6m1 0h2m1 0h5m1 0h22m1 0h5m4 0h1m3 0h2m1 0h2m1 0h1m1 0h4m2 0h4m4 0h6m1 0h2m2 0h3m21 0h2M168 2024h2m7 0h3m1 0h5m2 0h3m2 0h3m1 0h10m2 0h19m2 0h6m4 0h3m4 0h4m4 0h6m1 0h2m2 0h3m44 0h2M168 2025h3m5 0h9m3 0h18m1 0h28m5 0h2m2 0h5m6 0h1m1 0h2m27 0h2m5 0h2m18 0h2M169 2026h2m8 0h6m3 0h14m1 0h3m1 0h30m1 0h8m1 0h6m4 0h3m1 0h1m19 0h1m4 0h4m3 0h2m18 0h1M168 2027h2m1 0h2m2 0h2m2 0h2m4 0h1m2 0h37m1 0h2m2 0h23m1 0h1m2 0h6m17 0h3m5 0h2M167 2028h6m2 0h7m2 0h11m1 0h26m2 0h5m2 0h4m1 0h14m3 0h3m3 0h4m6 0h2m10 0h1m1 0h2M166 2029h3m1 0h2m1 0h56m1 0h4m1 0h16m1 0h10m2 0h3m2 0h2m12 0h3m1 0h2M166 2030h38m1 0h24m1 0h12m2 0h7m2 0h14m1 0h1m4 0h3m3 0h2m6 0h2M166 2031h6m1 0h11m1 0h6m1 0h37m1 0h12m1 0h5m1 0h2m5 0h1m1 0h4m1 0h2m2 0h3m3 0h3m3 0h2m1 0h3M164 2032h6m2 0h4m1 0h14m1 0h40m1 0h19m3 0h3m2 0h1m2 0h2m2 0h2m4 0h3m2 0h7M163 2033h6m1 0h18m1 0h15m1 0h48m2 0h3m1 0h9m3 0h5m2 0h4m1 0h3m9 0h5M163 2034h3m1 0h7m1 0h79m1 0h3m2 0h3m1 0h4m2 0h3m1 0h1m9 0h2m9 0h5M164 2035h25m1 0h4m1 0h58m1 0h3m2 0h4m1 0h5m1 0h3m1 0h3m3 0h2m5 0h3m1 0h1m2 0h3m2 0h2M162 2036h2m1 0h13m1 0h53m1 0h23m3 0h2m3 0h13m3 0h2m1 0h2m2 0h6m2 0h1m3 0h2M159 2037h2m1 0h3m1 0h11m2 0h58m1 0h20m3 0h3m1 0h5m1 0h5m2 0h2m1 0h4m5 0h2m7 0h2M156 2038h1m2 0h3m1 0h3m1 0h8m2 0h87m1 0h11m2 0h7M155 2039h3m2 0h3m1 0h10m3 0h13m3 0h67m1 0h3m1 0h2m1 0h2m1 0h6m2 0h1m1 0h5m11 0h1m4 0h2M156 2040h3m1 0h11m1 0h7m1 0h10m1 0h86m5 0h1m1 0h4m1 0h4m1 0h5m3 0h2m2 0h2M153 2041h1m2 0h4m1 0h3m1 0h13m2 0h5m2 0h3m1 0h3m2 0h61m2 0h18m2 0h5m2 0h7m1 0h5m2 0h3m2 0h2m72 0h2M152 2042h3m2 0h4m1 0h3m1 0h3m1 0h14m2 0h5m1 0h92m1 0h7m2 0h5m2 0h2m76 0h5M153 2043h3m2 0h3m2 0h3m1 0h8m2 0h8m2 0h97m1 0h6m4 0h4m67 0h1m13 0h4M153 2044h4m2 0h3m2 0h3m1 0h18m2 0h92m1 0h3m1 0h5m5 0h7m4 0h2m57 0h3m14 0h1M154 2045h3m3 0h3m1 0h23m1 0h5m1 0h17m1 0h4m1 0h73m2 0h2m2 0h3m1 0h2m4 0h2m54 0h5M150 2046h2m3 0h3m2 0h4m1 0h3m1 0h3m1 0h14m1 0h99m5 0h7m7 0h3m47 0h2m4 0h7M150 2047h2m4 0h3m2 0h3m2 0h3m1 0h3m1 0h8m1 0h2m1 0h100m1 0h2m4 0h12m1 0h5m9 0h1m35 0h2m7 0h5M150 2048h3m4 0h3m2 0h3m2 0h3m1 0h13m1 0h71m1 0h11m1 0h21m1 0h14m2 0h4m8 0h3m21 0h1m7 0h2m9 0h2m2 0h3M151 2049h3m3 0h4m2 0h3m1 0h4m1 0h84m1 0h10m1 0h16m1 0h4m1 0h8m1 0h5m2 0h4m1 0h1m7 0h2m21 0h5m4 0h2m9 0h2M152 2050h3m3 0h3m3 0h3m1 0h14m1 0h16m1 0h67m1 0h16m2 0h29m2 0h4m17 0h2m3 0h1m1 0h2m4 0h2M152 2051h4m3 0h3m2 0h4m1 0h3m1 0h3m1 0h19m1 0h2m2 0h82m3 0h4m1 0h19m1 0h9m2 0h2m3 0h4m7 0h2m8 0h2m1 0h2m13 0h3M146 2052h2m5 0h3m4 0h3m2 0h3m2 0h3m1 0h3m1 0h113m1 0h2m2 0h6m1 0h1m2 0h14m2 0h2m2 0h7m12 0h1m2 0h5m13 0h3m17 0h2M146 2053h3m5 0h3m4 0h3m2 0h3m2 0h3m1 0h100m2 0h14m1 0h1m1 0h2m1 0h5m3 0h17m2 0h16m4 0h8m9 0h3m8 0h1m1 0h1m3 0h2m5 0h3M147 2054h3m5 0h3m3 0h4m2 0h3m1 0h23m1 0h112m1 0h14m1 0h17m1 0h2m1 0h8m9 0h3m3 0h2m3 0h4m1 0h3m1 0h1m4 0h2M147 2055h4m4 0h4m3 0h3m2 0h4m1 0h3m1 0h152m1 0h3m1 0h11m2 0h6m1 0h2m3 0h1m5 0h5m3 0h3m5 0h3m3 0h2M148 2056h3m5 0h4m3 0h3m2 0h4m1 0h3m1 0h3m1 0h135m1 0h14m1 0h12m6 0h5m2 0h2m2 0h2m1 0h5m12 0h1m4 0h1M149 2057h3m5 0h3m4 0h3m2 0h3m2 0h3m1 0h141m1 0h19m2 0h2m2 0h3m1 0h3m1 0h6m2 0h2m4 0h1m7 0h2M150 2058h3m5 0h3m3 0h4m2 0h3m2 0h3m1 0h6m1 0h134m1 0h7m1 0h2m1 0h9m4 0h6m4 0h2m3 0h3m1 0h5m6 0h2m26 0h2M151 2059h3m5 0h3m3 0h3m3 0h3m1 0h157m1 0h9m3 0h10m2 0h1m2 0h2m2 0h5m34 0h2M151 2060h4m4 0h4m3 0h3m2 0h4m1 0h3m1 0h3m1 0h6m1 0h6m1 0h135m1 0h8m3 0h10m2 0h5m3 0h1m1 0h4m4 0h1m4 0h2m4 0h2m1 0h2m36 0h1M152 2061h3m5 0h3m4 0h3m2 0h3m2 0h3m1 0h3m1 0h8m1 0h3m1 0h138m1 0h6m2 0h10m2 0h4m6 0h4m3 0h3m3 0h2m4 0h2m1 0h3m34 0h3M153 2062h3m5 0h3m4 0h3m2 0h3m2 0h3m1 0h10m1 0h137m2 0h3m2 0h6m2 0h9m2 0h1m17 0h3m3 0h3m1 0h4m2 0h1m36 0h1M154 2063h3m5 0h3m3 0h4m2 0h3m1 0h4m1 0h148m1 0h10m2 0h7m1 0h2m1 0h6m6 0h3m5 0h3m3 0h1m2 0h4M146 2064h1m7 0h4m5 0h3m3 0h3m3 0h3m1 0h160m1 0h21m6 0h3m1 0h2m2 0h4m4 0h3M145 2065h3m7 0h4m4 0h4m3 0h3m2 0h4m1 0h3m1 0h3m1 0h168m1 0h2m1 0h2m3 0h2m1 0h5m4 0h2m4 0h3M145 2066h4m7 0h3m5 0h3m4 0h3m2 0h3m2 0h3m1 0h3m1 0h148m1 0h4m2 0h4m2 0h4m3 0h2m1 0h2m3 0h2m2 0h3m8 0h3m1 0h3m1 0h3M146 2067h3m8 0h3m5 0h3m3 0h4m2 0h3m2 0h3m1 0h150m2 0h14m3 0h2m1 0h1m6 0h5m3 0h2m5 0h7m1 0h3m2 0h2m25 0h1m55 0h2M147 2068h3m8 0h3m5 0h3m3 0h4m2 0h3m1 0h152m3 0h4m1 0h6m1 0h3m2 0h6m3 0h1m1 0h5m3 0h2m5 0h3m6 0h2m2 0h2m24 0h3m54 0h3M148 2069h3m7 0h4m5 0h3m3 0h3m2 0h4m1 0h3m1 0h147m1 0h16m3 0h18m8 0h3m2 0h3m32 0h1m56 0h1M148 2070h4m7 0h3m5 0h4m3 0h3m2 0h4m1 0h3m1 0h3m1 0h3m1 0h147m2 0h6m1 0h2m1 0h2m2 0h5m3 0h5m4 0h6m3 0h3M149 2071h3m8 0h3m5 0h3m4 0h3m2 0h3m2 0h3m1 0h3m1 0h145m3 0h3m5 0h2m1 0h6m1 0h1m2 0h2m1 0h6m3 0h7m34 0h2M150 2072h3m8 0h3m5 0h3m3 0h4m2 0h3m2 0h3m1 0h154m4 0h3m1 0h15m1 0h3m2 0h11m4 0h1m26 0h2M151 2073h3m8 0h3m5 0h3m3 0h3m3 0h3m1 0h139m1 0h18m3 0h4m3 0h4m1 0h1m1 0h4m2 0h3m4 0h4m1 0h5m3 0h3m4 0h2m19 0h2M137 2074h2m13 0h3m7 0h4m4 0h4m3 0h3m2 0h4m1 0h3m1 0h126m1 0h26m2 0h14m1 0h2m4 0h3m5 0h3m8 0h3m5 0h3M136 2075h4m12 0h4m7 0h3m5 0h4m3 0h3m2 0h4m1 0h3m1 0h3m1 0h131m1 0h5m1 0h22m1 0h5m2 0h2m9 0h3m1 0h2m5 0h2m7 0h1M137 2076h3m13 0h3m8 0h3m5 0h3m4 0h3m2 0h3m2 0h3m1 0h139m2 0h4m3 0h15m2 0h3m3 0h3m1 0h3m4 0h3m1 0h4m3 0h2m3 0h2m1 0h3M138 2077h3m13 0h3m8 0h3m5 0h3m3 0h4m2 0h3m1 0h4m1 0h144m1 0h3m1 0h1m1 0h4m2 0h2m1 0h3m7 0h1m3 0h3m5 0h2m1 0h4m8 0h2m2 0h2m29 0h3M139 2078h3m13 0h3m7 0h4m5 0h3m3 0h3m3 0h3m1 0h152m4 0h2m3 0h8m4 0h3m3 0h2m5 0h7m8 0h2m23 0h3m7 0h3M139 2079h4m12 0h4m7 0h4m4 0h3m4 0h3m2 0h4m1 0h3m1 0h3m1 0h123m1 0h4m1 0h14m1 0h1m1 0h3m3 0h5m1 0h3m3 0h2m6 0h1m2 0h7m29 0h2m4 0h3m8 0h1M140 2080h3m13 0h4m7 0h3m5 0h3m4 0h3m2 0h3m2 0h3m1 0h3m1 0h101m2 0h42m1 0h10m1 0h3m7 0h11m6 0h3m6 0h2m15 0h2M141 2081h3m13 0h3m8 0h3m5 0h3m3 0h4m2 0h3m2 0h3m1 0h104m1 0h50m2 0h2m1 0h2m6 0h1m1 0h7m10 0h3m5 0h3m36 0h3M142 2082h3m13 0h3m8 0h3m5 0h3m3 0h4m2 0h3m1 0h4m1 0h120m2 0h32m3 0h6m3 0h3m5 0h1m20 0h1m37 0h3M143 2083h3m13 0h3m7 0h4m5 0h3m3 0h3m3 0h3m1 0h3m1 0h121m1 0h15m1 0h10m1 0h15m3 0h1M143 2084h3m13 0h4m7 0h3m5 0h4m3 0h3m2 0h4m1 0h3m1 0h3m1 0h81m2 0h29m2 0h13m1 0h27m1 0h3m11 0h1M144 2085h3m13 0h3m8 0h3m5 0h3m4 0h3m2 0h3m2 0h3m1 0h3m1 0h56m1 0h78m2 0h2m1 0h8m4 0h2m4 0h3m7 0h3m2 0h2m2 0h1M145 2086h3m13 0h3m8 0h3m5 0h3m3 0h4m2 0h3m2 0h3m1 0h71m1 0h66m5 0h6m12 0h3m8 0h2m2 0h2m1 0h3M146 2087h3m13 0h3m8 0h3m5 0h3m3 0h3m3 0h3m1 0h85m2 0h52m6 0h4m1 0h2m3 0h2m26 0h2M146 2088h4m13 0h3m7 0h3m5 0h4m3 0h3m2 0h4m1 0h3m1 0h104m1 0h1m1 0h24m1 0h3m4 0h3m8 0h2m50 0h1M147 2089h4m12 0h4m7 0h3m5 0h3m4 0h3m2 0h4m1 0h3m1 0h3m1 0h68m2 0h36m1 0h19m2 0h2m2 0h4m60 0h3M148 2090h3m13 0h3m8 0h3m5 0h3m4 0h3m2 0h3m2 0h3m1 0h86m1 0h23m1 0h9m1 0h9m1 0h2m2 0h5m2 0h2m56 0h2M117 2091h3m29 0h3m13 0h3m8 0h3m5 0h3m3 0h4m2 0h3m1 0h4m1 0h89m1 0h7m1 0h2m1 0h8m2 0h7m2 0h10m5 0h4m2 0h3M117 2092h3m30 0h3m13 0h3m8 0h3m5 0h3m3 0h3m3 0h3m1 0h41m1 0h22m1 0h16m1 0h1m1 0h8m2 0h3m2 0h5m1 0h17m1 0h10m6 0h3m3 0h2m73 0h2M118 2093h3m29 0h4m13 0h3m7 0h4m4 0h4m3 0h3m2 0h4m1 0h3m1 0h3m1 0h31m1 0h50m1 0h3m2 0h1m2 0h3m3 0h4m3 0h13m1 0h5m88 0h2M119 2094h3m29 0h3m13 0h4m7 0h3m5 0h3m4 0h3m2 0h3m2 0h3m1 0h3m1 0h9m2 0h16m1 0h45m3 0h5m1 0h7m1 0h2m5 0h2m4 0h4m2 0h5m3 0h5m13 0h1M119 2095h4m29 0h3m13 0h3m8 0h3m5 0h3m4 0h3m2 0h3m2 0h3m1 0h52m1 0h22m2 0h2m3 0h7m1 0h1m1 0h2m13 0h3m27 0h3M120 2096h4m29 0h3m13 0h3m8 0h3m5 0h3m3 0h4m2 0h3m1 0h4m1 0h28m1 0h9m1 0h14m1 0h17m1 0h2m2 0h2m6 0h6m1 0h2m11 0h2m8 0h2m7 0h2m11 0h2m28 0h2M121 2097h3m30 0h3m13 0h3m7 0h4m5 0h3m3 0h3m3 0h3m1 0h37m1 0h4m1 0h15m2 0h11m2 0h1m1 0h3m1 0h3m5 0h2m3 0h2m1 0h3m10 0h2m2 0h1m5 0h2m7 0h2m41 0h3m22 0h3M122 2098h3m29 0h4m12 0h4m7 0h3m5 0h4m3 0h3m3 0h3m1 0h3m1 0h3m1 0h16m1 0h7m1 0h9m1 0h4m1 0h5m2 0h3m2 0h9m5 0h8m3 0h4m5 0h3m13 0h3m57 0h1m23 0h3M123 2099h3m29 0h3m13 0h4m7 0h3m5 0h3m4 0h3m2 0h3m2 0h3m1 0h3m1 0h2m1 0h11m1 0h14m1 0h14m2 0h7m2 0h4m7 0h3m1 0h3m5 0h3m21 0h2M123 2100h4m29 0h3m13 0h3m8 0h3m5 0h3m3 0h4m2 0h3m2 0h3m1 0h3m2 0h34m1 0h1m2 0h2m2 0h2m1 0h6m2 0h3m9 0h2m10 0h2m25 0h2M124 2101h3m30 0h3m13 0h3m8 0h3m5 0h3m3 0h4m2 0h3m1 0h4m1 0h14m1 0h20m1 0h3m2 0h7m3 0h3m4 0h4m13 0h1m5 0h2m2 0h2m15 0h2m4 0h2M125 2102h3m29 0h4m13 0h3m7 0h4m5 0h3m3 0h3m2 0h4m1 0h3m1 0h12m4 0h11m1 0h4m1 0h3m1 0h2m2 0h2m1 0h2m5 0h4m2 0h7m2 0h5m3 0h3m4 0h2m2 0h2m14 0h3M126 2103h3m29 0h4m12 0h4m7 0h3m5 0h4m3 0h3m2 0h4m1 0h3m1 0h3m1 0h4m7 0h2m5 0h1m1 0h2m1 0h2m3 0h3m5 0h4m6 0h4m1 0h8m2 0h2m1 0h2m1 0h4m26 0h2m189 0h2M127 2104h3m29 0h3m13 0h3m8 0h3m5 0h3m4 0h3m2 0h3m2 0h3m1 0h3m1 0h3m1 0h2m3 0h3m16 0h1m6 0h4m6 0h2m3 0h3m3 0h1m3 0h2m1 0h5m219 0h2M127 2105h3m30 0h3m13 0h3m8 0h3m5 0h3m3 0h4m2 0h3m2 0h2m2 0h3m1 0h2m1 0h2m3 0h4m10 0h2m10 0h3m7 0h2m16 0h3m5 0h2M129 2106h2m30 0h3m13 0h3m8 0h3m5 0h3m3 0h3m3 0h3m3 0h2m1 0h6m6 0h3m9 0h4m2 0h2m1 0h2m2 0h3m6 0h3m4 0h2m17 0h3M129 2107h3m29 0h4m13 0h3m7 0h4m4 0h4m3 0h3m3 0h3m1 0h3m1 0h3m1 0h3m6 0h1m2 0h3m2 0h2m1 0h2m3 0h3m1 0h2m1 0h3m7 0h3m3 0h3m2 0h2m5 0h2m7 0h1M130 2108h3m29 0h4m12 0h4m7 0h3m5 0h3m4 0h3m2 0h3m2 0h3m5 0h3m8 0h3m2 0h2m6 0h2m2 0h2m21 0h3m3 0h5m5 0h2M130 2109h4m29 0h3m13 0h3m8 0h3m5 0h3m4 0h3m2 0h3m10 0h3m7 0h4m9 0h2m26 0h1m4 0h2m1 0h1m6 0h2M131 2110h4m29 0h3m13 0h3m8 0h3m5 0h3m4 0h3m2 0h2m4 0h2m4 0h2m8 0h4m7 0h4m1 0h3m2 0h2M132 2111h3m30 0h3m13 0h3m8 0h3m5 0h3m3 0h3m3 0h3m2 0h2m3 0h2m9 0h2m9 0h8m2 0h2m4 0h2m7 0h3m2 0h2M133 2112h3m29 0h4m12 0h4m7 0h4m4 0h4m3 0h3m2 0h4m1 0h2m2 0h3m36 0h2m7 0h2m3 0h3m11 0h2M134 2113h3m29 0h3m13 0h3m8 0h3m5 0h3m4 0h3m2 0h3m6 0h2m19 0h2m30 0h1m12 0h2M134 2114h4m29 0h3m13 0h3m8 0h3m5 0h2m4 0h4m2 0h3m10 0h3m13 0h2m19 0h3m7 0h3M135 2115h4m29 0h3m13 0h3m8 0h3m11 0h4m2 0h1m11 0h3m13 0h2m20 0h2m7 0h3m9 0h1M136 2116h3m30 0h3m13 0h3m7 0h4m6 0h2m3 0h3m15 0h1m9 0h2m40 0h1m4 0h3M137 2117h3m29 0h4m12 0h4m8 0h2m6 0h2m4 0h3m4 0h2m2 0h2m14 0h2m6 0h2m14 0h2m15 0h5m2 0h2M138 2118h3m29 0h3m13 0h3m8 0h3m5 0h3m4 0h3m2 0h3m2 0h3m21 0h3m8 0h3m2 0h3m14 0h7M138 2119h4m29 0h3m13 0h3m8 0h3m5 0h3m3 0h3m3 0h2m3 0h3m11 0h3m6 0h2m9 0h3m3 0h1m16 0h6M139 2120h3m30 0h3m13 0h3m8 0h3m5 0h3m14 0h2m7 0h1m3 0h3m3 0h3m3 0h1m27 0h2M140 2121h3m29 0h4m13 0h3m7 0h4m5 0h2m14 0h2m6 0h3m4 0h2m2 0h3m1 0h4m25 0h3M141 2122h3m29 0h4m12 0h4m7 0h3m8 0h2m5 0h1m14 0h2m4 0h3m5 0h3M142 2123h3m29 0h3m13 0h3m8 0h3m6 0h3m4 0h3m27 0h2M142 2124h4m29 0h3m13 0h3m8 0h1m8 0h2m5 0h1M143 2125h3m30 0h3m13 0h3M144 2126h3m29 0h4m13 0h3m34 0h2M145 2127h3m29 0h3m13 0h4m17 0h3m3 0h2m8 0h2M145 2128h4m29 0h3m13 0h3m17 0h3m3 0h2m8 0h1M146 2129h4m29 0h3m13 0h3m22 0h2M147 2130h3m30 0h3m13 0h3M148 2131h3m29 0h4m13 0h3m17 0h3M149 2132h3m29 0h3m13 0h3m10 0h2m5 0h3m25 0h3M149 2133h4m29 0h3m13 0h3m8 0h3m5 0h3m25 0h3M150 2134h3m30 0h3m13 0h3m8 0h1M151 2135h3m29 0h2m15 0h3M152 2136h3m30 0h2m13 0h3M153 2137h3m29 0h4M153 2138h4m29 0h3M154 2139h3m30 0h1m1 0h1m45 0h3m10 0h3M155 2140h3m30 0h3m44 0h3m10 0h3M156 2141h3m30 0h2m58 0h1M156 2142h4M157 2143h4M158 2144h3M159 2145h3M160 2146h3M160 2147h4M161 2148h3M162 2149h3M163 2150h3M164 2151h3M164 2152h4M165 2153h3M168 2155h2M168 2156h2M168 2157h2M171 2158h2M171 2159h2M171 2160h2M175 2163h1M174 2164h4M175 2165h3M176 2166h2"/>
<path class="l" d="M103.91 1947.11H522.78V2174.75H103.91Z"/>
<path class="l" d="M143.86 2174.75H488.56M143.86 2174.75V2187.42M258.76 2174.75V2187.42M373.66 2174.75V2187.42M488.56 2174.75V2187.42M103.91 1999.52V2145.42M103.91 1999.52H91.24M103.91 2072.47H91.24M103.91 2145.42H91.24"/>
<text class="m" x="143.86" y="2220.06">0</text>
<text class="m" x="258.76" y="2220.06">5</text>
<text class="m" x="373.66" y="2220.06">10</text>
<text class="m" x="488.56" y="2220.06">15</text>
<text class="m" transform="translate(73.5 1999.52) rotate(-90)">5</text>
<text class="m" transform="translate(73.5 2072.47) rotate(-90)">0</text>
<text class="m" transform="translate(73.5 2145.42) rotate(-90)">-5</text>
<text class="m t" x="313.34" y="1903.71">Sample9</text>
<text class="m" x="313.34" y="2271.05">Average log CPM (this sample and others)</text>
<text class="m y" transform="translate(22.81 2060.93) rotate(-90)">log-ratio (this sample vs others)</text>
</g>
<g>
<path transform="translate(0 .5)" shape-rendering="crispEdges" stroke="#000" stroke-width="1" fill="none" d="M856 1954h2M856 1955h3M857 1956h1M773 1984h3M754 1985h1m18 0h3M753 1986h3M753 1987h3m1 0h2M752 1988h2m3 0h3m13 0h1M744 1989h2m6 0h2m3 0h2m13 0h3M744 1990h3m22 0h2m1 0h3m24 0h2M749 1991h2m5 0h2m1 0h3m6 0h4m27 0h2M749 1992h2m5 0h2m1 0h3m5 0h4m29 0h2M756 1993h1m2 0h2m7 0h1m3 0h4m1 0h2m19 0h4M754 1994h2m3 0h2m1 0h1m4 0h3m2 0h4m1 0h3m18 0h4M753 1995h4m4 0h4m2 0h3m2 0h2m1 0h2m22 0h1m147 0h2M750 1996h6m1 0h1m1 0h6m3 0h4m1 0h4m170 0h3M746 1997h3m1 0h6m1 0h8m2 0h10m39 0h2m130 0h1M737 1998h2m7 0h3m3 0h13m2 0h4m2 0h1m3 0h2m3 0h3m9 0h3m15 0h2m2 0h3M737 1999h2m3 0h3m2 0h2m4 0h12m1 0h4m1 0h3m2 0h3m2 0h5m2 0h5m1 0h3m14 0h3m3 0h1M736 2000h3m3 0h6m2 0h10m2 0h12m2 0h2m3 0h4m3 0h2m1 0h2m2 0h2m1 0h2m12 0h1m3 0h2M736 2001h4m2 0h19m1 0h11m2 0h4m6 0h2m4 0h2m2 0h5m15 0h3M732 2002h2m1 0h36m2 0h7m2 0h2m1 0h3m6 0h3m1 0h3m7 0h2m6 0h1M732 2003h3m1 0h8m1 0h42m5 0h4m3 0h1m8 0h2M732 2004h2m5 0h48m1 0h1m3 0h5m2 0h2m1 0h1m29 0h3M732 2005h2m5 0h5m1 0h45m3 0h4m1 0h6m2 0h2m5 0h3m16 0h2m2 0h3M731 2006h3m4 0h53m1 0h3m3 0h2m2 0h1m3 0h2m5 0h3m20 0h3M732 2007h2m3 0h63m1 0h2m4 0h2m2 0h1m1 0h2m5 0h3m1 0h3M734 2008h69m3 0h7m3 0h2m2 0h3m1 0h3m2 0h2m9 0h2M732 2009h45m1 0h10m1 0h24m3 0h2m6 0h2m3 0h2m9 0h2M732 2010h64m1 0h12m1 0h10m4 0h5m3 0h1m6 0h2M730 2011h82m1 0h7m4 0h5m2 0h5m3 0h2M728 2012h48m2 0h23m1 0h1m2 0h7m1 0h6m3 0h11m1 0h5M726 2013h78m1 0h16m1 0h5m1 0h3m3 0h5m44 0h1M726 2014h100m2 0h2m52 0h2M726 2015h85m1 0h14m2 0h2m5 0h2m10 0h2m33 0h2M725 2016h2m1 0h84m1 0h10m2 0h5m4 0h3m10 0h2M721 2017h3m1 0h6m1 0h43m1 0h46m3 0h5m3 0h4m2 0h2m6 0h2M720 2018h10m1 0h1m1 0h89m1 0h6m2 0h1m1 0h8M721 2019h4m1 0h3m1 0h66m2 0h31m1 0h5m1 0h1m2 0h2m8 0h1M721 2020h108m1 0h7m1 0h2m8 0h3m6 0h1M721 2021h101m1 0h6m1 0h13m5 0h3m3 0h5m6 0h2M721 2022h3m1 0h104m1 0h14m3 0h3m3 0h3m1 0h2m2 0h2m2 0h3M721 2023h79m1 0h40m1 0h2m1 0h5m4 0h1m2 0h6m3 0h1M719 2024h125m1 0h5m8 0h5m32 0h1M719 2025h9m1 0h117m1 0h3m6 0h4m1 0h1m9 0h1m4 0h2m16 0h3M716 2026h130m5 0h2m1 0h6m4 0h2m4 0h3m3 0h2m15 0h4M716 2027h130m4 0h3m1 0h2m2 0h2m1 0h5m1 0h2m1 0h3m4 0h2m2 0h2m10 0h4M719 2028h130m1 0h6m1 0h9m1 0h2m1 0h6m1 0h2m1 0h3m12 0h2m22 0h2M719 2029h114m1 0h14m1 0h1m2 0h13m3 0h1m3 0h7m2 0h1m9 0h2m26 0h3M719 2030h128m1 0h7m2 0h8m2 0h11m12 0h3m9 0h2m16 0h1m2 0h2M719 2031h137m2 0h6m1 0h2m1 0h1m1 0h10m6 0h2m1 0h3m10 0h2m19 0h2M719 2032h138m1 0h6m1 0h16m4 0h6m3 0h2m2 0h2m2 0h2m17 0h1M718 2033h140m2 0h4m1 0h17m2 0h4m1 0h3m1 0h4m1 0h3m9 0h4m7 0h2m29 0h2M719 2034h5m1 0h125m2 0h36m1 0h12m9 0h4m3 0h2m2 0h2m29 0h2M715 2035h133m1 0h4m1 0h12m1 0h20m2 0h4m1 0h6m7 0h2m3 0h2m3 0h2M715 2036h172m1 0h13m2 0h3m1 0h2m2 0h3m2 0h3m42 0h1M716 2037h12m1 0h139m1 0h42m1 0h6m6 0h2m34 0h3M716 2038h156m1 0h30m2 0h9m1 0h3m6 0h3m34 0h1M713 2039h160m1 0h43m4 0h2m1 0h3m44 0h2M713 2040h201m1 0h3m3 0h2m2 0h3m43 0h3M713 2041h2m1 0h144m1 0h58m2 0h2m2 0h2m23 0h1m21 0h1m18 0h1M715 2042h5m1 0h180m1 0h2m2 0h8m2 0h3m2 0h3m4 0h3m4 0h2m12 0h3m38 0h3M715 2043h4m3 0h179m1 0h6m1 0h15m2 0h1m1 0h3m3 0h5m6 0h1m3 0h2m3 0h3m34 0h2M716 2044h5m2 0h178m1 0h6m1 0h6m1 0h6m1 0h5m5 0h7m4 0h3m1 0h3m3 0h3m12 0h1M719 2045h188m1 0h13m2 0h5m6 0h2m1 0h3m4 0h2m2 0h3m17 0h3m40 0h1M715 2046h3m1 0h156m1 0h44m1 0h7m6 0h2m3 0h2m3 0h7m18 0h1m19 0h2m19 0h3M714 2047h4m1 0h193m1 0h13m7 0h3m3 0h2m2 0h3m2 0h6m10 0h2m23 0h2m20 0h1M714 2048h50m1 0h140m1 0h16m2 0h8m1 0h2m3 0h2m3 0h3m4 0h1m1 0h2m10 0h3m22 0h2M716 2049h189m1 0h26m1 0h2m3 0h3m9 0h2m12 0h3M718 2050h178m1 0h17m1 0h2m1 0h8m4 0h4m5 0h1m1 0h1m6 0h5m47 0h2M717 2051h190m1 0h19m3 0h7m3 0h3m3 0h8m9 0h1m36 0h3M716 2052h3m4 0h206m1 0h8m3 0h1m4 0h2m1 0h4m9 0h5m34 0h1M717 2053h1m4 0h192m1 0h14m1 0h4m1 0h3m2 0h2m4 0h2m1 0h3m11 0h4M716 2054h3m1 0h184m2 0h6m3 0h2m2 0h16m1 0h2m2 0h2m7 0h2m8 0h1m5 0h1m1 0h1M714 2055h201m2 0h1m2 0h15m1 0h2m3 0h2m2 0h2m6 0h2m3 0h3m5 0h2M714 2056h3m2 0h10m1 0h148m1 0h28m1 0h3m1 0h3m1 0h12m1 0h3m4 0h4m1 0h3m1 0h2m6 0h2m4 0h2m5 0h2M708 2057h2m5 0h2m1 0h184m1 0h13m1 0h17m2 0h4m5 0h3m39 0h3M706 2058h4m4 0h6m1 0h35m1 0h166m1 0h1m1 0h3m1 0h6m1 0h3m6 0h2m39 0h3M706 2059h3m1 0h2m1 0h38m1 0h163m1 0h6m2 0h5m2 0h2m1 0h2m1 0h2M706 2060h2m1 0h3m1 0h38m1 0h103m1 0h67m1 0h4m1 0h3m1 0h3m4 0h2m4 0h2M706 2061h2m2 0h1m3 0h37m1 0h18m1 0h28m1 0h107m1 0h11m2 0h1m1 0h3m1 0h5m1 0h2m5 0h2m3 0h3m1 0h2m28 0h1m4 0h2m52 0h1M703 2062h5m5 0h16m1 0h40m1 0h12m1 0h56m2 0h68m2 0h10m1 0h8m15 0h5m7 0h1m19 0h2m4 0h3m50 0h3M702 2063h6m5 0h2m2 0h35m1 0h4m1 0h12m1 0h7m1 0h115m1 0h15m3 0h9m3 0h7m15 0h3m7 0h3m18 0h2m5 0h1m51 0h2M702 2064h2m3 0h2m5 0h3m1 0h7m1 0h30m1 0h13m1 0h17m1 0h32m1 0h22m1 0h49m1 0h16m1 0h9m3 0h1m1 0h6m4 0h1m11 0h1m9 0h2M702 2065h2m2 0h3m4 0h4m2 0h6m1 0h12m2 0h17m1 0h15m1 0h8m2 0h44m2 0h3m1 0h10m1 0h67m1 0h6m1 0h1m2 0h3m3 0h2m4 0h2M699 2066h11m2 0h3m3 0h7m2 0h4m1 0h7m1 0h3m1 0h1m1 0h10m1 0h16m1 0h8m1 0h50m1 0h81m1 0h6m2 0h2m2 0h3m4 0h2m6 0h2m7 0h1M699 2067h2m1 0h5m1 0h7m3 0h4m2 0h6m2 0h7m1 0h25m2 0h32m1 0h23m1 0h9m1 0h52m1 0h19m1 0h3m1 0h4m1 0h6m2 0h2m2 0h4m11 0h3m5 0h3M699 2068h2m3 0h3m1 0h3m1 0h2m3 0h2m1 0h9m2 0h11m1 0h5m1 0h3m1 0h6m1 0h5m1 0h5m1 0h2m2 0h8m1 0h7m1 0h61m1 0h54m1 0h2m4 0h2m2 0h3m5 0h3m13 0h1m6 0h2M705 2069h2m1 0h2m7 0h7m2 0h4m1 0h3m4 0h26m1 0h34m1 0h28m1 0h9m1 0h25m1 0h6m1 0h11m1 0h23m2 0h4m3 0h2m3 0h1m53 0h2M696 2070h3m5 0h7m3 0h2m2 0h8m1 0h3m2 0h13m1 0h22m1 0h3m1 0h5m1 0h2m1 0h11m1 0h27m2 0h6m1 0h3m1 0h4m2 0h23m1 0h20m1 0h10m1 0h3m2 0h2m6 0h4m62 0h2M696 2071h5m2 0h9m2 0h2m2 0h1m1 0h1m3 0h19m1 0h7m1 0h6m1 0h17m3 0h6m2 0h6m1 0h20m1 0h6m1 0h10m1 0h6m1 0h15m1 0h28m2 0h17m90 0h1M699 2072h2m2 0h2m2 0h7m3 0h3m3 0h14m1 0h3m3 0h3m1 0h3m1 0h1m1 0h8m1 0h21m1 0h29m1 0h9m4 0h8m1 0h2m2 0h37m1 0h6m3 0h16m14 0h2m72 0h3M697 2073h3m3 0h7m2 0h2m3 0h3m3 0h5m4 0h5m1 0h2m5 0h2m2 0h1m1 0h3m1 0h7m1 0h16m1 0h24m1 0h18m5 0h8m5 0h12m1 0h2m1 0h28m2 0h10m2 0h5m14 0h2m73 0h1M695 2074h6m3 0h6m6 0h5m5 0h2m3 0h3m1 0h1m12 0h3m1 0h2m1 0h2m1 0h1m1 0h2m2 0h5m1 0h4m2 0h3m2 0h6m1 0h4m1 0h22m1 0h8m1 0h2m1 0h4m1 0h5m1 0h8m1 0h1m1 0h7m1 0h1m2 0h24m1 0h4M695 2075h3m1 0h1m4 0h2m1 0h7m4 0h2m6 0h1m2 0h1m2 0h1m2 0h2m11 0h5m4 0h3m8 0h1m1 0h4m2 0h3m2 0h3m2 0h1m6 0h1m2 0h2m1 0h16m1 0h8m1 0h2m2 0h2m2 0h2m1 0h10m5 0h3m7 0h4m1 0h3m1 0h1m4 0h2m2 0h6m1 0h3m193 0h3M695 2076h3m3 0h2m5 0h9m1 0h3m7 0h3m4 0h2m4 0h3m1 0h1m1 0h3m1 0h2m1 0h9m4 0h3m1 0h1m4 0h4m2 0h2m1 0h3m4 0h3m1 0h5m1 0h12m2 0h8m5 0h3m7 0h7m6 0h2m8 0h1m2 0h3m3 0h1m2 0h2m8 0h2m61 0h2m133 0h2M694 2077h3m4 0h4m1 0h1m7 0h3m2 0h3m2 0h1m4 0h3m4 0h1m3 0h10m4 0h10m4 0h2m6 0h4m2 0h2m2 0h1m3 0h2m1 0h2m1 0h5m3 0h6m2 0h8m1 0h2m4 0h4m9 0h5m7 0h2m1 0h2m8 0h2m3 0h3m1 0h2m7 0h5m7 0h1m7 0h2m42 0h2M694 2078h7m1 0h7m9 0h4m1 0h3m4 0h2m4 0h2m2 0h3m1 0h7m3 0h5m1 0h1m1 0h2m1 0h5m1 0h3m3 0h3m10 0h3m11 0h6m1 0h10m6 0h3m8 0h6m7 0h3m1 0h3m7 0h2m4 0h5m8 0h4m6 0h3m6 0h2m42 0h2M693 2079h8m3 0h5m8 0h8m5 0h2m3 0h5m1 0h1m3 0h1m1 0h5m3 0h2m3 0h2m1 0h6m2 0h3m4 0h2m1 0h2m7 0h2m3 0h1m8 0h4m4 0h1m2 0h3m1 0h3m3 0h5m7 0h5m5 0h3m6 0h3m12 0h3m7 0h3m3 0h2m5 0h2m3 0h1m3 0h4M694 2080h3m1 0h1m8 0h1m7 0h1m1 0h2m2 0h3m4 0h4m5 0h4m5 0h3m1 0h1m5 0h2m2 0h2m2 0h5m12 0h2m2 0h1m8 0h3m1 0h2m4 0h4m4 0h7m1 0h2m3 0h5m2 0h2m3 0h5m5 0h3m6 0h2m7 0h1m2 0h2m2 0h2m7 0h3m3 0h2m3 0h2m4 0h3m4 0h2M694 2081h7m7 0h3m3 0h5m1 0h4m4 0h3m6 0h1m1 0h2m6 0h1m8 0h3m3 0h7m9 0h2m2 0h6m3 0h2m2 0h2m1 0h4m10 0h7m7 0h1m5 0h2m2 0h5m14 0h3m6 0h3m1 0h2m11 0h3m2 0h3m3 0h2m5 0h2M695 2082h7m3 0h2m1 0h4m3 0h4m1 0h3m5 0h3m5 0h4m13 0h7m2 0h4m12 0h2m2 0h7m2 0h2m5 0h4m11 0h1m3 0h2m4 0h3m1 0h3m6 0h3m17 0h1m7 0h2m16 0h1m3 0h2m1 0h2M696 2083h5m3 0h3m2 0h2m8 0h3m1 0h1m3 0h1m1 0h1m6 0h4m3 0h2m7 0h4m2 0h2m3 0h2m1 0h3m11 0h4m1 0h3m26 0h7m2 0h3m1 0h3m2 0h1m5 0h2m8 0h3m5 0h3m27 0h2m1 0h5m1 0h1M696 2084h5m3 0h4m8 0h1m2 0h6m1 0h2m9 0h3m3 0h2m5 0h2m1 0h1m1 0h1m8 0h5m11 0h3m31 0h7m1 0h4m2 0h5m5 0h4m6 0h3m5 0h2m28 0h2m1 0h1m2 0h2m1 0h2M697 2085h4m2 0h5m7 0h3m2 0h4m1 0h3m10 0h1m3 0h3m3 0h4m3 0h2m8 0h4m12 0h2m25 0h3m3 0h4m5 0h1m5 0h4m1 0h1m5 0h3m49 0h2m1 0h2M698 2086h3m1 0h6m6 0h4m2 0h8m14 0h2m4 0h4m3 0h2m10 0h2m38 0h4m3 0h4m15 0h3m1 0h1m2 0h2m50 0h2M698 2087h3m1 0h5m1 0h3m3 0h2m5 0h3m1 0h2m12 0h1m8 0h2m4 0h2m41 0h2m8 0h4m5 0h2m16 0h5M708 2088h3m3 0h2m3 0h5m14 0h3m7 0h2m4 0h2m16 0h2m23 0h2m37 0h2m10 0h1M709 2089h1m9 0h7m12 0h2m5 0h2m1 0h2m22 0h3m49 0h2m22 0h2M707 2090h3m14 0h3m2 0h2m2 0h2m10 0h2m25 0h2m16 0h3m21 0h2m8 0h2m22 0h2M707 2091h3m15 0h1m3 0h2m2 0h3m54 0h3m21 0h2M702 2092h3m24 0h2m2 0h2m7 0h1m11 0h2M703 2093h2m36 0h3m9 0h3m57 0h3M704 2094h2m7 0h2m11 0h3m13 0h1m9 0h4m44 0h2m1 0h1m9 0h3m45 0h2M704 2095h3m6 0h2m11 0h3m23 0h5m3 0h2m38 0h5m4 0h2m50 0h2M755 2096h1m4 0h3m39 0h2m4 0h3M723 2097h3m35 0h1m47 0h1M720 2098h2m1 0h2M720 2099h2M710 2100h1M709 2101h3M710 2102h1M712 2105h2m38 0h3M712 2106h3m37 0h2M713 2107h1m44 0h3M758 2108h3M721 2109h1M720 2110h3M717 2111h2m1 0h2M717 2112h2m3 0h2M722 2113h3M723 2114h1M776 2115h2M776 2116h2M763 2130h2M763 2131h2M734 2137h2M734 2138h2M737 2140h2M737 2141h2M737 2142h2M741 2146h2M741 2147h3M742 2148h1M744 2149h1M743 2150h3M744 2151h2M755 2165h2M754 2166h3M755 2167h1"/>
<path class="l" d="M679.91 1947.11H1098.78V2174.75H679.91Z"/>
<path class="l" d="M715.27 2174.75H1058.47M715.27 2174.75V2187.42M829.67 2174.75V2187.42M944.07 2174.75V2187.42M1058.47 2174.75V2187.42M679.91 1954.09V2149.21M679.91 1954.09H667.24M679.91 1986.61H667.24M679.91 2019.13H667.24M679.91 2051.65H667.24M679.91 2084.17H667.24M679.91 2116.69H667.24M679.91 2149.21H667.24"/>
<text class="m" x="715.27" y="2220.06">0</text>
<text class="m" x="829.67" y="2220.06">5</text>
<text class="m" x="944.07" y="2220.06">10</text>
<text class="m" x="1058.47" y="2220.06">15</text>
<text class="m" transform="translate(649.5 1954.09) rotate(-90)">6</text>
<text class="m" transform="translate(649.5 1986.61) rotate(-90)">4</text>
<text class="m" transform="translate(649.5 2019.13) rotate(-90)">2</text>
<text class="m" transform="translate(649.5 2084.17) rotate(-90)">-2</text>
<text class="m" transform="translate(649.5 2149.21) rotate(-90)">-6</text>
<text class="m t" x="889.34" y="1903.71">Sample10</text>
<text class="m" x="889.34" y="2271.05">Average log CPM (this sample and others)</text>
<text class="m y" transform="translate(598.81 2060.93) rotate(-90)">log-ratio (this sample vs others)</text>
</g>
</svg>
</body></html>
